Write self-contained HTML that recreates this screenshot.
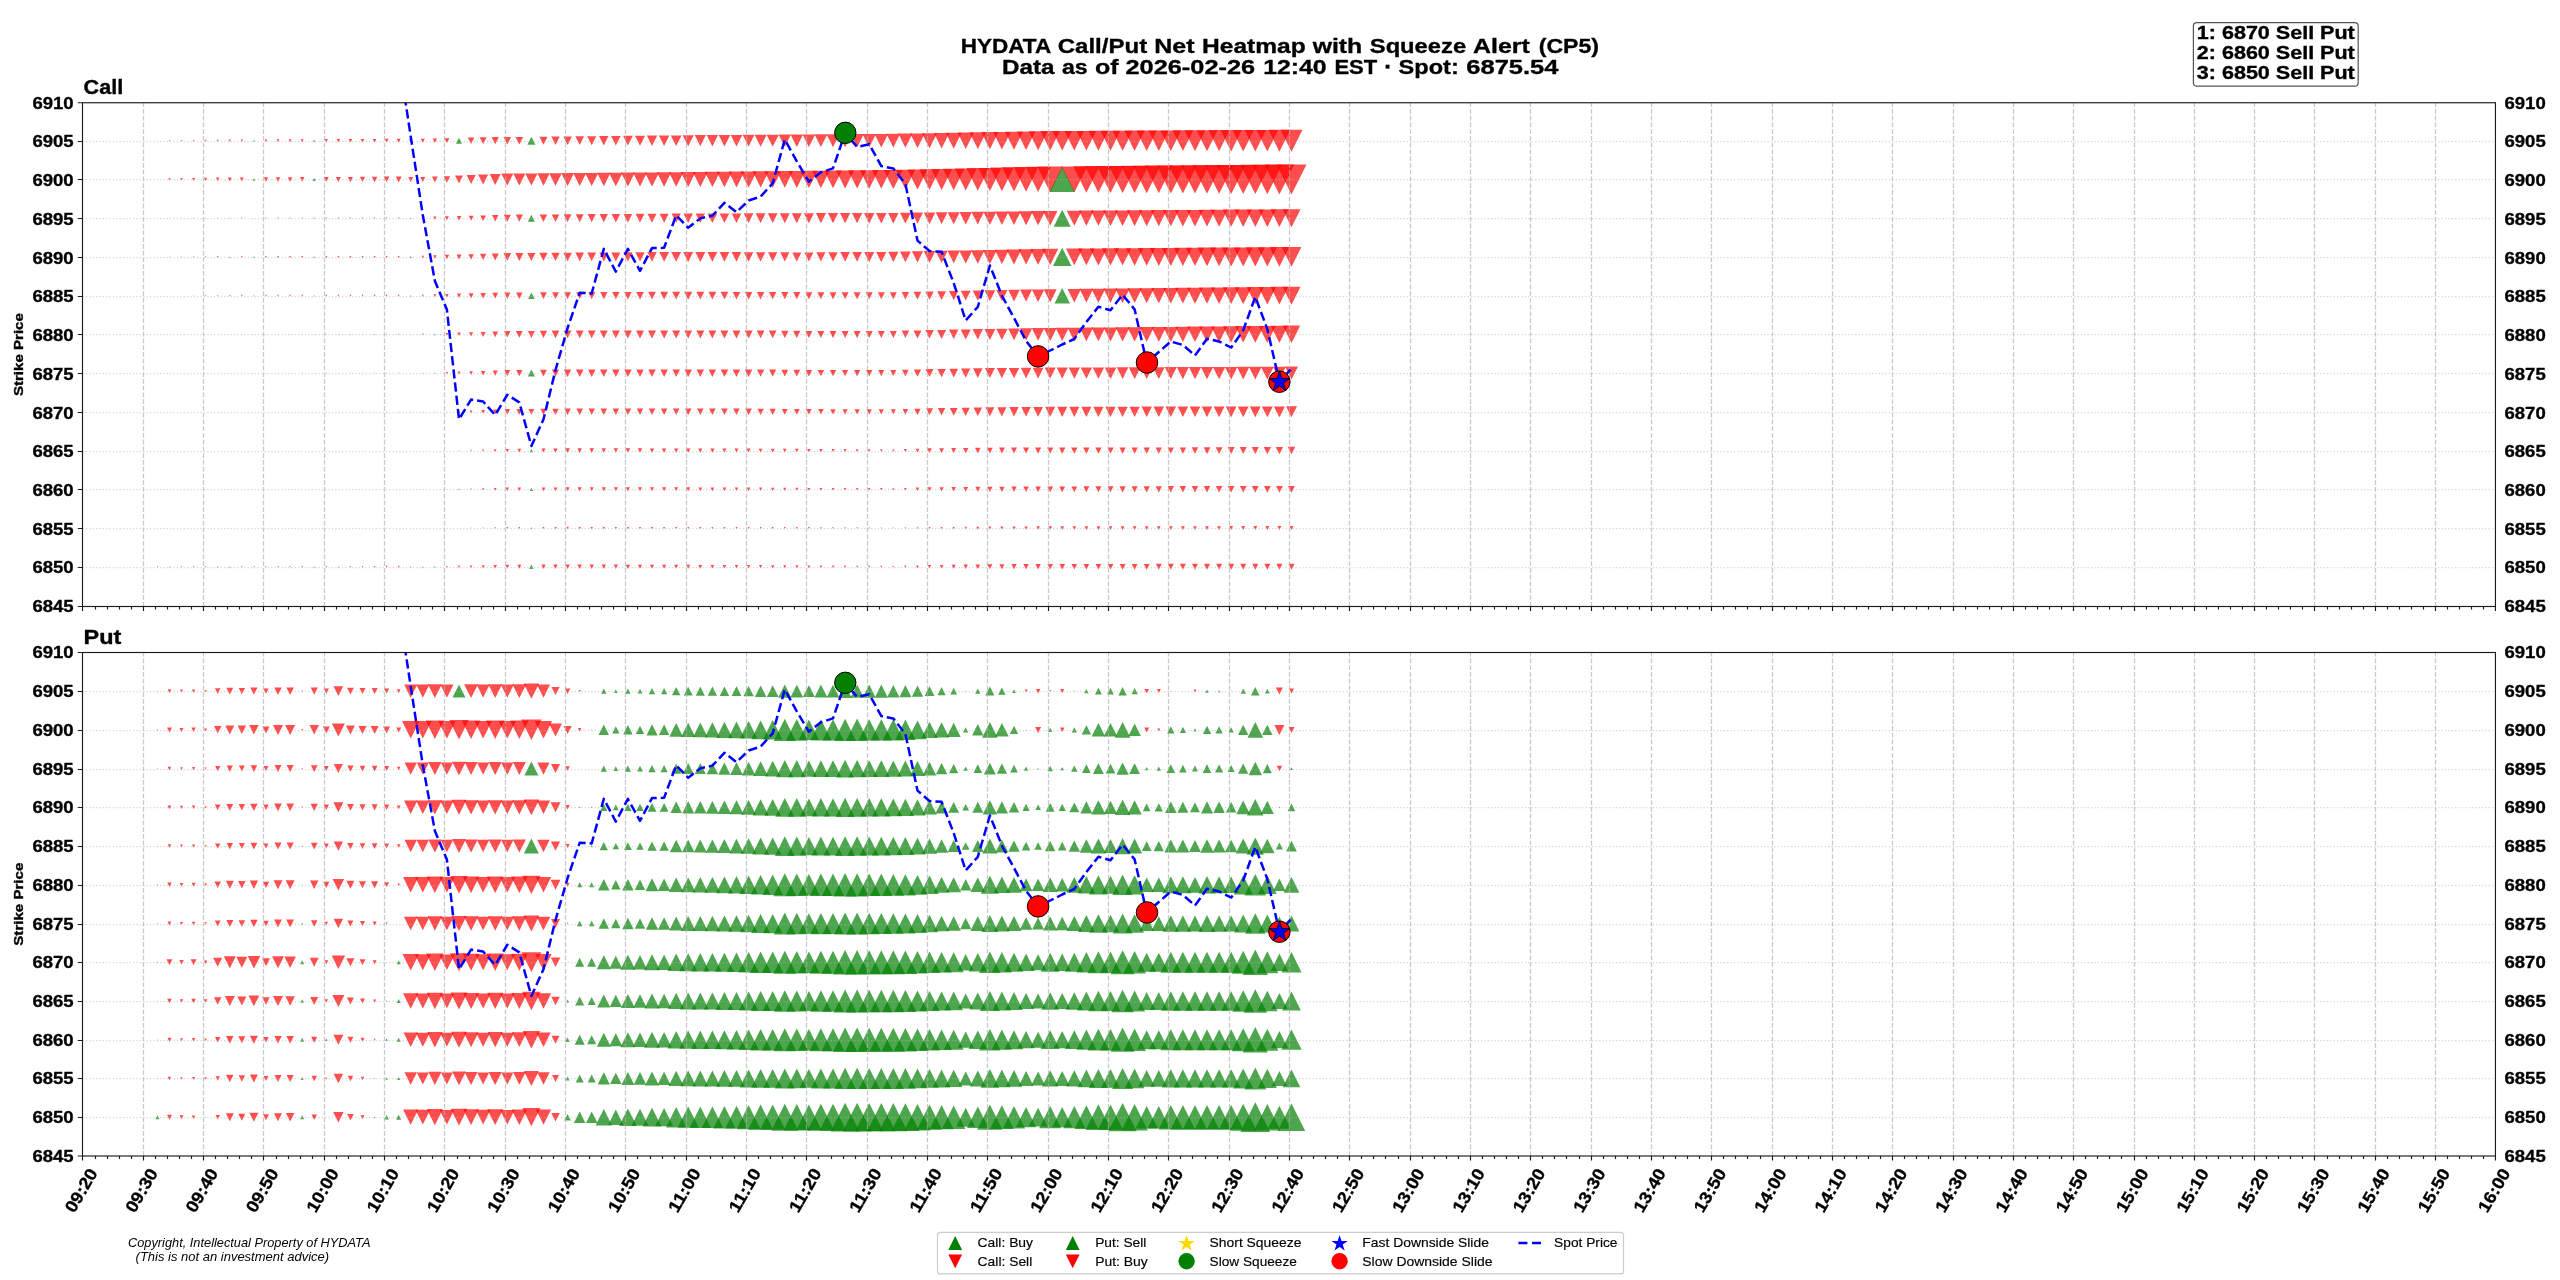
<!DOCTYPE html>
<html><head><meta charset="utf-8"><title>HYDATA Call/Put Net Heatmap</title>
<style>html,body{margin:0;padding:0;background:#fff}svg{display:block}</style></head>
<body>
<svg width="2560" height="1280" viewBox="0 0 2560 1280" font-family="Liberation Sans, sans-serif" fill="#000">
<rect width="2560" height="1280" fill="#fff"/>
<g opacity=".999">
<style>text[font-weight=bold]{stroke:#000;stroke-width:.35px;stroke-linejoin:round}</style>
<defs>
<clipPath id="c1"><rect x="82.5" y="102.75" width="2412.95" height="503.75"/></clipPath>
<clipPath id="c2"><rect x="82.5" y="652.5" width="2412.95" height="503.5"/></clipPath>
</defs>
<g clip-path="url(#c1)">
<g fill="#f00" fill-opacity=".7">
<path d="M169.5 141.4L168.8 140.0H170.1Z"/>
<path d="M181.5 141.5L180.7 139.9H182.3Z"/>
<path d="M193.6 141.6L192.7 139.9H194.5Z"/>
<path d="M205.6 141.7L204.7 139.8H206.6Z"/>
<path d="M217.7 141.8L216.6 139.7H218.8Z"/>
<path d="M229.8 141.9L228.6 139.6H230.9Z"/>
<path d="M241.8 142.0L240.6 139.5H243.1Z"/>
<path d="M266.0 142.1L264.6 139.4H267.3Z"/>
<path d="M278.0 142.1L276.6 139.3H279.4Z"/>
<path d="M290.1 142.2L288.6 139.3H291.6Z"/>
<path d="M302.2 142.2L300.6 139.2H303.7Z"/>
<path d="M326.3 142.4L324.7 139.1H327.9Z"/>
<path d="M338.4 142.4L336.7 139.0H340.0Z"/>
<path d="M350.4 142.5L348.7 139.0H352.2Z"/>
<path d="M362.5 142.5L360.7 138.9H364.3Z"/>
<path d="M374.6 142.6L372.7 138.9H376.4Z"/>
<path d="M386.6 142.7L384.7 138.8H388.6Z"/>
<path d="M398.7 142.8L396.6 138.7H400.7Z"/>
<path d="M410.7 142.4L409.0 139.0H412.4Z"/>
<path d="M422.8 142.7L420.8 138.7H424.8Z"/>
<path d="M434.9 143.0L432.6 138.5H437.1Z"/>
<path d="M446.9 143.2L444.4 138.2H449.4Z"/>
<path d="M471.1 144.0L467.8 137.5H474.3Z"/>
<path d="M483.1 144.1L479.7 137.3H486.6Z"/>
<path d="M495.2 144.3L491.6 137.1H498.8Z"/>
<path d="M507.3 144.5L503.5 137.0H511.0Z"/>
<path d="M519.3 144.6L515.5 136.9H523.2Z"/>
<path d="M543.5 144.8L539.4 136.7H547.5Z"/>
<path d="M555.5 144.9L551.4 136.6H559.7Z"/>
<path d="M567.6 145.0L563.3 136.5H571.9Z"/>
<path d="M579.7 145.1L575.3 136.3H584.0Z"/>
<path d="M591.7 145.2L587.2 136.2H596.2Z"/>
<path d="M603.8 145.4L599.1 136.1H608.4Z"/>
<path d="M615.8 145.5L611.1 136.0H620.6Z"/>
<path d="M627.9 145.6L623.0 135.8H632.8Z"/>
<path d="M640.0 145.7L635.0 135.7H645.0Z"/>
<path d="M652.0 145.9L646.9 135.6H657.2Z"/>
<path d="M664.1 146.0L658.9 135.5H669.4Z"/>
<path d="M676.2 146.1L670.8 135.4H681.5Z"/>
<path d="M688.2 146.2L682.7 135.2H693.7Z"/>
<path d="M700.3 146.3L694.7 135.1H705.9Z"/>
<path d="M712.4 146.4L706.7 135.1H718.0Z"/>
<path d="M724.4 146.5L718.7 135.0H730.2Z"/>
<path d="M736.5 146.6L730.7 134.9H742.3Z"/>
<path d="M748.6 146.6L742.6 134.8H754.5Z"/>
<path d="M760.6 146.7L754.6 134.7H766.6Z"/>
<path d="M772.7 146.8L766.6 134.7H778.8Z"/>
<path d="M784.8 146.9L778.6 134.6H790.9Z"/>
<path d="M796.8 147.0L790.6 134.5H803.1Z"/>
<path d="M808.9 147.1L802.6 134.4H815.2Z"/>
<path d="M820.9 147.1L814.5 134.3H827.4Z"/>
<path d="M833.0 147.2L826.5 134.2H839.5Z"/>
<path d="M845.1 147.3L838.5 134.2H851.6Z"/>
<path d="M857.1 147.4L850.5 134.1H863.8Z"/>
<path d="M869.2 147.5L862.5 134.0H875.9Z"/>
<path d="M881.3 147.5L874.5 133.9H888.1Z"/>
<path d="M893.3 147.6L886.4 133.8H900.2Z"/>
<path d="M905.4 147.8L898.3 133.6H912.5Z"/>
<path d="M917.5 148.1L910.1 133.4H924.8Z"/>
<path d="M929.5 148.3L922.0 133.2H937.1Z"/>
<path d="M941.6 148.5L933.9 133.0H949.3Z"/>
<path d="M953.7 148.7L945.7 132.8H961.6Z"/>
<path d="M965.7 148.9L957.6 132.6H973.9Z"/>
<path d="M977.8 149.1L969.4 132.3H986.2Z"/>
<path d="M989.9 149.3L981.3 132.1H998.4Z"/>
<path d="M1001.9 149.5L993.1 131.9H1010.7Z"/>
<path d="M1014.0 149.7L1005.0 131.7H1023.0Z"/>
<path d="M1026.1 150.0L1016.8 131.5H1035.3Z"/>
<path d="M1038.1 150.2L1028.7 131.3H1047.6Z"/>
<path d="M1050.2 150.4L1040.5 131.1H1059.8Z"/>
<path d="M1062.2 150.4L1052.5 131.0H1072.0Z"/>
<path d="M1074.3 150.5L1064.5 130.9H1084.1Z"/>
<path d="M1086.4 150.6L1076.5 130.9H1096.2Z"/>
<path d="M1098.4 150.7L1088.5 130.8H1108.4Z"/>
<path d="M1110.5 150.7L1100.5 130.7H1120.5Z"/>
<path d="M1122.6 150.8L1112.5 130.7H1132.6Z"/>
<path d="M1134.6 150.9L1124.5 130.6H1144.8Z"/>
<path d="M1146.7 150.9L1136.5 130.5H1156.9Z"/>
<path d="M1158.8 151.0L1148.5 130.5H1169.0Z"/>
<path d="M1170.8 151.1L1160.5 130.4H1181.2Z"/>
<path d="M1182.9 151.1L1172.5 130.3H1193.3Z"/>
<path d="M1195.0 151.2L1184.5 130.3H1205.4Z"/>
<path d="M1207.0 151.3L1196.5 130.2H1217.5Z"/>
<path d="M1219.1 151.3L1208.5 130.1H1229.7Z"/>
<path d="M1231.2 151.4L1220.5 130.1H1241.8Z"/>
<path d="M1243.2 151.5L1232.5 130.0H1253.9Z"/>
<path d="M1255.3 151.5L1244.5 129.9H1266.1Z"/>
<path d="M1267.3 151.6L1256.5 129.9H1278.2Z"/>
<path d="M1279.4 151.7L1268.5 129.8H1290.3Z"/>
<path d="M1291.5 151.7L1280.5 129.7H1302.5Z"/>
<path d="M169.5 180.6L168.3 178.3H170.6Z"/>
<path d="M181.5 180.8L180.2 178.1H182.9Z"/>
<path d="M193.6 181.0L192.1 178.0H195.1Z"/>
<path d="M205.6 181.1L204.0 177.8H207.3Z"/>
<path d="M217.7 181.3L215.9 177.6H219.5Z"/>
<path d="M229.8 181.4L227.8 177.5H231.7Z"/>
<path d="M241.8 181.5L239.8 177.4H243.9Z"/>
<path d="M266.0 181.7L263.8 177.2H268.2Z"/>
<path d="M278.0 181.7L275.8 177.2H280.3Z"/>
<path d="M290.1 181.7L287.8 177.2H292.4Z"/>
<path d="M302.2 181.8L299.9 177.1H304.5Z"/>
<path d="M326.3 181.8L323.9 177.1H328.7Z"/>
<path d="M338.4 181.9L335.9 177.0H340.8Z"/>
<path d="M350.4 182.0L347.9 176.9H353.0Z"/>
<path d="M362.5 182.1L359.9 176.8H365.1Z"/>
<path d="M374.6 182.2L371.8 176.7H377.3Z"/>
<path d="M386.6 182.3L383.8 176.6H389.4Z"/>
<path d="M398.7 182.4L395.8 176.5H401.6Z"/>
<path d="M410.7 181.9L408.3 177.0H413.2Z"/>
<path d="M422.8 182.0L420.3 177.0H425.3Z"/>
<path d="M434.9 182.3L432.0 176.6H437.8Z"/>
<path d="M446.9 182.7L443.7 176.2H450.2Z"/>
<path d="M459.0 183.5L455.0 175.5H463.0Z"/>
<path d="M471.1 184.0L466.6 175.0H475.6Z"/>
<path d="M483.1 184.5L478.1 174.5H488.1Z"/>
<path d="M495.2 185.0L489.7 174.0H500.7Z"/>
<path d="M507.3 185.5L501.3 173.5H513.3Z"/>
<path d="M519.3 185.5L513.3 173.4H525.4Z"/>
<path d="M531.4 185.6L525.3 173.4H537.5Z"/>
<path d="M543.5 185.7L537.3 173.3H549.7Z"/>
<path d="M555.5 185.8L549.2 173.2H561.8Z"/>
<path d="M567.6 185.9L561.2 173.1H574.0Z"/>
<path d="M579.7 186.0L573.2 173.0H586.2Z"/>
<path d="M591.7 186.1L585.1 172.9H598.3Z"/>
<path d="M603.8 186.2L597.1 172.8H610.5Z"/>
<path d="M615.8 186.3L609.0 172.7H622.6Z"/>
<path d="M627.9 186.4L621.0 172.6H634.8Z"/>
<path d="M640.0 186.5L633.0 172.5H647.0Z"/>
<path d="M652.0 186.6L644.9 172.4H659.1Z"/>
<path d="M664.1 186.7L656.9 172.3H671.3Z"/>
<path d="M676.2 186.8L668.9 172.2H683.5Z"/>
<path d="M688.2 186.9L680.8 172.1H695.6Z"/>
<path d="M700.3 187.0L692.8 171.9H707.8Z"/>
<path d="M712.4 187.1L704.7 171.8H720.0Z"/>
<path d="M724.4 187.2L716.7 171.7H732.2Z"/>
<path d="M736.5 187.4L728.6 171.6H744.4Z"/>
<path d="M748.6 187.5L740.5 171.4H756.6Z"/>
<path d="M760.6 187.6L752.5 171.3H768.8Z"/>
<path d="M772.7 187.7L764.4 171.2H781.0Z"/>
<path d="M784.8 187.8L776.4 171.1H793.1Z"/>
<path d="M796.8 188.0L788.3 170.9H805.3Z"/>
<path d="M808.9 188.1L800.2 170.8H817.5Z"/>
<path d="M820.9 188.2L812.2 170.7H829.7Z"/>
<path d="M833.0 188.3L824.1 170.6H841.9Z"/>
<path d="M845.1 188.5L836.1 170.5H854.1Z"/>
<path d="M857.1 188.6L848.0 170.3H866.3Z"/>
<path d="M869.2 188.7L860.0 170.2H878.5Z"/>
<path d="M881.3 188.8L871.9 170.1H890.6Z"/>
<path d="M893.3 189.0L883.8 170.0H902.8Z"/>
<path d="M905.4 189.2L895.6 169.7H915.2Z"/>
<path d="M917.5 189.5L907.4 169.4H927.5Z"/>
<path d="M929.5 189.7L919.2 169.2H939.8Z"/>
<path d="M941.6 190.0L931.1 168.9H952.1Z"/>
<path d="M953.7 190.3L942.9 168.7H964.5Z"/>
<path d="M965.7 190.5L954.7 168.4H976.8Z"/>
<path d="M977.8 190.8L966.5 168.1H989.1Z"/>
<path d="M989.9 191.1L978.3 167.9H1001.4Z"/>
<path d="M1001.9 191.3L990.1 167.6H1013.8Z"/>
<path d="M1014.0 191.6L1001.9 167.3H1026.1Z"/>
<path d="M1026.1 191.8L1013.7 167.1H1038.4Z"/>
<path d="M1038.1 192.1L1025.5 166.8H1050.8Z"/>
<path d="M1050.2 192.4L1037.3 166.6H1063.1Z"/>
<path d="M1074.3 192.6L1061.2 166.4H1087.4Z"/>
<path d="M1086.4 192.7L1073.2 166.2H1099.6Z"/>
<path d="M1098.4 192.8L1085.1 166.1H1111.8Z"/>
<path d="M1110.5 192.9L1097.1 166.0H1123.9Z"/>
<path d="M1122.6 193.0L1109.0 165.9H1136.1Z"/>
<path d="M1134.6 193.1L1121.0 165.8H1148.3Z"/>
<path d="M1146.7 193.2L1133.0 165.7H1160.4Z"/>
<path d="M1158.8 193.3L1144.9 165.6H1172.6Z"/>
<path d="M1170.8 193.4L1156.9 165.5H1184.8Z"/>
<path d="M1182.9 193.5L1168.8 165.4H1196.9Z"/>
<path d="M1195.0 193.6L1180.8 165.3H1209.1Z"/>
<path d="M1207.0 193.7L1192.8 165.2H1221.3Z"/>
<path d="M1219.1 193.8L1204.7 165.1H1233.5Z"/>
<path d="M1231.2 193.9L1216.7 165.0H1245.6Z"/>
<path d="M1243.2 194.0L1228.6 164.9H1257.8Z"/>
<path d="M1255.3 194.1L1240.6 164.8H1270.0Z"/>
<path d="M1267.3 194.3L1252.6 164.7H1282.1Z"/>
<path d="M1279.4 194.4L1264.5 164.6H1294.3Z"/>
<path d="M1291.5 194.5L1276.5 164.5H1306.5Z"/>
<path d="M169.5 218.6L169.0 217.8H169.9Z"/>
<path d="M181.5 218.6L181.1 217.7H182.0Z"/>
<path d="M193.6 218.7L193.1 217.7H194.1Z"/>
<path d="M205.6 218.7L205.2 217.7H206.1Z"/>
<path d="M217.7 218.7L217.2 217.7H218.2Z"/>
<path d="M229.8 218.7L229.2 217.7H230.3Z"/>
<path d="M241.8 218.7L241.3 217.6H242.4Z"/>
<path d="M266.0 218.8L265.4 217.6H266.6Z"/>
<path d="M278.0 218.8L277.4 217.6H278.6Z"/>
<path d="M290.1 218.8L289.5 217.6H290.7Z"/>
<path d="M302.2 218.8L301.5 217.5H302.8Z"/>
<path d="M314.2 218.9L313.6 217.5H314.9Z"/>
<path d="M326.3 218.9L325.6 217.5H327.0Z"/>
<path d="M338.4 218.9L337.7 217.5H339.1Z"/>
<path d="M350.4 218.9L349.7 217.5H351.2Z"/>
<path d="M362.5 218.9L361.7 217.4H363.2Z"/>
<path d="M374.6 219.0L373.8 217.4H375.3Z"/>
<path d="M386.6 219.0L385.8 217.4H387.4Z"/>
<path d="M398.7 219.0L397.9 217.4H399.5Z"/>
<path d="M422.8 219.4L421.6 216.9H424.1Z"/>
<path d="M434.9 219.8L433.3 216.6H436.5Z"/>
<path d="M446.9 220.2L444.9 216.2H448.9Z"/>
<path d="M459.0 220.4L456.8 215.9H461.3Z"/>
<path d="M471.1 220.7L468.6 215.7H473.6Z"/>
<path d="M483.1 221.0L480.3 215.4H486.0Z"/>
<path d="M495.2 221.4L492.0 215.0H498.4Z"/>
<path d="M507.3 221.7L503.8 214.7H510.8Z"/>
<path d="M519.3 221.8L515.8 214.6H522.9Z"/>
<path d="M543.5 221.9L539.7 214.5H547.2Z"/>
<path d="M555.5 222.0L551.7 214.4H559.3Z"/>
<path d="M567.6 222.1L563.7 214.3H571.5Z"/>
<path d="M579.7 222.2L575.7 214.2H583.6Z"/>
<path d="M591.7 222.3L587.7 214.1H595.8Z"/>
<path d="M603.8 222.3L599.6 214.1H607.9Z"/>
<path d="M615.8 222.4L611.6 214.0H620.1Z"/>
<path d="M627.9 222.5L623.6 213.9H632.2Z"/>
<path d="M640.0 222.6L635.6 213.8H644.4Z"/>
<path d="M652.0 222.7L647.6 213.7H656.5Z"/>
<path d="M664.1 222.7L659.6 213.7H668.6Z"/>
<path d="M676.2 222.8L671.6 213.6H680.8Z"/>
<path d="M688.2 222.9L683.5 213.5H692.9Z"/>
<path d="M700.3 222.9L695.6 213.5H705.0Z"/>
<path d="M712.4 223.0L707.6 213.4H717.1Z"/>
<path d="M724.4 223.0L719.6 213.4H729.2Z"/>
<path d="M736.5 223.0L731.7 213.4H741.3Z"/>
<path d="M748.6 223.1L743.7 213.3H753.4Z"/>
<path d="M760.6 223.1L755.7 213.3H765.5Z"/>
<path d="M772.7 223.1L767.8 213.3H777.6Z"/>
<path d="M784.8 223.2L779.8 213.2H789.7Z"/>
<path d="M796.8 223.2L791.8 213.2H801.8Z"/>
<path d="M808.9 223.2L803.9 213.2H813.9Z"/>
<path d="M820.9 223.2L815.9 213.1H826.0Z"/>
<path d="M833.0 223.3L827.9 213.1H838.1Z"/>
<path d="M845.1 223.3L840.0 213.1H850.2Z"/>
<path d="M857.1 223.3L852.0 213.0H862.3Z"/>
<path d="M869.2 223.4L864.0 213.0H874.4Z"/>
<path d="M881.3 223.4L876.1 213.0H886.5Z"/>
<path d="M893.3 223.4L888.1 212.9H898.6Z"/>
<path d="M905.4 223.6L900.0 212.8H910.8Z"/>
<path d="M917.5 223.8L911.9 212.6H923.0Z"/>
<path d="M929.5 223.9L923.8 212.5H935.3Z"/>
<path d="M941.6 224.1L935.7 212.3H947.5Z"/>
<path d="M953.7 224.2L947.6 212.2H959.7Z"/>
<path d="M965.7 224.4L959.5 212.0H971.9Z"/>
<path d="M977.8 224.5L971.4 211.8H984.1Z"/>
<path d="M989.9 224.7L983.3 211.7H996.4Z"/>
<path d="M1001.9 224.9L995.3 211.5H1008.6Z"/>
<path d="M1014.0 225.0L1007.2 211.4H1020.8Z"/>
<path d="M1026.1 225.2L1019.1 211.2H1033.0Z"/>
<path d="M1038.1 225.3L1031.0 211.0H1045.3Z"/>
<path d="M1050.2 225.5L1042.9 210.9H1057.5Z"/>
<path d="M1074.3 225.7L1066.8 210.7H1081.8Z"/>
<path d="M1086.4 225.7L1078.8 210.6H1093.9Z"/>
<path d="M1098.4 225.8L1090.8 210.6H1106.1Z"/>
<path d="M1110.5 225.9L1102.8 210.5H1118.2Z"/>
<path d="M1122.6 226.0L1114.8 210.4H1130.4Z"/>
<path d="M1134.6 226.1L1126.7 210.3H1142.5Z"/>
<path d="M1146.7 226.2L1138.7 210.2H1154.7Z"/>
<path d="M1158.8 226.3L1150.7 210.1H1166.8Z"/>
<path d="M1170.8 226.3L1162.7 210.0H1179.0Z"/>
<path d="M1182.9 226.4L1174.7 210.0H1191.1Z"/>
<path d="M1195.0 226.5L1186.6 209.9H1203.3Z"/>
<path d="M1207.0 226.6L1198.6 209.8H1215.4Z"/>
<path d="M1219.1 226.7L1210.6 209.7H1227.6Z"/>
<path d="M1231.2 226.8L1222.6 209.6H1239.7Z"/>
<path d="M1243.2 226.9L1234.6 209.5H1251.9Z"/>
<path d="M1255.3 226.9L1246.5 209.4H1264.0Z"/>
<path d="M1267.3 227.0L1258.5 209.4H1276.2Z"/>
<path d="M1279.4 227.1L1270.5 209.3H1288.3Z"/>
<path d="M1291.5 227.2L1282.5 209.2H1300.5Z"/>
<path d="M169.5 257.4L169.0 256.5H169.9Z"/>
<path d="M181.5 257.4L181.0 256.4H182.0Z"/>
<path d="M193.6 257.5L193.0 256.3H194.2Z"/>
<path d="M205.6 257.6L204.9 256.2H206.3Z"/>
<path d="M217.7 257.7L216.9 256.1H218.5Z"/>
<path d="M241.8 257.8L241.0 256.0H242.7Z"/>
<path d="M266.0 257.8L265.0 256.0H266.9Z"/>
<path d="M278.0 257.9L277.1 256.0H279.0Z"/>
<path d="M290.1 257.9L289.1 256.0H291.1Z"/>
<path d="M302.2 257.9L301.2 256.0H303.1Z"/>
<path d="M326.3 257.9L325.3 255.9H327.3Z"/>
<path d="M338.4 257.9L337.4 255.9H339.4Z"/>
<path d="M350.4 257.9L349.4 255.9H351.4Z"/>
<path d="M362.5 257.9L361.5 255.9H363.5Z"/>
<path d="M374.6 257.9L373.6 255.9H375.6Z"/>
<path d="M386.6 257.9L385.6 255.9H387.6Z"/>
<path d="M398.7 257.9L397.7 255.9H399.7Z"/>
<path d="M422.8 258.2L421.6 255.7H424.1Z"/>
<path d="M434.9 258.7L433.1 255.2H436.6Z"/>
<path d="M446.9 259.2L444.7 254.7H449.2Z"/>
<path d="M459.0 259.4L456.5 254.4H461.5Z"/>
<path d="M471.1 259.7L468.3 254.2H473.8Z"/>
<path d="M483.1 260.1L480.0 253.8H486.3Z"/>
<path d="M495.2 260.4L491.7 253.4H498.7Z"/>
<path d="M507.3 260.8L503.4 253.0H511.2Z"/>
<path d="M519.3 260.9L515.4 252.9H523.3Z"/>
<path d="M531.4 261.0L527.3 252.9H535.4Z"/>
<path d="M543.5 261.0L539.3 252.8H547.6Z"/>
<path d="M555.5 261.1L551.3 252.7H559.7Z"/>
<path d="M567.6 261.2L563.3 252.7H571.9Z"/>
<path d="M579.7 261.3L575.3 252.6H584.0Z"/>
<path d="M591.7 261.3L587.3 252.5H596.1Z"/>
<path d="M603.8 261.4L599.3 252.4H608.3Z"/>
<path d="M615.8 261.5L611.3 252.4H620.4Z"/>
<path d="M627.9 261.6L623.3 252.3H632.5Z"/>
<path d="M640.0 261.6L635.3 252.2H644.7Z"/>
<path d="M652.0 261.7L647.3 252.1H656.8Z"/>
<path d="M664.1 261.8L659.3 252.1H669.0Z"/>
<path d="M676.2 261.8L671.2 252.0H681.1Z"/>
<path d="M688.2 261.9L683.2 251.9H693.2Z"/>
<path d="M700.3 261.9L695.4 252.0H705.3Z"/>
<path d="M712.4 261.8L707.5 252.0H717.3Z"/>
<path d="M724.4 261.8L719.6 252.1H729.3Z"/>
<path d="M736.5 261.7L731.7 252.1H741.3Z"/>
<path d="M748.6 261.7L743.8 252.2H753.3Z"/>
<path d="M760.6 261.6L755.9 252.2H765.3Z"/>
<path d="M772.7 261.6L768.0 252.3H777.3Z"/>
<path d="M784.8 261.5L780.2 252.3H789.4Z"/>
<path d="M796.8 261.5L792.3 252.4H801.4Z"/>
<path d="M808.9 261.4L804.4 252.4H813.4Z"/>
<path d="M820.9 261.5L816.4 252.3H825.5Z"/>
<path d="M833.0 261.6L828.3 252.2H837.7Z"/>
<path d="M845.1 261.7L840.3 252.1H849.9Z"/>
<path d="M857.1 261.8L852.3 252.1H862.0Z"/>
<path d="M869.2 261.9L864.2 252.0H874.2Z"/>
<path d="M881.3 262.0L876.2 251.9H886.3Z"/>
<path d="M893.3 262.1L888.2 251.8H898.5Z"/>
<path d="M905.4 262.3L900.0 251.5H910.8Z"/>
<path d="M917.5 262.5L911.9 251.3H923.1Z"/>
<path d="M929.5 262.8L923.7 251.1H935.4Z"/>
<path d="M941.6 263.0L935.5 250.8H947.7Z"/>
<path d="M953.7 263.2L947.4 250.6H960.0Z"/>
<path d="M965.7 263.5L959.2 250.4H972.3Z"/>
<path d="M977.8 263.7L971.0 250.2H984.6Z"/>
<path d="M989.9 263.9L982.9 249.9H996.9Z"/>
<path d="M1001.9 264.1L994.7 249.7H1009.1Z"/>
<path d="M1014.0 264.4L1006.5 249.5H1021.4Z"/>
<path d="M1026.1 264.6L1018.4 249.2H1033.7Z"/>
<path d="M1038.1 264.8L1030.2 249.0H1046.0Z"/>
<path d="M1050.2 265.1L1042.0 248.8H1058.3Z"/>
<path d="M1074.3 265.2L1066.0 248.6H1082.6Z"/>
<path d="M1086.4 265.3L1078.0 248.5H1094.8Z"/>
<path d="M1098.4 265.4L1089.9 248.4H1106.9Z"/>
<path d="M1110.5 265.5L1101.9 248.3H1119.1Z"/>
<path d="M1122.6 265.6L1113.9 248.2H1131.2Z"/>
<path d="M1134.6 265.7L1125.9 248.2H1143.4Z"/>
<path d="M1146.7 265.8L1137.8 248.1H1155.5Z"/>
<path d="M1158.8 265.9L1149.8 248.0H1167.7Z"/>
<path d="M1170.8 265.9L1161.8 247.9H1179.9Z"/>
<path d="M1182.9 266.0L1173.8 247.8H1192.0Z"/>
<path d="M1195.0 266.1L1185.8 247.7H1204.2Z"/>
<path d="M1207.0 266.2L1197.7 247.6H1216.3Z"/>
<path d="M1219.1 266.3L1209.7 247.5H1228.5Z"/>
<path d="M1231.2 266.4L1221.7 247.5H1240.6Z"/>
<path d="M1243.2 266.5L1233.7 247.4H1252.8Z"/>
<path d="M1255.3 266.6L1245.6 247.3H1264.9Z"/>
<path d="M1267.3 266.6L1257.6 247.2H1277.1Z"/>
<path d="M1279.4 266.7L1269.6 247.1H1289.2Z"/>
<path d="M1291.5 266.8L1281.6 247.0H1301.4Z"/>
<path d="M193.6 296.1L193.1 295.2H194.0Z"/>
<path d="M205.6 296.2L205.1 295.1H206.2Z"/>
<path d="M217.7 296.3L217.1 295.0H218.3Z"/>
<path d="M229.8 296.4L229.1 294.9H230.5Z"/>
<path d="M241.8 296.5L241.0 294.8H242.7Z"/>
<path d="M266.0 296.5L265.1 294.8H266.8Z"/>
<path d="M278.0 296.5L277.2 294.8H278.9Z"/>
<path d="M290.1 296.5L289.2 294.8H291.0Z"/>
<path d="M302.2 296.6L301.3 294.8H303.1Z"/>
<path d="M326.3 296.6L325.4 294.7H327.2Z"/>
<path d="M338.4 296.6L337.4 294.7H339.3Z"/>
<path d="M350.4 296.6L349.5 294.7H351.4Z"/>
<path d="M362.5 296.6L361.6 294.7H363.4Z"/>
<path d="M374.6 296.6L373.6 294.7H375.5Z"/>
<path d="M386.6 296.6L385.7 294.7H387.6Z"/>
<path d="M398.7 296.6L397.7 294.7H399.6Z"/>
<path d="M422.8 296.7L421.8 294.7H423.8Z"/>
<path d="M434.9 297.0L433.5 294.3H436.3Z"/>
<path d="M446.9 297.4L445.2 293.9H448.7Z"/>
<path d="M459.0 297.8L456.9 293.5H461.1Z"/>
<path d="M471.1 298.2L468.6 293.2H473.6Z"/>
<path d="M483.1 298.4L480.4 292.9H485.9Z"/>
<path d="M495.2 298.6L492.3 292.7H498.1Z"/>
<path d="M507.3 298.8L504.1 292.5H510.4Z"/>
<path d="M519.3 298.9L516.1 292.4H522.5Z"/>
<path d="M543.5 299.0L540.1 292.3H546.8Z"/>
<path d="M555.5 299.0L552.1 292.3H558.9Z"/>
<path d="M567.6 299.1L564.2 292.2H571.0Z"/>
<path d="M579.7 299.1L576.2 292.2H583.1Z"/>
<path d="M591.7 299.2L588.2 292.1H595.3Z"/>
<path d="M603.8 299.3L600.2 292.1H607.4Z"/>
<path d="M615.8 299.3L612.2 292.0H619.5Z"/>
<path d="M627.9 299.4L624.2 291.9H631.6Z"/>
<path d="M640.0 299.4L636.2 291.9H643.8Z"/>
<path d="M652.0 299.5L648.2 291.8H655.9Z"/>
<path d="M664.1 299.5L660.2 291.8H668.0Z"/>
<path d="M676.2 299.6L672.2 291.7H680.1Z"/>
<path d="M688.2 299.7L684.2 291.7H692.2Z"/>
<path d="M700.3 299.6L696.4 291.7H704.3Z"/>
<path d="M712.4 299.6L708.5 291.8H716.3Z"/>
<path d="M724.4 299.5L720.6 291.8H728.3Z"/>
<path d="M736.5 299.5L732.7 291.9H740.3Z"/>
<path d="M748.6 299.4L744.8 291.9H752.3Z"/>
<path d="M760.6 299.4L756.9 292.0H764.3Z"/>
<path d="M772.7 299.3L769.0 292.0H776.3Z"/>
<path d="M784.8 299.3L781.2 292.1H788.4Z"/>
<path d="M796.8 299.2L793.3 292.1H800.4Z"/>
<path d="M808.9 299.2L805.4 292.2H812.4Z"/>
<path d="M820.9 299.2L817.4 292.2H824.4Z"/>
<path d="M833.0 299.2L829.5 292.2H836.5Z"/>
<path d="M845.1 299.2L841.6 292.2H848.6Z"/>
<path d="M857.1 299.2L853.6 292.2H860.6Z"/>
<path d="M869.2 299.2L865.7 292.2H872.7Z"/>
<path d="M881.3 299.2L877.8 292.2H884.8Z"/>
<path d="M893.3 299.2L889.8 292.2H896.8Z"/>
<path d="M905.4 299.4L901.7 291.9H909.1Z"/>
<path d="M917.5 299.6L913.5 291.7H921.4Z"/>
<path d="M929.5 299.8L925.3 291.5H933.7Z"/>
<path d="M941.6 300.1L937.2 291.2H946.0Z"/>
<path d="M953.7 300.3L949.0 291.0H958.3Z"/>
<path d="M965.7 300.5L960.8 290.8H970.6Z"/>
<path d="M977.8 300.8L972.7 290.5H982.9Z"/>
<path d="M989.9 301.0L984.5 290.3H995.2Z"/>
<path d="M1001.9 301.2L996.3 290.1H1007.5Z"/>
<path d="M1014.0 301.5L1008.2 289.8H1019.8Z"/>
<path d="M1026.1 301.7L1020.0 289.6H1032.1Z"/>
<path d="M1038.1 301.9L1031.8 289.4H1044.4Z"/>
<path d="M1050.2 302.2L1043.7 289.2H1056.7Z"/>
<path d="M1074.3 302.4L1067.6 288.9H1081.1Z"/>
<path d="M1086.4 302.5L1079.5 288.8H1093.2Z"/>
<path d="M1098.4 302.7L1091.4 288.7H1105.4Z"/>
<path d="M1110.5 302.8L1103.4 288.5H1117.6Z"/>
<path d="M1122.6 302.9L1115.3 288.4H1129.8Z"/>
<path d="M1134.6 303.0L1127.3 288.3H1142.0Z"/>
<path d="M1146.7 303.2L1139.2 288.2H1154.2Z"/>
<path d="M1158.8 303.3L1151.1 288.0H1166.4Z"/>
<path d="M1170.8 303.4L1163.1 287.9H1178.6Z"/>
<path d="M1182.9 303.5L1175.0 287.8H1190.8Z"/>
<path d="M1195.0 303.7L1187.0 287.7H1203.0Z"/>
<path d="M1207.0 303.8L1198.9 287.5H1215.1Z"/>
<path d="M1219.1 303.9L1210.8 287.4H1227.3Z"/>
<path d="M1231.2 304.0L1222.8 287.3H1239.5Z"/>
<path d="M1243.2 304.2L1234.7 287.2H1251.7Z"/>
<path d="M1255.3 304.3L1246.7 287.0H1263.9Z"/>
<path d="M1267.3 304.4L1258.6 286.9H1276.1Z"/>
<path d="M1279.4 304.5L1270.5 286.8H1288.3Z"/>
<path d="M1291.5 304.7L1282.5 286.7H1300.5Z"/>
<path d="M229.8 334.7L229.5 334.1H230.1Z"/>
<path d="M241.8 334.7L241.5 334.1H242.2Z"/>
<path d="M253.9 334.7L253.6 334.0H254.3Z"/>
<path d="M266.0 334.8L265.6 334.0H266.3Z"/>
<path d="M278.0 334.8L277.7 334.0H278.4Z"/>
<path d="M290.1 334.8L289.7 334.0H290.5Z"/>
<path d="M302.2 334.8L301.7 334.0H302.6Z"/>
<path d="M314.2 334.8L313.8 333.9H314.7Z"/>
<path d="M326.3 334.8L325.8 333.9H326.8Z"/>
<path d="M338.4 334.9L337.9 333.9H338.8Z"/>
<path d="M350.4 334.9L349.9 333.9H350.9Z"/>
<path d="M362.5 334.9L362.0 333.9H363.0Z"/>
<path d="M374.6 334.9L374.0 333.9H375.1Z"/>
<path d="M386.6 334.9L386.1 333.8H387.2Z"/>
<path d="M398.7 334.9L398.1 333.8H399.2Z"/>
<path d="M422.8 335.2L422.0 333.6H423.6Z"/>
<path d="M446.9 335.8L445.6 333.0H448.3Z"/>
<path d="M459.0 336.1L457.3 332.6H460.8Z"/>
<path d="M471.1 336.5L468.9 332.3H473.2Z"/>
<path d="M483.1 336.9L480.6 331.9H485.6Z"/>
<path d="M495.2 337.3L492.3 331.5H498.1Z"/>
<path d="M507.3 337.6L504.0 331.1H510.5Z"/>
<path d="M519.3 337.8L515.9 331.0H522.7Z"/>
<path d="M531.4 337.9L527.9 330.9H534.9Z"/>
<path d="M543.5 338.1L539.8 330.7H547.1Z"/>
<path d="M555.5 338.2L551.7 330.6H559.3Z"/>
<path d="M567.6 338.3L563.6 330.4H571.5Z"/>
<path d="M579.7 338.3L575.7 330.4H583.6Z"/>
<path d="M591.7 338.3L587.8 330.4H595.7Z"/>
<path d="M603.8 338.3L599.8 330.4H607.7Z"/>
<path d="M615.8 338.3L611.9 330.4H619.8Z"/>
<path d="M627.9 338.4L623.9 330.4H631.9Z"/>
<path d="M640.0 338.4L636.0 330.4H643.9Z"/>
<path d="M652.0 338.4L648.1 330.4H656.0Z"/>
<path d="M664.1 338.4L660.1 330.4H668.1Z"/>
<path d="M676.2 338.4L672.2 330.4H680.2Z"/>
<path d="M688.2 338.4L684.3 330.4H692.2Z"/>
<path d="M700.3 338.4L696.3 330.4H704.3Z"/>
<path d="M712.4 338.4L708.4 330.4H716.4Z"/>
<path d="M724.4 338.4L720.4 330.4H728.4Z"/>
<path d="M736.5 338.4L732.5 330.4H740.5Z"/>
<path d="M748.6 338.4L744.6 330.4H752.6Z"/>
<path d="M760.6 338.3L756.7 330.5H764.5Z"/>
<path d="M772.7 338.2L768.9 330.6H776.5Z"/>
<path d="M784.8 338.1L781.1 330.7H788.5Z"/>
<path d="M796.8 338.0L793.2 330.8H800.4Z"/>
<path d="M808.9 337.9L805.4 330.9H812.4Z"/>
<path d="M820.9 337.9L817.4 330.9H824.4Z"/>
<path d="M833.0 337.9L829.5 330.9H836.5Z"/>
<path d="M845.1 337.9L841.6 330.9H848.6Z"/>
<path d="M857.1 337.9L853.6 330.9H860.6Z"/>
<path d="M869.2 337.9L865.7 330.9H872.7Z"/>
<path d="M881.3 337.9L877.8 330.9H884.8Z"/>
<path d="M893.3 337.9L889.8 330.9H896.8Z"/>
<path d="M905.4 338.1L901.7 330.6H909.2Z"/>
<path d="M917.5 338.4L913.5 330.4H921.5Z"/>
<path d="M929.5 338.6L925.3 330.1H933.8Z"/>
<path d="M941.6 338.9L937.1 329.9H946.1Z"/>
<path d="M953.7 339.1L948.9 329.6H958.4Z"/>
<path d="M965.7 339.4L960.7 329.4H970.7Z"/>
<path d="M977.8 339.6L972.5 329.1H983.0Z"/>
<path d="M989.9 339.9L984.4 328.9H995.4Z"/>
<path d="M1001.9 340.1L996.2 328.7H1007.6Z"/>
<path d="M1014.0 340.3L1008.1 328.5H1019.9Z"/>
<path d="M1026.1 340.5L1020.0 328.3H1032.2Z"/>
<path d="M1038.1 340.7L1031.8 328.1H1044.4Z"/>
<path d="M1050.2 340.9L1043.7 327.9H1056.7Z"/>
<path d="M1062.2 341.0L1055.6 327.8H1068.8Z"/>
<path d="M1074.3 341.1L1067.6 327.7H1081.0Z"/>
<path d="M1086.4 341.2L1079.6 327.6H1093.2Z"/>
<path d="M1098.4 341.3L1091.5 327.5H1105.3Z"/>
<path d="M1110.5 341.4L1103.5 327.4H1117.5Z"/>
<path d="M1122.6 341.5L1115.5 327.3H1129.7Z"/>
<path d="M1134.6 341.6L1127.4 327.2H1141.8Z"/>
<path d="M1146.7 341.7L1139.4 327.1H1154.0Z"/>
<path d="M1158.8 341.8L1151.4 327.0H1166.2Z"/>
<path d="M1170.8 341.9L1163.3 326.9H1178.3Z"/>
<path d="M1182.9 342.0L1175.3 326.8H1190.5Z"/>
<path d="M1195.0 342.1L1187.2 326.6H1202.7Z"/>
<path d="M1207.0 342.3L1199.1 326.5H1214.9Z"/>
<path d="M1219.1 342.4L1211.1 326.4H1227.1Z"/>
<path d="M1231.2 342.5L1223.0 326.3H1239.3Z"/>
<path d="M1243.2 342.6L1235.0 326.1H1251.5Z"/>
<path d="M1255.3 342.8L1246.9 326.0H1263.7Z"/>
<path d="M1267.3 342.9L1258.8 325.9H1275.8Z"/>
<path d="M1279.4 343.0L1270.8 325.8H1288.0Z"/>
<path d="M1291.5 343.1L1282.7 325.6H1300.2Z"/>
<path d="M229.8 373.4L229.5 372.9H230.0Z"/>
<path d="M241.8 373.4L241.6 372.8H242.1Z"/>
<path d="M253.9 373.4L253.6 372.8H254.2Z"/>
<path d="M266.0 373.4L265.7 372.8H266.3Z"/>
<path d="M278.0 373.4L277.7 372.8H278.3Z"/>
<path d="M290.1 373.4L289.8 372.8H290.4Z"/>
<path d="M302.2 373.5L301.8 372.8H302.5Z"/>
<path d="M314.2 373.5L313.9 372.8H314.6Z"/>
<path d="M326.3 373.5L325.9 372.7H326.7Z"/>
<path d="M338.4 373.5L338.0 372.7H338.8Z"/>
<path d="M350.4 373.5L350.0 372.7H350.8Z"/>
<path d="M362.5 373.5L362.1 372.7H362.9Z"/>
<path d="M374.6 373.6L374.1 372.7H375.0Z"/>
<path d="M386.6 373.6L386.2 372.7H387.1Z"/>
<path d="M398.7 373.6L398.2 372.6H399.2Z"/>
<path d="M446.9 374.2L445.8 372.0H448.1Z"/>
<path d="M459.0 374.6L457.5 371.6H460.5Z"/>
<path d="M471.1 375.0L469.2 371.2H472.9Z"/>
<path d="M483.1 375.4L480.9 370.9H485.4Z"/>
<path d="M495.2 375.7L492.6 370.5H497.8Z"/>
<path d="M507.3 376.1L504.3 370.1H510.3Z"/>
<path d="M519.3 376.3L516.2 370.0H522.5Z"/>
<path d="M543.5 376.6L540.0 369.7H546.9Z"/>
<path d="M555.5 376.7L551.9 369.5H559.1Z"/>
<path d="M567.6 376.9L563.8 369.4H571.3Z"/>
<path d="M579.7 376.9L575.9 369.4H583.4Z"/>
<path d="M591.7 376.9L588.0 369.4H595.5Z"/>
<path d="M603.8 376.9L600.0 369.4H607.5Z"/>
<path d="M615.8 376.9L612.1 369.4H619.6Z"/>
<path d="M627.9 376.9L624.2 369.4H631.7Z"/>
<path d="M640.0 376.9L636.2 369.4H643.7Z"/>
<path d="M652.0 376.9L648.3 369.4H655.8Z"/>
<path d="M664.1 376.9L660.4 369.4H667.9Z"/>
<path d="M676.2 376.9L672.4 369.4H679.9Z"/>
<path d="M688.2 376.9L684.5 369.4H692.0Z"/>
<path d="M700.3 376.9L696.6 369.4H704.1Z"/>
<path d="M712.4 376.9L708.6 369.4H716.1Z"/>
<path d="M724.4 376.9L720.7 369.4H728.2Z"/>
<path d="M736.5 376.9L732.7 369.4H740.2Z"/>
<path d="M748.6 376.9L744.8 369.4H752.3Z"/>
<path d="M760.6 376.8L757.0 369.5H764.3Z"/>
<path d="M772.7 376.7L769.1 369.6H776.2Z"/>
<path d="M784.8 376.6L781.3 369.7H788.2Z"/>
<path d="M796.8 376.5L793.5 369.8H800.2Z"/>
<path d="M808.9 376.4L805.6 369.9H812.1Z"/>
<path d="M820.9 376.3L817.7 369.9H824.2Z"/>
<path d="M833.0 376.3L829.8 369.9H836.2Z"/>
<path d="M845.1 376.3L841.9 370.0H848.2Z"/>
<path d="M857.1 376.2L854.0 370.0H860.3Z"/>
<path d="M869.2 376.2L866.1 370.0H872.3Z"/>
<path d="M881.3 376.2L878.2 370.1H884.3Z"/>
<path d="M893.3 376.1L890.3 370.1H896.3Z"/>
<path d="M905.4 376.4L902.1 369.8H908.7Z"/>
<path d="M917.5 376.8L913.8 369.4H921.1Z"/>
<path d="M929.5 377.1L925.5 369.1H933.5Z"/>
<path d="M941.6 377.3L937.4 368.9H945.8Z"/>
<path d="M953.7 377.5L949.3 368.7H958.1Z"/>
<path d="M965.7 377.7L961.1 368.5H970.3Z"/>
<path d="M977.8 377.9L973.0 368.3H982.6Z"/>
<path d="M989.9 378.1L984.9 368.1H994.9Z"/>
<path d="M1001.9 378.2L996.8 368.0H1007.0Z"/>
<path d="M1014.0 378.3L1008.8 367.9H1019.2Z"/>
<path d="M1026.1 378.4L1020.8 367.8H1031.4Z"/>
<path d="M1038.1 378.5L1032.7 367.7H1043.5Z"/>
<path d="M1050.2 378.6L1044.7 367.6H1055.7Z"/>
<path d="M1062.2 378.7L1056.7 367.6H1067.8Z"/>
<path d="M1074.3 378.7L1068.7 367.5H1079.9Z"/>
<path d="M1086.4 378.8L1080.7 367.5H1092.0Z"/>
<path d="M1098.4 378.8L1092.7 367.4H1104.1Z"/>
<path d="M1110.5 378.9L1104.8 367.4H1116.3Z"/>
<path d="M1122.6 378.9L1116.8 367.3H1128.4Z"/>
<path d="M1134.6 379.0L1128.8 367.3H1140.5Z"/>
<path d="M1146.7 379.0L1140.8 367.2H1152.6Z"/>
<path d="M1158.8 379.1L1152.8 367.2H1164.7Z"/>
<path d="M1170.8 379.1L1164.8 367.1H1176.8Z"/>
<path d="M1182.9 379.2L1176.8 367.1H1188.9Z"/>
<path d="M1195.0 379.2L1188.9 367.0H1201.1Z"/>
<path d="M1207.0 379.3L1200.9 367.0H1213.2Z"/>
<path d="M1219.1 379.3L1212.9 366.9H1225.3Z"/>
<path d="M1231.2 379.4L1224.9 366.9H1237.4Z"/>
<path d="M1243.2 379.4L1236.9 366.8H1249.5Z"/>
<path d="M1255.3 379.5L1248.9 366.8H1261.6Z"/>
<path d="M1267.3 379.5L1260.9 366.7H1273.7Z"/>
<path d="M1279.4 379.6L1273.0 366.7H1285.9Z"/>
<path d="M1291.5 379.6L1285.0 366.6H1298.0Z"/>
<path d="M326.3 412.1L326.0 411.6H326.5Z"/>
<path d="M338.4 412.1L338.1 411.6H338.6Z"/>
<path d="M350.4 412.2L350.1 411.5H350.7Z"/>
<path d="M362.5 412.2L362.1 411.5H362.8Z"/>
<path d="M374.6 412.2L374.2 411.5H374.9Z"/>
<path d="M386.6 412.3L386.2 411.4H387.0Z"/>
<path d="M398.7 412.3L398.2 411.4H399.1Z"/>
<path d="M410.7 412.2L410.4 411.5H411.1Z"/>
<path d="M422.8 412.2L422.4 411.4H423.2Z"/>
<path d="M434.9 412.3L434.5 411.4H435.3Z"/>
<path d="M446.9 412.3L446.5 411.4H447.4Z"/>
<path d="M459.0 412.8L458.0 410.8H460.0Z"/>
<path d="M471.1 413.3L469.6 410.4H472.5Z"/>
<path d="M483.1 413.7L481.3 410.0H485.0Z"/>
<path d="M495.2 414.2L492.9 409.5H497.5Z"/>
<path d="M507.3 414.6L504.5 409.1H510.0Z"/>
<path d="M519.3 414.7L516.5 409.0H522.2Z"/>
<path d="M531.4 414.8L528.4 408.9H534.3Z"/>
<path d="M543.5 414.9L540.4 408.8H546.5Z"/>
<path d="M555.5 415.0L552.4 408.7H558.7Z"/>
<path d="M567.6 415.1L564.3 408.6H570.8Z"/>
<path d="M579.7 415.1L576.4 408.6H582.9Z"/>
<path d="M591.7 415.1L588.5 408.6H595.0Z"/>
<path d="M603.8 415.1L600.5 408.6H607.0Z"/>
<path d="M615.8 415.1L612.6 408.6H619.1Z"/>
<path d="M627.9 415.1L624.7 408.6H631.2Z"/>
<path d="M640.0 415.1L636.7 408.6H643.2Z"/>
<path d="M652.0 415.1L648.8 408.6H655.3Z"/>
<path d="M664.1 415.1L660.9 408.6H667.4Z"/>
<path d="M676.2 415.1L672.9 408.6H679.4Z"/>
<path d="M688.2 415.1L685.0 408.6H691.5Z"/>
<path d="M700.3 415.1L697.1 408.6H703.6Z"/>
<path d="M712.4 415.1L709.1 408.6H715.6Z"/>
<path d="M724.4 415.1L721.2 408.6H727.7Z"/>
<path d="M736.5 415.1L733.2 408.6H739.7Z"/>
<path d="M748.6 415.1L745.3 408.6H751.8Z"/>
<path d="M760.6 415.0L757.5 408.7H763.8Z"/>
<path d="M772.7 414.9L769.6 408.8H775.7Z"/>
<path d="M784.8 414.8L781.8 408.9H787.7Z"/>
<path d="M796.8 414.7L794.0 409.0H799.7Z"/>
<path d="M808.9 414.6L806.1 409.1H811.6Z"/>
<path d="M820.9 414.6L818.2 409.1H823.7Z"/>
<path d="M833.0 414.5L830.3 409.2H835.7Z"/>
<path d="M845.1 414.5L842.4 409.2H847.7Z"/>
<path d="M857.1 414.5L854.5 409.2H859.8Z"/>
<path d="M869.2 414.4L866.6 409.3H871.8Z"/>
<path d="M881.3 414.4L878.7 409.3H883.8Z"/>
<path d="M893.3 414.3L890.8 409.3H895.8Z"/>
<path d="M905.4 414.7L902.6 409.0H908.2Z"/>
<path d="M917.5 415.0L914.3 408.7H920.6Z"/>
<path d="M929.5 415.3L926.0 408.3H933.0Z"/>
<path d="M941.6 415.5L937.9 408.1H945.3Z"/>
<path d="M953.7 415.7L949.8 407.9H957.6Z"/>
<path d="M965.7 415.9L961.6 407.7H969.8Z"/>
<path d="M977.8 416.1L973.5 407.5H982.1Z"/>
<path d="M989.9 416.3L985.4 407.3H994.4Z"/>
<path d="M1001.9 416.4L997.3 407.2H1006.5Z"/>
<path d="M1014.0 416.5L1009.3 407.1H1018.7Z"/>
<path d="M1026.1 416.6L1021.3 407.0H1030.9Z"/>
<path d="M1038.1 416.7L1033.2 406.9H1043.0Z"/>
<path d="M1050.2 416.8L1045.2 406.8H1055.2Z"/>
<path d="M1062.2 416.9L1057.2 406.8H1067.3Z"/>
<path d="M1074.3 416.9L1069.3 406.8H1079.4Z"/>
<path d="M1086.4 416.9L1081.3 406.8H1091.4Z"/>
<path d="M1098.4 416.9L1093.3 406.7H1103.5Z"/>
<path d="M1110.5 417.0L1105.4 406.7H1115.6Z"/>
<path d="M1122.6 417.0L1117.4 406.7H1127.7Z"/>
<path d="M1134.6 417.0L1129.5 406.7H1139.8Z"/>
<path d="M1146.7 417.0L1141.5 406.6H1151.9Z"/>
<path d="M1158.8 417.1L1153.5 406.6H1164.0Z"/>
<path d="M1170.8 417.1L1165.6 406.6H1176.1Z"/>
<path d="M1182.9 417.1L1177.6 406.6H1188.2Z"/>
<path d="M1195.0 417.1L1189.7 406.5H1200.3Z"/>
<path d="M1207.0 417.2L1201.7 406.5H1212.3Z"/>
<path d="M1219.1 417.2L1213.7 406.5H1224.4Z"/>
<path d="M1231.2 417.2L1225.8 406.5H1236.5Z"/>
<path d="M1243.2 417.2L1237.8 406.4H1248.6Z"/>
<path d="M1255.3 417.3L1249.9 406.4H1260.7Z"/>
<path d="M1267.3 417.3L1261.9 406.4H1272.8Z"/>
<path d="M1279.4 417.3L1273.9 406.4H1284.9Z"/>
<path d="M1291.5 417.3L1286.0 406.3H1297.0Z"/>
<path d="M459.0 451.0L458.5 450.1H459.5Z"/>
<path d="M471.1 451.4L470.3 449.8H471.8Z"/>
<path d="M483.1 451.7L482.0 449.5H484.2Z"/>
<path d="M495.2 452.0L493.8 449.2H496.6Z"/>
<path d="M507.3 452.3L505.5 448.9H509.0Z"/>
<path d="M519.3 452.4L517.5 448.7H521.2Z"/>
<path d="M543.5 452.6L541.4 448.5H545.5Z"/>
<path d="M555.5 452.8L553.3 448.4H557.7Z"/>
<path d="M567.6 452.9L565.3 448.3H569.9Z"/>
<path d="M579.7 452.9L577.4 448.3H581.9Z"/>
<path d="M591.7 452.9L589.4 448.3H594.0Z"/>
<path d="M603.8 452.8L601.5 448.3H606.0Z"/>
<path d="M615.8 452.8L613.6 448.3H618.1Z"/>
<path d="M627.9 452.8L625.7 448.3H630.2Z"/>
<path d="M640.0 452.8L637.7 448.3H642.2Z"/>
<path d="M652.0 452.8L649.8 448.4H654.3Z"/>
<path d="M664.1 452.8L661.9 448.4H666.3Z"/>
<path d="M676.2 452.8L674.0 448.4H678.4Z"/>
<path d="M688.2 452.8L686.1 448.4H690.4Z"/>
<path d="M700.3 452.7L698.2 448.4H702.4Z"/>
<path d="M712.4 452.7L710.3 448.5H714.5Z"/>
<path d="M724.4 452.6L722.4 448.5H726.5Z"/>
<path d="M736.5 452.6L734.5 448.6H738.5Z"/>
<path d="M748.6 452.5L746.6 448.6H750.5Z"/>
<path d="M760.6 452.5L758.7 448.7H762.5Z"/>
<path d="M772.7 452.4L770.8 448.7H774.6Z"/>
<path d="M784.8 452.4L782.9 448.8H786.6Z"/>
<path d="M796.8 452.3L795.0 448.8H798.6Z"/>
<path d="M808.9 452.3L807.2 448.9H810.6Z"/>
<path d="M820.9 452.2L819.3 448.9H822.6Z"/>
<path d="M833.0 452.1L831.5 449.0H834.6Z"/>
<path d="M845.1 452.1L843.6 449.1H846.6Z"/>
<path d="M857.1 452.0L855.7 449.2H858.5Z"/>
<path d="M869.2 451.9L867.9 449.3H870.5Z"/>
<path d="M881.3 451.8L880.0 449.3H882.5Z"/>
<path d="M893.3 451.7L892.2 449.4H894.5Z"/>
<path d="M905.4 452.1L903.9 449.0H906.9Z"/>
<path d="M917.5 452.5L915.6 448.7H919.4Z"/>
<path d="M929.5 452.9L927.2 448.3H931.8Z"/>
<path d="M941.6 453.0L939.2 448.2H944.0Z"/>
<path d="M953.7 453.1L951.1 448.0H956.2Z"/>
<path d="M965.7 453.2L963.1 447.9H968.4Z"/>
<path d="M977.8 453.3L975.0 447.8H980.6Z"/>
<path d="M989.9 453.5L987.0 447.7H992.7Z"/>
<path d="M1001.9 453.5L999.0 447.6H1004.9Z"/>
<path d="M1014.0 453.6L1011.0 447.6H1017.0Z"/>
<path d="M1026.1 453.6L1023.0 447.5H1029.1Z"/>
<path d="M1038.1 453.7L1035.0 447.5H1041.2Z"/>
<path d="M1050.2 453.7L1047.0 447.4H1053.3Z"/>
<path d="M1062.2 453.7L1059.1 447.4H1065.4Z"/>
<path d="M1074.3 453.7L1071.1 447.4H1077.5Z"/>
<path d="M1086.4 453.7L1083.2 447.4H1089.5Z"/>
<path d="M1098.4 453.7L1095.3 447.4H1101.6Z"/>
<path d="M1110.5 453.7L1107.3 447.4H1113.7Z"/>
<path d="M1122.6 453.7L1119.4 447.4H1125.7Z"/>
<path d="M1134.6 453.7L1131.5 447.4H1137.8Z"/>
<path d="M1146.7 453.7L1143.5 447.4H1149.9Z"/>
<path d="M1158.8 453.7L1155.6 447.4H1161.9Z"/>
<path d="M1170.8 453.7L1167.7 447.4H1174.0Z"/>
<path d="M1182.9 453.8L1179.7 447.4H1186.1Z"/>
<path d="M1195.0 453.9L1191.7 447.3H1198.2Z"/>
<path d="M1207.0 453.9L1203.7 447.2H1210.4Z"/>
<path d="M1219.1 454.0L1215.7 447.2H1222.5Z"/>
<path d="M1231.2 454.0L1227.7 447.1H1234.6Z"/>
<path d="M1243.2 454.1L1239.7 447.1H1246.7Z"/>
<path d="M1255.3 454.1L1251.7 447.0H1258.8Z"/>
<path d="M1267.3 454.2L1263.7 447.0H1271.0Z"/>
<path d="M1279.4 454.3L1275.7 446.9H1283.1Z"/>
<path d="M1291.5 454.3L1287.7 446.8H1295.2Z"/>
<path d="M471.1 490.1L470.3 488.5H471.8Z"/>
<path d="M483.1 490.4L482.0 488.2H484.2Z"/>
<path d="M495.2 490.7L493.8 487.9H496.6Z"/>
<path d="M507.3 491.0L505.5 487.6H509.0Z"/>
<path d="M519.3 491.1L517.5 487.5H521.1Z"/>
<path d="M543.5 491.2L541.6 487.4H545.4Z"/>
<path d="M555.5 491.3L553.6 487.4H557.5Z"/>
<path d="M567.6 491.3L565.6 487.3H569.6Z"/>
<path d="M579.7 491.3L577.6 487.3H581.7Z"/>
<path d="M591.7 491.3L589.7 487.3H593.7Z"/>
<path d="M603.8 491.3L601.8 487.3H605.8Z"/>
<path d="M615.8 491.3L613.8 487.3H617.9Z"/>
<path d="M627.9 491.3L625.9 487.3H629.9Z"/>
<path d="M640.0 491.3L638.0 487.3H642.0Z"/>
<path d="M652.0 491.3L650.0 487.3H654.1Z"/>
<path d="M664.1 491.3L662.1 487.3H666.1Z"/>
<path d="M676.2 491.3L674.2 487.3H678.2Z"/>
<path d="M688.2 491.3L686.2 487.3H690.2Z"/>
<path d="M700.3 491.3L698.3 487.4H702.3Z"/>
<path d="M712.4 491.2L710.5 487.4H714.3Z"/>
<path d="M724.4 491.1L722.6 487.5H726.3Z"/>
<path d="M736.5 491.1L734.7 487.5H738.3Z"/>
<path d="M748.6 491.0L746.8 487.6H750.3Z"/>
<path d="M760.6 491.0L759.0 487.6H762.3Z"/>
<path d="M772.7 490.9L771.1 487.7H774.3Z"/>
<path d="M784.8 490.9L783.2 487.8H786.3Z"/>
<path d="M796.8 490.8L795.3 487.8H798.3Z"/>
<path d="M808.9 490.7L807.4 487.9H810.3Z"/>
<path d="M820.9 490.7L819.6 487.9H822.3Z"/>
<path d="M833.0 490.7L831.7 488.0H834.4Z"/>
<path d="M845.1 490.6L843.8 488.0H846.4Z"/>
<path d="M857.1 490.6L855.9 488.0H858.4Z"/>
<path d="M869.2 490.5L868.0 488.1H870.4Z"/>
<path d="M881.3 490.5L880.1 488.1H882.5Z"/>
<path d="M893.3 490.5L892.2 488.2H894.5Z"/>
<path d="M905.4 490.7L904.0 487.9H906.8Z"/>
<path d="M917.5 491.0L915.7 487.6H919.2Z"/>
<path d="M929.5 491.3L927.5 487.3H931.5Z"/>
<path d="M941.6 491.4L939.5 487.2H943.7Z"/>
<path d="M953.7 491.6L951.4 487.1H955.9Z"/>
<path d="M965.7 491.7L963.4 487.0H968.1Z"/>
<path d="M977.8 491.8L975.3 486.8H980.3Z"/>
<path d="M989.9 491.9L987.3 486.7H992.4Z"/>
<path d="M1001.9 492.0L999.3 486.7H1004.6Z"/>
<path d="M1014.0 492.0L1011.3 486.6H1016.7Z"/>
<path d="M1026.1 492.1L1023.3 486.5H1028.8Z"/>
<path d="M1038.1 492.1L1035.3 486.5H1040.9Z"/>
<path d="M1050.2 492.2L1047.3 486.4H1053.1Z"/>
<path d="M1062.2 492.2L1059.3 486.4H1065.1Z"/>
<path d="M1074.3 492.2L1071.4 486.4H1077.2Z"/>
<path d="M1086.4 492.3L1083.4 486.3H1089.3Z"/>
<path d="M1098.4 492.3L1095.4 486.3H1101.4Z"/>
<path d="M1110.5 492.3L1107.5 486.3H1113.5Z"/>
<path d="M1122.6 492.4L1119.5 486.3H1125.6Z"/>
<path d="M1134.6 492.4L1131.6 486.2H1137.7Z"/>
<path d="M1146.7 492.4L1143.6 486.2H1149.8Z"/>
<path d="M1158.8 492.4L1155.6 486.2H1161.9Z"/>
<path d="M1170.8 492.5L1167.7 486.1H1174.0Z"/>
<path d="M1182.9 492.5L1179.7 486.1H1186.1Z"/>
<path d="M1195.0 492.5L1191.7 486.1H1198.2Z"/>
<path d="M1207.0 492.6L1203.8 486.1H1210.3Z"/>
<path d="M1219.1 492.6L1215.8 486.0H1222.4Z"/>
<path d="M1231.2 492.6L1227.8 486.0H1234.5Z"/>
<path d="M1243.2 492.6L1239.9 486.0H1246.6Z"/>
<path d="M1255.3 492.7L1251.9 485.9H1258.6Z"/>
<path d="M1267.3 492.7L1264.0 485.9H1270.7Z"/>
<path d="M1279.4 492.7L1276.0 485.9H1282.8Z"/>
<path d="M1291.5 492.8L1288.0 485.9H1294.9Z"/>
<path d="M459.0 528.3L458.7 527.7H459.3Z"/>
<path d="M471.1 528.5L470.6 527.6H471.5Z"/>
<path d="M483.1 528.6L482.5 527.4H483.7Z"/>
<path d="M495.2 528.8L494.5 527.3H496.0Z"/>
<path d="M507.3 528.9L506.4 527.1H508.2Z"/>
<path d="M519.3 529.0L518.4 527.1H520.3Z"/>
<path d="M543.5 529.1L542.4 527.0H544.5Z"/>
<path d="M555.5 529.2L554.4 526.9H556.7Z"/>
<path d="M567.6 529.2L566.4 526.8H568.8Z"/>
<path d="M579.7 529.2L578.5 526.9H580.8Z"/>
<path d="M591.7 529.2L590.5 526.9H592.9Z"/>
<path d="M603.8 529.2L602.6 526.9H604.9Z"/>
<path d="M615.8 529.2L614.7 526.9H617.0Z"/>
<path d="M627.9 529.2L626.8 526.9H629.1Z"/>
<path d="M640.0 529.2L638.9 526.9H641.1Z"/>
<path d="M652.0 529.2L650.9 526.9H653.2Z"/>
<path d="M664.1 529.1L663.0 526.9H665.2Z"/>
<path d="M676.2 529.1L675.1 526.9H677.3Z"/>
<path d="M688.2 529.1L687.2 527.0H689.3Z"/>
<path d="M700.3 529.1L699.2 527.0H701.4Z"/>
<path d="M712.4 529.1L711.3 527.0H713.4Z"/>
<path d="M724.4 529.1L723.4 527.0H725.5Z"/>
<path d="M736.5 529.0L735.5 527.0H737.5Z"/>
<path d="M748.6 529.0L747.6 527.0H749.6Z"/>
<path d="M760.6 529.0L759.7 527.1H761.6Z"/>
<path d="M772.7 529.0L771.7 527.1H773.6Z"/>
<path d="M784.8 529.0L783.8 527.1H785.7Z"/>
<path d="M796.8 529.0L795.9 527.1H797.7Z"/>
<path d="M808.9 528.9L808.0 527.1H809.8Z"/>
<path d="M820.9 528.9L820.1 527.2H821.8Z"/>
<path d="M833.0 528.9L832.2 527.2H833.8Z"/>
<path d="M845.1 528.8L844.3 527.3H845.9Z"/>
<path d="M857.1 528.8L856.4 527.3H857.9Z"/>
<path d="M869.2 528.7L868.5 527.4H869.9Z"/>
<path d="M881.3 528.7L880.6 527.4H881.9Z"/>
<path d="M893.3 528.6L892.7 527.4H893.9Z"/>
<path d="M905.4 528.8L904.7 527.3H906.1Z"/>
<path d="M917.5 528.9L916.6 527.2H918.3Z"/>
<path d="M929.5 529.0L928.6 527.1H930.5Z"/>
<path d="M941.6 529.1L940.5 527.0H942.6Z"/>
<path d="M953.7 529.2L952.5 526.9H954.8Z"/>
<path d="M965.7 529.3L964.5 526.8H967.0Z"/>
<path d="M977.8 529.4L976.4 526.7H979.2Z"/>
<path d="M989.9 529.5L988.4 526.5H991.4Z"/>
<path d="M1001.9 529.6L1000.4 526.5H1003.5Z"/>
<path d="M1014.0 529.7L1012.4 526.4H1015.6Z"/>
<path d="M1026.1 529.7L1024.4 526.4H1027.7Z"/>
<path d="M1038.1 529.8L1036.4 526.3H1039.9Z"/>
<path d="M1050.2 529.8L1048.4 526.2H1052.0Z"/>
<path d="M1062.2 529.8L1060.4 526.2H1064.1Z"/>
<path d="M1074.3 529.9L1072.5 526.2H1076.1Z"/>
<path d="M1086.4 529.9L1084.6 526.2H1088.2Z"/>
<path d="M1098.4 529.9L1096.6 526.2H1100.3Z"/>
<path d="M1110.5 529.9L1108.7 526.2H1112.3Z"/>
<path d="M1122.6 529.9L1120.7 526.2H1124.4Z"/>
<path d="M1134.6 529.9L1132.8 526.2H1136.5Z"/>
<path d="M1146.7 529.9L1144.8 526.2H1148.5Z"/>
<path d="M1158.8 529.9L1156.9 526.2H1160.6Z"/>
<path d="M1170.8 529.9L1169.0 526.2H1172.7Z"/>
<path d="M1182.9 529.9L1181.0 526.2H1184.8Z"/>
<path d="M1195.0 529.9L1193.1 526.2H1196.8Z"/>
<path d="M1207.0 529.9L1205.1 526.2H1208.9Z"/>
<path d="M1219.1 529.9L1217.2 526.2H1221.0Z"/>
<path d="M1231.2 529.9L1229.3 526.1H1233.0Z"/>
<path d="M1243.2 529.9L1241.3 526.1H1245.1Z"/>
<path d="M1255.3 529.9L1253.4 526.1H1257.2Z"/>
<path d="M1267.3 529.9L1265.4 526.1H1269.3Z"/>
<path d="M1279.4 530.0L1277.5 526.1H1281.3Z"/>
<path d="M1291.5 530.0L1289.6 526.1H1293.4Z"/>
<path d="M157.4 567.4L156.8 566.1H158.0Z"/>
<path d="M181.5 567.4L180.9 566.1H182.2Z"/>
<path d="M193.6 567.4L192.9 566.1H194.2Z"/>
<path d="M205.6 567.4L205.0 566.1H206.3Z"/>
<path d="M241.8 567.5L241.1 566.1H242.5Z"/>
<path d="M253.9 567.5L253.2 566.1H254.6Z"/>
<path d="M266.0 567.5L265.3 566.0H266.7Z"/>
<path d="M278.0 567.5L277.3 566.0H278.8Z"/>
<path d="M290.1 567.5L289.4 566.0H290.8Z"/>
<path d="M302.2 567.5L301.4 566.0H302.9Z"/>
<path d="M326.3 567.5L325.5 566.0H327.1Z"/>
<path d="M350.4 567.6L349.6 565.9H351.3Z"/>
<path d="M362.5 567.6L361.6 565.9H363.4Z"/>
<path d="M374.6 567.7L373.6 565.9H375.5Z"/>
<path d="M386.6 567.7L385.7 565.8H387.6Z"/>
<path d="M398.7 567.7L397.7 565.8H399.7Z"/>
<path d="M446.9 567.7L446.0 565.9H447.8Z"/>
<path d="M459.0 567.9L457.9 565.6H460.1Z"/>
<path d="M471.1 568.1L469.7 565.4H472.4Z"/>
<path d="M483.1 568.3L481.6 565.2H484.7Z"/>
<path d="M495.2 568.5L493.5 565.0H497.0Z"/>
<path d="M507.3 568.7L505.3 564.8H509.2Z"/>
<path d="M519.3 568.8L517.3 564.8H521.3Z"/>
<path d="M543.5 568.9L541.3 564.6H545.6Z"/>
<path d="M555.5 569.0L553.3 564.6H557.7Z"/>
<path d="M567.6 569.0L565.3 564.5H569.8Z"/>
<path d="M579.7 569.0L577.4 564.6H581.9Z"/>
<path d="M591.7 569.0L589.5 564.6H593.9Z"/>
<path d="M603.8 568.9L601.6 564.6H605.9Z"/>
<path d="M615.8 568.9L613.7 564.6H618.0Z"/>
<path d="M627.9 568.9L625.8 564.7H630.0Z"/>
<path d="M640.0 568.8L637.9 564.7H642.1Z"/>
<path d="M652.0 568.8L650.0 564.7H654.1Z"/>
<path d="M664.1 568.8L662.1 564.8H666.1Z"/>
<path d="M676.2 568.8L674.2 564.8H678.2Z"/>
<path d="M688.2 568.7L686.3 564.8H690.2Z"/>
<path d="M700.3 568.7L698.4 564.9H702.2Z"/>
<path d="M712.4 568.6L710.5 564.9H714.2Z"/>
<path d="M724.4 568.6L722.6 565.0H726.2Z"/>
<path d="M736.5 568.5L734.8 565.0H738.2Z"/>
<path d="M748.6 568.4L746.9 565.1H750.2Z"/>
<path d="M760.6 568.4L759.0 565.1H762.2Z"/>
<path d="M772.7 568.3L771.1 565.2H774.3Z"/>
<path d="M784.8 568.3L783.2 565.3H786.3Z"/>
<path d="M796.8 568.2L795.4 565.3H798.3Z"/>
<path d="M808.9 568.2L807.5 565.4H810.3Z"/>
<path d="M820.9 568.1L819.6 565.4H822.3Z"/>
<path d="M833.0 568.0L831.8 565.5H834.3Z"/>
<path d="M845.1 567.9L843.9 565.6H846.2Z"/>
<path d="M857.1 567.8L856.1 565.7H858.2Z"/>
<path d="M869.2 567.8L868.2 565.8H870.2Z"/>
<path d="M881.3 567.7L880.4 565.8H882.2Z"/>
<path d="M893.3 567.6L892.5 565.9H894.2Z"/>
<path d="M905.4 567.9L904.3 565.6H906.5Z"/>
<path d="M917.5 568.2L916.1 565.4H918.9Z"/>
<path d="M929.5 568.4L927.9 565.1H931.2Z"/>
<path d="M941.6 568.6L939.7 564.9H943.4Z"/>
<path d="M953.7 568.8L951.6 564.8H955.7Z"/>
<path d="M965.7 569.0L963.5 564.6H967.9Z"/>
<path d="M977.8 569.1L975.4 564.4H980.1Z"/>
<path d="M989.9 569.3L987.3 564.2H992.4Z"/>
<path d="M1001.9 569.3L999.3 564.2H1004.5Z"/>
<path d="M1014.0 569.4L1011.4 564.1H1016.6Z"/>
<path d="M1026.1 569.5L1023.4 564.1H1028.7Z"/>
<path d="M1038.1 569.5L1035.4 564.0H1040.9Z"/>
<path d="M1050.2 569.6L1047.4 564.0H1053.0Z"/>
<path d="M1062.2 569.6L1059.4 564.0H1065.1Z"/>
<path d="M1074.3 569.6L1071.5 563.9H1077.1Z"/>
<path d="M1086.4 569.6L1083.5 563.9H1089.2Z"/>
<path d="M1098.4 569.6L1095.6 563.9H1101.3Z"/>
<path d="M1110.5 569.6L1107.6 563.9H1113.4Z"/>
<path d="M1122.6 569.7L1119.7 563.9H1125.5Z"/>
<path d="M1134.6 569.7L1131.7 563.9H1137.5Z"/>
<path d="M1146.7 569.7L1143.8 563.9H1149.6Z"/>
<path d="M1158.8 569.7L1155.8 563.8H1161.7Z"/>
<path d="M1170.8 569.7L1167.9 563.8H1173.8Z"/>
<path d="M1182.9 569.7L1179.9 563.8H1185.8Z"/>
<path d="M1195.0 569.7L1192.0 563.8H1197.9Z"/>
<path d="M1207.0 569.8L1204.0 563.8H1210.0Z"/>
<path d="M1219.1 569.8L1216.1 563.8H1222.1Z"/>
<path d="M1231.2 569.8L1228.1 563.8H1234.2Z"/>
<path d="M1243.2 569.8L1240.2 563.7H1246.2Z"/>
<path d="M1255.3 569.8L1252.2 563.7H1258.3Z"/>
<path d="M1267.3 569.8L1264.3 563.7H1270.4Z"/>
<path d="M1279.4 569.8L1276.3 563.7H1282.5Z"/>
<path d="M1291.5 569.8L1288.4 563.7H1294.6Z"/>
</g><g fill="#008000" fill-opacity=".7">
<path d="M253.9 139.8L253.0 141.6H254.8Z"/>
<path d="M314.2 139.6L313.1 141.8H315.3Z"/>
<path d="M459.0 137.7L456.0 143.7H462.0Z"/>
<path d="M531.4 136.7L527.4 144.7H535.4Z"/>
<path d="M253.9 178.2L252.6 180.8H255.2Z"/>
<path d="M314.2 177.9L312.6 181.1H315.8Z"/>
<path d="M1062.2 167.0L1049.7 192.0H1074.7Z"/>
<path d="M253.9 217.8L253.5 218.6H254.3Z"/>
<path d="M410.7 217.4L409.9 219.0H411.5Z"/>
<path d="M531.4 214.7L527.9 221.7H534.9Z"/>
<path d="M1062.2 209.7L1053.7 226.7H1070.7Z"/>
<path d="M229.8 256.2L229.0 257.7H230.5Z"/>
<path d="M253.9 256.1L253.1 257.7H254.7Z"/>
<path d="M314.2 256.1L313.4 257.7H315.0Z"/>
<path d="M410.7 255.9L409.7 257.9H411.7Z"/>
<path d="M1062.2 247.7L1053.0 266.1H1071.4Z"/>
<path d="M253.9 295.0L253.3 296.3H254.6Z"/>
<path d="M314.2 295.0L313.6 296.3H314.9Z"/>
<path d="M410.7 294.9L409.9 296.5H411.5Z"/>
<path d="M531.4 292.4L528.1 298.9H534.6Z"/>
<path d="M1062.2 287.9L1054.5 303.4H1070.0Z"/>
<path d="M410.7 333.9L410.2 334.9H411.2Z"/>
<path d="M434.9 333.6L434.1 335.2H435.7Z"/>
<path d="M410.7 372.7L410.3 373.5H411.1Z"/>
<path d="M422.8 372.6L422.3 373.6H423.3Z"/>
<path d="M434.9 372.5L434.3 373.7H435.5Z"/>
<path d="M531.4 369.6L527.9 376.6H534.9Z"/>
<path d="M531.4 448.9L529.7 452.3H533.1Z"/>
<path d="M459.0 488.6L458.3 490.1H459.8Z"/>
<path d="M531.4 487.7L529.7 491.0H533.0Z"/>
<path d="M531.4 527.1L530.5 528.9H532.3Z"/>
<path d="M169.5 566.1L168.8 567.4H170.1Z"/>
<path d="M217.7 566.1L217.1 567.4H218.4Z"/>
<path d="M229.8 566.1L229.1 567.4H230.4Z"/>
<path d="M314.2 566.1L313.5 567.5H314.9Z"/>
<path d="M338.4 566.1L337.7 567.4H339.0Z"/>
<path d="M410.7 566.1L410.0 567.5H411.4Z"/>
<path d="M422.8 566.1L422.1 567.5H423.5Z"/>
<path d="M434.9 566.0L434.1 567.5H435.6Z"/>
<path d="M531.4 564.6L529.2 568.9H533.5Z"/>
</g>
<path d="M143.50 606.5V102.75M203.50 606.5V102.75M263.50 606.5V102.75M324.50 606.5V102.75M384.50 606.5V102.75M444.50 606.5V102.75M505.50 606.5V102.75M565.50 606.5V102.75M625.50 606.5V102.75M686.50 606.5V102.75M746.50 606.5V102.75M806.50 606.5V102.75M867.50 606.5V102.75M927.50 606.5V102.75M987.50 606.5V102.75M1048.50 606.5V102.75M1108.50 606.5V102.75M1168.50 606.5V102.75M1229.50 606.5V102.75M1289.50 606.5V102.75M1349.50 606.5V102.75M1410.50 606.5V102.75M1470.50 606.5V102.75M1530.50 606.5V102.75M1591.50 606.5V102.75M1651.50 606.5V102.75M1711.50 606.5V102.75M1772.50 606.5V102.75M1832.50 606.5V102.75M1892.50 606.5V102.75M1953.50 606.5V102.75M2013.50 606.5V102.75M2073.50 606.5V102.75M2134.50 606.5V102.75M2194.50 606.5V102.75M2254.50 606.5V102.75M2314.50 606.5V102.75M2375.50 606.5V102.75M2435.50 606.5V102.75" stroke="#b0b0b0" stroke-opacity=".68" stroke-width="1.25" stroke-dasharray="4.7 2.05" fill="none"/>
<path d="M82.5 567.50H2495.45M82.5 528.50H2495.45M82.5 489.50H2495.45M82.5 451.50H2495.45M82.5 412.50H2495.45M82.5 373.50H2495.45M82.5 334.50H2495.45M82.5 296.50H2495.45M82.5 257.50H2495.45M82.5 218.50H2495.45M82.5 179.50H2495.45M82.5 141.50H2495.45" stroke="#b0b0b0" stroke-opacity=".5" stroke-width="1.25" stroke-dasharray="1.27 2.1" fill="none"/>
<polyline points="398.7,57.0 410.7,136.3 422.8,215.0 434.9,281.0 446.9,309.6 459.0,419.3 471.1,399.6 483.1,401.5 495.2,415.0 507.3,394.8 519.3,402.4 531.4,446.0 543.5,419.3 555.5,370.0 567.6,328.0 579.7,292.7 591.7,293.4 603.8,248.9 615.8,271.6 627.9,248.9 640.0,270.8 652.0,248.1 664.1,247.8 676.2,215.3 688.2,227.8 700.3,218.4 712.4,215.6 724.4,202.8 736.5,212.2 748.6,200.5 760.6,196.6 772.7,183.3 784.8,139.5 796.8,161.4 808.9,181.7 820.9,172.3 833.0,168.4 845.1,133.0 857.1,146.9 869.2,144.2 881.3,166.1 893.3,168.4 905.4,183.9 917.5,240.6 929.5,251.0 941.6,251.8 953.7,283.0 965.7,320.5 977.8,306.8 989.9,265.5 1001.9,295.6 1014.0,318.0 1026.1,341.0 1038.1,356.4 1050.2,350.5 1062.2,344.5 1074.3,339.0 1086.4,322.0 1098.4,306.8 1110.5,310.2 1122.6,294.8 1134.6,309.4 1146.7,362.5 1158.8,352.0 1170.8,341.5 1182.9,345.0 1195.0,355.5 1207.0,338.8 1219.1,341.5 1231.2,347.5 1243.2,330.5 1255.3,296.8 1267.3,329.0 1279.4,381.7 1291.5,368.6" fill="none" stroke="#00f" stroke-width="2.5" stroke-dasharray="9.25 4" stroke-linejoin="round"/>
<circle cx="845.3" cy="132.8" r="10.7" fill="#008000" stroke="#000" stroke-width="1.0"/>
<circle cx="1038.1" cy="356.4" r="10.75" fill="#f00" stroke="#000" stroke-width="1.0"/>
<circle cx="1147.0" cy="362.5" r="10.75" fill="#f00" stroke="#000" stroke-width="1.0"/>
<circle cx="1279.4" cy="381.7" r="10.75" fill="#f00" stroke="#000" stroke-width="1.0"/>
<path d="M1279.50 371.00L1281.95 378.53L1289.87 378.53L1283.46 383.19L1285.91 390.72L1279.50 386.06L1273.09 390.72L1275.54 383.19L1269.13 378.53L1277.05 378.53Z" fill="#00f" stroke="#000" stroke-width=".8" stroke-linejoin="miter"/>
</g>
<rect x="82.5" y="102.75" width="2412.95" height="503.75" fill="none" stroke="#1c1c1c" stroke-width="1.15"/>
<path d="M82.50 606.5v4.6M143.50 606.5v4.6M203.50 606.5v4.6M263.50 606.5v4.6M324.50 606.5v4.6M384.50 606.5v4.6M444.50 606.5v4.6M505.50 606.5v4.6M565.50 606.5v4.6M625.50 606.5v4.6M686.50 606.5v4.6M746.50 606.5v4.6M806.50 606.5v4.6M867.50 606.5v4.6M927.50 606.5v4.6M987.50 606.5v4.6M1048.50 606.5v4.6M1108.50 606.5v4.6M1168.50 606.5v4.6M1229.50 606.5v4.6M1289.50 606.5v4.6M1349.50 606.5v4.6M1410.50 606.5v4.6M1470.50 606.5v4.6M1530.50 606.5v4.6M1591.50 606.5v4.6M1651.50 606.5v4.6M1711.50 606.5v4.6M1772.50 606.5v4.6M1832.50 606.5v4.6M1892.50 606.5v4.6M1953.50 606.5v4.6M2013.50 606.5v4.6M2073.50 606.5v4.6M2134.50 606.5v4.6M2194.50 606.5v4.6M2254.50 606.5v4.6M2314.50 606.5v4.6M2375.50 606.5v4.6M2435.50 606.5v4.6M2495.45 606.5v4.6M95.50 606.5v2.9M107.50 606.5v2.9M119.50 606.5v2.9M131.50 606.5v2.9M155.50 606.5v2.9M167.50 606.5v2.9M179.50 606.5v2.9M191.50 606.5v2.9M215.50 606.5v2.9M227.50 606.5v2.9M239.50 606.5v2.9M251.50 606.5v2.9M276.50 606.5v2.9M288.50 606.5v2.9M300.50 606.5v2.9M312.50 606.5v2.9M336.50 606.5v2.9M348.50 606.5v2.9M360.50 606.5v2.9M372.50 606.5v2.9M396.50 606.5v2.9M408.50 606.5v2.9M420.50 606.5v2.9M432.50 606.5v2.9M457.50 606.5v2.9M469.50 606.5v2.9M481.50 606.5v2.9M493.50 606.5v2.9M517.50 606.5v2.9M529.50 606.5v2.9M541.50 606.5v2.9M553.50 606.5v2.9M577.50 606.5v2.9M589.50 606.5v2.9M601.50 606.5v2.9M613.50 606.5v2.9M637.50 606.5v2.9M650.50 606.5v2.9M662.50 606.5v2.9M674.50 606.5v2.9M698.50 606.5v2.9M710.50 606.5v2.9M722.50 606.5v2.9M734.50 606.5v2.9M758.50 606.5v2.9M770.50 606.5v2.9M782.50 606.5v2.9M794.50 606.5v2.9M818.50 606.5v2.9M831.50 606.5v2.9M843.50 606.5v2.9M855.50 606.5v2.9M879.50 606.5v2.9M891.50 606.5v2.9M903.50 606.5v2.9M915.50 606.5v2.9M939.50 606.5v2.9M951.50 606.5v2.9M963.50 606.5v2.9M975.50 606.5v2.9M999.50 606.5v2.9M1011.50 606.5v2.9M1024.50 606.5v2.9M1036.50 606.5v2.9M1060.50 606.5v2.9M1072.50 606.5v2.9M1084.50 606.5v2.9M1096.50 606.5v2.9M1120.50 606.5v2.9M1132.50 606.5v2.9M1144.50 606.5v2.9M1156.50 606.5v2.9M1180.50 606.5v2.9M1192.50 606.5v2.9M1205.50 606.5v2.9M1217.50 606.5v2.9M1241.50 606.5v2.9M1253.50 606.5v2.9M1265.50 606.5v2.9M1277.50 606.5v2.9M1301.50 606.5v2.9M1313.50 606.5v2.9M1325.50 606.5v2.9M1337.50 606.5v2.9M1361.50 606.5v2.9M1373.50 606.5v2.9M1385.50 606.5v2.9M1398.50 606.5v2.9M1422.50 606.5v2.9M1434.50 606.5v2.9M1446.50 606.5v2.9M1458.50 606.5v2.9M1482.50 606.5v2.9M1494.50 606.5v2.9M1506.50 606.5v2.9M1518.50 606.5v2.9M1542.50 606.5v2.9M1554.50 606.5v2.9M1566.50 606.5v2.9M1579.50 606.5v2.9M1603.50 606.5v2.9M1615.50 606.5v2.9M1627.50 606.5v2.9M1639.50 606.5v2.9M1663.50 606.5v2.9M1675.50 606.5v2.9M1687.50 606.5v2.9M1699.50 606.5v2.9M1723.50 606.5v2.9M1735.50 606.5v2.9M1747.50 606.5v2.9M1760.50 606.5v2.9M1784.50 606.5v2.9M1796.50 606.5v2.9M1808.50 606.5v2.9M1820.50 606.5v2.9M1844.50 606.5v2.9M1856.50 606.5v2.9M1868.50 606.5v2.9M1880.50 606.5v2.9M1904.50 606.5v2.9M1916.50 606.5v2.9M1928.50 606.5v2.9M1940.50 606.5v2.9M1965.50 606.5v2.9M1977.50 606.5v2.9M1989.50 606.5v2.9M2001.50 606.5v2.9M2025.50 606.5v2.9M2037.50 606.5v2.9M2049.50 606.5v2.9M2061.50 606.5v2.9M2085.50 606.5v2.9M2097.50 606.5v2.9M2109.50 606.5v2.9M2121.50 606.5v2.9M2146.50 606.5v2.9M2158.50 606.5v2.9M2170.50 606.5v2.9M2182.50 606.5v2.9M2206.50 606.5v2.9M2218.50 606.5v2.9M2230.50 606.5v2.9M2242.50 606.5v2.9M2266.50 606.5v2.9M2278.50 606.5v2.9M2290.50 606.5v2.9M2302.50 606.5v2.9M2327.50 606.5v2.9M2339.50 606.5v2.9M2351.50 606.5v2.9M2363.50 606.5v2.9M2387.50 606.5v2.9M2399.50 606.5v2.9M2411.50 606.5v2.9M2423.50 606.5v2.9M2447.50 606.5v2.9M2459.50 606.5v2.9M2471.50 606.5v2.9M2483.50 606.5v2.9M82.5 606.50h-4.7M82.5 567.50h-4.7M82.5 528.50h-4.7M82.5 489.50h-4.7M82.5 451.50h-4.7M82.5 412.50h-4.7M82.5 373.50h-4.7M82.5 334.50h-4.7M82.5 296.50h-4.7M82.5 257.50h-4.7M82.5 218.50h-4.7M82.5 179.50h-4.7M82.5 141.50h-4.7M82.5 102.75h-4.7" stroke="#1c1c1c" stroke-width="1.15" fill="none"/>
<text x="73.60" y="612.20" font-size="16.6" font-weight="bold" text-anchor="end" textLength="41.2" lengthAdjust="spacingAndGlyphs" >6845</text>
<text x="2504.50" y="612.20" font-size="16.6" font-weight="bold" text-anchor="start" textLength="41.2" lengthAdjust="spacingAndGlyphs" >6845</text>
<text x="73.60" y="573.47" font-size="16.6" font-weight="bold" text-anchor="end" textLength="41.2" lengthAdjust="spacingAndGlyphs" >6850</text>
<text x="2504.50" y="573.47" font-size="16.6" font-weight="bold" text-anchor="start" textLength="41.2" lengthAdjust="spacingAndGlyphs" >6850</text>
<text x="73.60" y="534.74" font-size="16.6" font-weight="bold" text-anchor="end" textLength="41.2" lengthAdjust="spacingAndGlyphs" >6855</text>
<text x="2504.50" y="534.74" font-size="16.6" font-weight="bold" text-anchor="start" textLength="41.2" lengthAdjust="spacingAndGlyphs" >6855</text>
<text x="73.60" y="496.01" font-size="16.6" font-weight="bold" text-anchor="end" textLength="41.2" lengthAdjust="spacingAndGlyphs" >6860</text>
<text x="2504.50" y="496.01" font-size="16.6" font-weight="bold" text-anchor="start" textLength="41.2" lengthAdjust="spacingAndGlyphs" >6860</text>
<text x="73.60" y="457.28" font-size="16.6" font-weight="bold" text-anchor="end" textLength="41.2" lengthAdjust="spacingAndGlyphs" >6865</text>
<text x="2504.50" y="457.28" font-size="16.6" font-weight="bold" text-anchor="start" textLength="41.2" lengthAdjust="spacingAndGlyphs" >6865</text>
<text x="73.60" y="418.55" font-size="16.6" font-weight="bold" text-anchor="end" textLength="41.2" lengthAdjust="spacingAndGlyphs" >6870</text>
<text x="2504.50" y="418.55" font-size="16.6" font-weight="bold" text-anchor="start" textLength="41.2" lengthAdjust="spacingAndGlyphs" >6870</text>
<text x="73.60" y="379.82" font-size="16.6" font-weight="bold" text-anchor="end" textLength="41.2" lengthAdjust="spacingAndGlyphs" >6875</text>
<text x="2504.50" y="379.82" font-size="16.6" font-weight="bold" text-anchor="start" textLength="41.2" lengthAdjust="spacingAndGlyphs" >6875</text>
<text x="73.60" y="341.08" font-size="16.6" font-weight="bold" text-anchor="end" textLength="41.2" lengthAdjust="spacingAndGlyphs" >6880</text>
<text x="2504.50" y="341.08" font-size="16.6" font-weight="bold" text-anchor="start" textLength="41.2" lengthAdjust="spacingAndGlyphs" >6880</text>
<text x="73.60" y="302.35" font-size="16.6" font-weight="bold" text-anchor="end" textLength="41.2" lengthAdjust="spacingAndGlyphs" >6885</text>
<text x="2504.50" y="302.35" font-size="16.6" font-weight="bold" text-anchor="start" textLength="41.2" lengthAdjust="spacingAndGlyphs" >6885</text>
<text x="73.60" y="263.62" font-size="16.6" font-weight="bold" text-anchor="end" textLength="41.2" lengthAdjust="spacingAndGlyphs" >6890</text>
<text x="2504.50" y="263.62" font-size="16.6" font-weight="bold" text-anchor="start" textLength="41.2" lengthAdjust="spacingAndGlyphs" >6890</text>
<text x="73.60" y="224.89" font-size="16.6" font-weight="bold" text-anchor="end" textLength="41.2" lengthAdjust="spacingAndGlyphs" >6895</text>
<text x="2504.50" y="224.89" font-size="16.6" font-weight="bold" text-anchor="start" textLength="41.2" lengthAdjust="spacingAndGlyphs" >6895</text>
<text x="73.60" y="186.16" font-size="16.6" font-weight="bold" text-anchor="end" textLength="41.2" lengthAdjust="spacingAndGlyphs" >6900</text>
<text x="2504.50" y="186.16" font-size="16.6" font-weight="bold" text-anchor="start" textLength="41.2" lengthAdjust="spacingAndGlyphs" >6900</text>
<text x="73.60" y="147.43" font-size="16.6" font-weight="bold" text-anchor="end" textLength="41.2" lengthAdjust="spacingAndGlyphs" >6905</text>
<text x="2504.50" y="147.43" font-size="16.6" font-weight="bold" text-anchor="start" textLength="41.2" lengthAdjust="spacingAndGlyphs" >6905</text>
<text x="73.60" y="108.70" font-size="16.6" font-weight="bold" text-anchor="end" textLength="41.2" lengthAdjust="spacingAndGlyphs" >6910</text>
<text x="2504.50" y="108.70" font-size="16.6" font-weight="bold" text-anchor="start" textLength="41.2" lengthAdjust="spacingAndGlyphs" >6910</text>
<text x="83.60" y="93.85" font-size="20.3" font-weight="bold" text-anchor="start" textLength="39.6" lengthAdjust="spacingAndGlyphs" >Call</text>
<text transform="translate(22.5 354.6) rotate(-90)" font-size="12.5" font-weight="bold" text-anchor="middle" textLength="83" lengthAdjust="spacingAndGlyphs">Strike Price</text>
<g clip-path="url(#c2)">
<g fill="#f00" fill-opacity=".7">
<path d="M169.5 693.0L167.6 689.3H171.3Z"/>
<path d="M181.5 692.6L180.0 689.6H183.0Z"/>
<path d="M193.6 692.8L191.9 689.4H195.3Z"/>
<path d="M205.6 692.3L204.5 690.0H206.8Z"/>
<path d="M217.7 693.9L214.9 688.3H220.5Z"/>
<path d="M229.8 694.5L226.4 687.8H233.2Z"/>
<path d="M241.8 694.3L238.7 687.9H245.0Z"/>
<path d="M253.9 694.7L250.3 687.6H257.5Z"/>
<path d="M266.0 693.8L263.3 688.5H268.6Z"/>
<path d="M278.0 694.9L274.3 687.4H281.8Z"/>
<path d="M290.1 694.9L286.4 687.4H293.9Z"/>
<path d="M302.2 691.9L301.4 690.4H302.9Z"/>
<path d="M314.2 694.7L310.7 687.6H317.8Z"/>
<path d="M326.3 693.8L323.7 688.5H328.9Z"/>
<path d="M338.4 696.0L333.5 686.3H343.2Z"/>
<path d="M350.4 694.5L347.0 687.8H353.8Z"/>
<path d="M362.5 694.1L359.5 688.1H365.5Z"/>
<path d="M374.6 694.1L371.6 688.1H377.6Z"/>
<path d="M386.6 693.8L384.0 688.5H389.2Z"/>
<path d="M398.7 693.0L396.8 689.3H400.6Z"/>
<path d="M410.7 697.7L404.2 684.6H417.3Z"/>
<path d="M422.8 697.7L416.3 684.6H429.4Z"/>
<path d="M434.9 698.1L427.9 684.2H441.8Z"/>
<path d="M446.9 697.7L440.4 684.6H453.5Z"/>
<path d="M471.1 698.1L464.1 684.2H478.0Z"/>
<path d="M483.1 697.7L476.6 684.6H489.7Z"/>
<path d="M495.2 698.1L488.3 684.2H502.1Z"/>
<path d="M507.3 697.7L500.7 684.6H513.8Z"/>
<path d="M519.3 698.1L512.4 684.2H526.3Z"/>
<path d="M531.4 698.8L523.7 683.4H539.1Z"/>
<path d="M543.5 697.7L536.9 684.6H550.0Z"/>
<path d="M555.5 695.1L551.5 687.1H559.5Z"/>
<path d="M567.6 693.9L564.8 688.4H570.3Z"/>
<path d="M579.7 692.1L578.7 690.1H580.7Z"/>
<path d="M591.7 691.4L591.4 690.8H592.0Z"/>
<path d="M1026.1 692.6L1024.6 689.6H1027.6Z"/>
<path d="M1038.1 693.4L1035.9 688.9H1040.4Z"/>
<path d="M1050.2 692.1L1049.2 690.1H1051.2Z"/>
<path d="M1062.2 693.1L1060.2 689.1H1064.2Z"/>
<path d="M1074.3 691.6L1073.8 690.6H1074.8Z"/>
<path d="M1146.7 693.4L1144.4 688.9H1148.9Z"/>
<path d="M1158.8 693.1L1156.8 689.1H1160.8Z"/>
<path d="M1195.0 692.6L1193.5 689.6H1196.5Z"/>
<path d="M1231.2 691.6L1230.7 690.6H1231.7Z"/>
<path d="M1279.4 694.6L1275.9 687.6H1282.9Z"/>
<path d="M1291.5 693.6L1289.0 688.6H1294.0Z"/>
<path d="M169.5 732.4L167.0 727.4H172.0Z"/>
<path d="M181.5 731.9L179.5 727.9H183.5Z"/>
<path d="M193.6 732.1L191.3 727.6H195.8Z"/>
<path d="M205.6 731.4L204.1 728.4H207.1Z"/>
<path d="M217.7 733.6L214.0 726.1H221.5Z"/>
<path d="M229.8 734.4L225.3 725.4H234.3Z"/>
<path d="M241.8 734.1L237.6 725.6H246.1Z"/>
<path d="M253.9 734.6L249.2 725.1H258.7Z"/>
<path d="M266.0 733.4L262.5 726.4H269.5Z"/>
<path d="M278.0 734.9L273.0 724.9H283.0Z"/>
<path d="M290.1 734.9L285.1 724.9H295.1Z"/>
<path d="M302.2 730.9L301.2 728.9H303.2Z"/>
<path d="M314.2 734.6L309.5 725.1H319.0Z"/>
<path d="M326.3 733.4L322.8 726.4H329.8Z"/>
<path d="M338.4 736.4L331.9 723.4H344.9Z"/>
<path d="M350.4 734.4L345.9 725.4H354.9Z"/>
<path d="M362.5 733.9L358.5 725.9H366.5Z"/>
<path d="M374.6 733.9L370.6 725.9H378.6Z"/>
<path d="M386.6 733.4L383.1 726.4H390.1Z"/>
<path d="M398.7 732.4L396.2 727.4H401.2Z"/>
<path d="M410.7 738.6L402.0 721.1H419.5Z"/>
<path d="M422.8 738.6L414.1 721.1H431.6Z"/>
<path d="M434.9 739.1L425.6 720.6H444.1Z"/>
<path d="M446.9 738.6L438.2 721.1H455.7Z"/>
<path d="M459.0 739.6L449.3 720.1H468.8Z"/>
<path d="M471.1 739.1L461.8 720.6H480.3Z"/>
<path d="M483.1 738.6L474.4 721.1H491.9Z"/>
<path d="M495.2 739.1L486.0 720.6H504.5Z"/>
<path d="M507.3 738.6L498.5 721.1H516.0Z"/>
<path d="M519.3 739.1L510.1 720.6H528.6Z"/>
<path d="M531.4 740.1L521.1 719.6H541.6Z"/>
<path d="M543.5 738.6L534.7 721.1H552.2Z"/>
<path d="M555.5 736.4L549.0 723.4H562.0Z"/>
<path d="M567.6 733.9L563.6 725.9H571.6Z"/>
<path d="M579.7 731.6L577.9 728.1H581.4Z"/>
<path d="M591.7 730.4L591.2 729.4H592.2Z"/>
<path d="M1038.1 732.9L1035.1 726.9H1041.1Z"/>
<path d="M1062.2 732.1L1060.0 727.6H1064.5Z"/>
<path d="M1146.7 732.4L1144.2 727.4H1149.2Z"/>
<path d="M1158.8 731.4L1157.3 728.4H1160.3Z"/>
<path d="M1279.4 734.9L1274.4 724.9H1284.4Z"/>
<path d="M1291.5 732.9L1288.5 726.9H1294.5Z"/>
<path d="M169.5 770.3L167.7 766.8H171.2Z"/>
<path d="M181.5 770.0L180.1 767.2H182.9Z"/>
<path d="M193.6 770.2L192.0 767.0H195.2Z"/>
<path d="M205.6 769.6L204.6 767.5H206.7Z"/>
<path d="M217.7 771.2L215.1 766.0H220.3Z"/>
<path d="M229.8 771.7L226.6 765.4H232.9Z"/>
<path d="M241.8 771.6L238.9 765.6H244.8Z"/>
<path d="M253.9 771.9L250.6 765.3H257.2Z"/>
<path d="M266.0 771.0L263.5 766.1H268.4Z"/>
<path d="M278.0 772.1L274.5 765.1H281.5Z"/>
<path d="M290.1 772.1L286.6 765.1H293.6Z"/>
<path d="M302.2 769.3L301.5 767.9H302.9Z"/>
<path d="M314.2 771.9L310.9 765.3H317.6Z"/>
<path d="M326.3 771.0L323.8 766.1H328.7Z"/>
<path d="M338.4 773.1L333.8 764.0H342.9Z"/>
<path d="M350.4 771.7L347.3 765.4H353.6Z"/>
<path d="M362.5 771.4L359.7 765.8H365.3Z"/>
<path d="M374.6 771.4L371.8 765.8H377.4Z"/>
<path d="M386.6 771.0L384.2 766.1H389.1Z"/>
<path d="M398.7 770.3L396.9 766.8H400.4Z"/>
<path d="M410.7 774.7L404.6 762.5H416.9Z"/>
<path d="M422.8 774.7L416.7 762.5H428.9Z"/>
<path d="M434.9 775.1L428.4 762.1H441.4Z"/>
<path d="M446.9 774.7L440.8 762.5H453.1Z"/>
<path d="M459.0 775.4L452.2 761.8H465.8Z"/>
<path d="M471.1 775.1L464.6 762.1H477.5Z"/>
<path d="M483.1 774.7L477.0 762.5H489.3Z"/>
<path d="M495.2 775.1L488.7 762.1H501.7Z"/>
<path d="M507.3 774.7L501.1 762.5H513.4Z"/>
<path d="M519.3 775.1L512.9 762.1H525.8Z"/>
<path d="M543.5 774.7L537.3 762.5H549.6Z"/>
<path d="M555.5 773.1L551.0 764.0H560.1Z"/>
<path d="M567.6 770.8L565.3 766.3H569.8Z"/>
<path d="M579.7 768.8L579.5 768.4H579.9Z"/>
<path d="M1279.4 771.3L1276.7 765.8H1282.2Z"/>
<path d="M169.5 809.2L167.5 805.4H171.4Z"/>
<path d="M181.5 808.9L180.0 805.8H183.1Z"/>
<path d="M193.6 809.1L191.9 805.6H195.3Z"/>
<path d="M205.6 808.5L204.5 806.2H206.8Z"/>
<path d="M217.7 810.2L214.8 804.4H220.6Z"/>
<path d="M229.8 810.8L226.3 803.9H233.2Z"/>
<path d="M241.8 810.6L238.6 804.1H245.1Z"/>
<path d="M253.9 811.0L250.2 803.7H257.6Z"/>
<path d="M266.0 810.0L263.3 804.6H268.7Z"/>
<path d="M278.0 811.2L274.2 803.5H281.9Z"/>
<path d="M290.1 811.2L286.3 803.5H294.0Z"/>
<path d="M302.2 808.1L301.4 806.6H302.9Z"/>
<path d="M314.2 811.0L310.6 803.7H317.9Z"/>
<path d="M326.3 810.0L323.6 804.6H329.0Z"/>
<path d="M338.4 812.3L333.4 802.3H343.4Z"/>
<path d="M350.4 810.8L347.0 803.9H353.9Z"/>
<path d="M362.5 810.4L359.4 804.2H365.6Z"/>
<path d="M374.6 810.4L371.5 804.2H377.6Z"/>
<path d="M386.6 810.0L383.9 804.6H389.3Z"/>
<path d="M398.7 809.2L396.8 805.4H400.6Z"/>
<path d="M410.7 814.1L404.0 800.6H417.5Z"/>
<path d="M422.8 814.1L416.1 800.6H429.6Z"/>
<path d="M434.9 814.4L427.8 800.2H442.0Z"/>
<path d="M446.9 814.1L440.2 800.6H453.7Z"/>
<path d="M459.0 814.8L451.5 799.8H466.5Z"/>
<path d="M471.1 814.4L463.9 800.2H478.2Z"/>
<path d="M483.1 814.1L476.4 800.6H489.9Z"/>
<path d="M495.2 814.4L488.1 800.2H502.3Z"/>
<path d="M507.3 814.1L500.5 800.6H514.0Z"/>
<path d="M519.3 814.4L512.2 800.2H526.5Z"/>
<path d="M531.4 815.2L523.5 799.4H539.3Z"/>
<path d="M543.5 814.1L536.7 800.6H550.2Z"/>
<path d="M555.5 812.3L550.5 802.3H560.5Z"/>
<path d="M567.6 809.6L565.3 805.1H569.8Z"/>
<path d="M169.5 847.8L167.7 844.3H171.2Z"/>
<path d="M181.5 847.5L180.1 844.6H182.9Z"/>
<path d="M193.6 847.7L192.0 844.5H195.2Z"/>
<path d="M205.6 847.1L204.6 845.0H206.7Z"/>
<path d="M217.7 848.7L215.0 843.4H220.4Z"/>
<path d="M229.8 849.2L226.6 842.9H233.0Z"/>
<path d="M241.8 849.1L238.8 843.0H244.9Z"/>
<path d="M253.9 849.4L250.5 842.7H257.3Z"/>
<path d="M266.0 848.5L263.5 843.6H268.5Z"/>
<path d="M278.0 849.6L274.5 842.5H281.6Z"/>
<path d="M290.1 849.6L286.6 842.5H293.7Z"/>
<path d="M314.2 849.4L310.9 842.7H317.6Z"/>
<path d="M326.3 848.5L323.8 843.6H328.8Z"/>
<path d="M338.4 850.7L333.7 841.4H343.0Z"/>
<path d="M350.4 849.2L347.2 842.9H353.6Z"/>
<path d="M362.5 848.9L359.6 843.2H365.3Z"/>
<path d="M374.6 848.9L371.7 843.2H377.4Z"/>
<path d="M386.6 848.5L384.1 843.6H389.1Z"/>
<path d="M398.7 847.8L396.9 844.3H400.5Z"/>
<path d="M410.7 852.3L404.5 839.8H417.0Z"/>
<path d="M422.8 852.3L416.6 839.8H429.0Z"/>
<path d="M434.9 852.6L428.3 839.5H441.4Z"/>
<path d="M446.9 852.3L440.7 839.8H453.2Z"/>
<path d="M459.0 853.0L452.1 839.1H465.9Z"/>
<path d="M471.1 852.6L464.5 839.5H477.6Z"/>
<path d="M483.1 852.3L476.9 839.8H489.3Z"/>
<path d="M495.2 852.6L488.6 839.5H501.8Z"/>
<path d="M507.3 852.3L501.1 839.8H513.5Z"/>
<path d="M519.3 852.6L512.8 839.5H525.9Z"/>
<path d="M543.5 852.3L537.2 839.8H549.7Z"/>
<path d="M555.5 850.7L550.9 841.4H560.1Z"/>
<path d="M567.6 848.1L565.6 844.1H569.6Z"/>
<path d="M169.5 887.0L167.2 882.6H171.7Z"/>
<path d="M181.5 886.6L179.7 883.0H183.3Z"/>
<path d="M193.6 886.8L191.6 882.8H195.6Z"/>
<path d="M205.6 886.1L204.3 883.4H207.0Z"/>
<path d="M217.7 888.1L214.4 881.4H221.0Z"/>
<path d="M229.8 888.8L225.8 880.8H233.8Z"/>
<path d="M241.8 888.6L238.1 881.0H245.6Z"/>
<path d="M253.9 889.0L249.7 880.6H258.1Z"/>
<path d="M266.0 887.9L262.9 881.7H269.1Z"/>
<path d="M278.0 889.2L273.6 880.3H282.5Z"/>
<path d="M290.1 889.2L285.7 880.3H294.6Z"/>
<path d="M314.2 889.0L310.0 880.6H318.5Z"/>
<path d="M326.3 887.9L323.2 881.7H329.4Z"/>
<path d="M338.4 890.6L332.6 879.0H344.1Z"/>
<path d="M350.4 888.8L346.4 880.8H354.4Z"/>
<path d="M362.5 888.3L358.9 881.2H366.0Z"/>
<path d="M374.6 888.3L371.0 881.2H378.1Z"/>
<path d="M386.6 887.3L384.1 882.3H389.1Z"/>
<path d="M398.7 886.0L397.4 883.5H399.9Z"/>
<path d="M410.7 892.6L403.0 877.0H418.5Z"/>
<path d="M422.8 892.6L415.0 877.0H430.6Z"/>
<path d="M434.9 893.0L426.6 876.6H443.1Z"/>
<path d="M446.9 892.6L439.2 877.0H454.7Z"/>
<path d="M459.0 893.5L450.3 876.1H467.7Z"/>
<path d="M471.1 893.0L462.8 876.6H479.3Z"/>
<path d="M483.1 892.6L475.3 877.0H490.9Z"/>
<path d="M495.2 893.0L487.0 876.6H503.4Z"/>
<path d="M507.3 892.6L499.5 877.0H515.1Z"/>
<path d="M519.3 893.0L511.1 876.6H527.6Z"/>
<path d="M531.4 893.9L522.3 875.7H540.5Z"/>
<path d="M543.5 892.6L535.7 877.0H551.2Z"/>
<path d="M555.5 889.8L550.5 879.8H560.5Z"/>
<path d="M567.6 886.8L565.6 882.8H569.6Z"/>
<path d="M169.5 925.5L167.5 921.6H171.4Z"/>
<path d="M181.5 925.1L180.0 922.0H183.1Z"/>
<path d="M193.6 925.3L191.8 921.8H195.3Z"/>
<path d="M205.6 924.7L204.5 922.3H206.8Z"/>
<path d="M217.7 926.4L214.8 920.6H220.6Z"/>
<path d="M229.8 927.0L226.3 920.0H233.3Z"/>
<path d="M241.8 926.8L238.5 920.2H245.2Z"/>
<path d="M253.9 927.2L250.2 919.8H257.6Z"/>
<path d="M266.0 926.2L263.2 920.8H268.7Z"/>
<path d="M278.0 927.4L274.1 919.6H281.9Z"/>
<path d="M290.1 927.4L286.2 919.6H294.0Z"/>
<path d="M314.2 926.8L311.0 920.3H317.5Z"/>
<path d="M326.3 925.3L324.5 921.8H328.0Z"/>
<path d="M338.4 928.3L333.6 918.8H343.1Z"/>
<path d="M350.4 926.5L347.4 920.5H353.4Z"/>
<path d="M362.5 926.0L360.0 921.0H365.0Z"/>
<path d="M374.6 925.5L372.6 921.5H376.6Z"/>
<path d="M386.6 924.5L385.6 922.5H387.6Z"/>
<path d="M410.7 930.3L403.9 916.7H417.6Z"/>
<path d="M422.8 930.3L416.0 916.7H429.6Z"/>
<path d="M434.9 930.7L427.7 916.3H442.1Z"/>
<path d="M446.9 930.3L440.1 916.7H453.8Z"/>
<path d="M459.0 931.1L451.4 915.9H466.6Z"/>
<path d="M471.1 930.7L463.9 916.3H478.3Z"/>
<path d="M483.1 930.3L476.3 916.7H490.0Z"/>
<path d="M495.2 930.7L488.0 916.3H502.4Z"/>
<path d="M507.3 930.3L500.4 916.7H514.1Z"/>
<path d="M519.3 930.7L512.1 916.3H526.5Z"/>
<path d="M531.4 931.5L523.4 915.5H539.4Z"/>
<path d="M543.5 930.3L536.6 916.7H550.3Z"/>
<path d="M555.5 928.0L551.0 919.0H560.0Z"/>
<path d="M567.6 924.3L566.8 922.8H568.3Z"/>
<path d="M169.5 965.2L166.5 959.2H172.5Z"/>
<path d="M181.5 964.5L179.3 960.0H183.8Z"/>
<path d="M193.6 965.2L190.6 959.2H196.6Z"/>
<path d="M205.6 964.0L203.9 960.5H207.4Z"/>
<path d="M217.7 966.7L213.2 957.7H222.2Z"/>
<path d="M229.8 968.2L223.8 956.2H235.8Z"/>
<path d="M241.8 967.7L236.3 956.7H247.3Z"/>
<path d="M253.9 968.6L247.6 955.9H260.3Z"/>
<path d="M266.0 966.2L262.0 958.2H270.0Z"/>
<path d="M278.0 968.2L272.0 956.2H284.0Z"/>
<path d="M290.1 968.0L284.4 956.5H295.9Z"/>
<path d="M314.2 966.7L309.7 957.7H318.7Z"/>
<path d="M326.3 964.2L324.3 960.2H328.3Z"/>
<path d="M338.4 969.0L331.6 955.5H345.1Z"/>
<path d="M350.4 966.2L346.4 958.2H354.4Z"/>
<path d="M362.5 965.2L359.5 959.2H365.5Z"/>
<path d="M374.6 964.2L372.6 960.2H376.6Z"/>
<path d="M386.6 962.5L386.4 962.0H386.9Z"/>
<path d="M410.7 970.5L402.5 954.0H419.0Z"/>
<path d="M422.8 970.2L414.8 954.2H430.8Z"/>
<path d="M434.9 971.0L426.1 953.5H443.6Z"/>
<path d="M446.9 970.1L439.1 954.4H454.8Z"/>
<path d="M459.0 971.3L449.9 953.2H468.1Z"/>
<path d="M471.1 970.7L462.6 953.7H479.6Z"/>
<path d="M483.1 970.2L475.1 954.2H491.1Z"/>
<path d="M495.2 970.9L486.5 953.6H503.9Z"/>
<path d="M507.3 970.2L499.3 954.3H515.2Z"/>
<path d="M519.3 970.7L510.9 953.8H527.7Z"/>
<path d="M531.4 972.1L521.5 952.3H541.3Z"/>
<path d="M543.5 970.5L535.2 954.0H551.7Z"/>
<path d="M555.5 967.0L550.8 957.5H560.3Z"/>
<path d="M567.6 962.5L567.3 962.0H567.8Z"/>
<path d="M169.5 1003.2L167.2 998.7H171.7Z"/>
<path d="M181.5 1002.7L179.8 999.2H183.3Z"/>
<path d="M193.6 1003.2L191.3 998.7H195.8Z"/>
<path d="M205.6 1002.7L203.9 999.2H207.4Z"/>
<path d="M217.7 1004.7L214.0 997.2H221.5Z"/>
<path d="M229.8 1006.0L224.8 996.0H234.8Z"/>
<path d="M241.8 1005.5L237.3 996.5H246.3Z"/>
<path d="M253.9 1006.3L248.6 995.6H259.3Z"/>
<path d="M266.0 1004.7L262.2 997.2H269.7Z"/>
<path d="M278.0 1006.0L273.0 996.0H283.0Z"/>
<path d="M290.1 1005.7L285.4 996.2H294.9Z"/>
<path d="M314.2 1005.0L310.2 997.0H318.2Z"/>
<path d="M326.3 1002.7L324.5 999.2H328.0Z"/>
<path d="M338.4 1007.0L332.4 995.0H344.4Z"/>
<path d="M350.4 1004.5L346.9 997.5H353.9Z"/>
<path d="M362.5 1003.5L360.0 998.5H365.0Z"/>
<path d="M374.6 1002.5L373.1 999.5H376.1Z"/>
<path d="M410.7 1008.7L403.0 993.2H418.5Z"/>
<path d="M422.8 1008.5L415.3 993.5H430.3Z"/>
<path d="M434.9 1009.2L426.7 992.8H443.1Z"/>
<path d="M446.9 1008.3L439.6 993.6H454.3Z"/>
<path d="M459.0 1009.5L450.5 992.5H467.5Z"/>
<path d="M471.1 1009.0L463.1 993.0H479.1Z"/>
<path d="M483.1 1008.5L475.6 993.5H490.7Z"/>
<path d="M495.2 1009.1L487.1 992.8H503.3Z"/>
<path d="M507.3 1008.4L499.8 993.5H514.7Z"/>
<path d="M519.3 1008.9L511.4 993.1H527.2Z"/>
<path d="M531.4 1010.3L522.1 991.7H540.7Z"/>
<path d="M543.5 1008.7L535.7 993.2H551.2Z"/>
<path d="M555.5 1005.2L551.3 996.7H559.8Z"/>
<path d="M169.5 1041.7L167.5 1037.7H171.5Z"/>
<path d="M181.5 1041.2L180.0 1038.2H183.0Z"/>
<path d="M193.6 1041.5L191.8 1038.0H195.3Z"/>
<path d="M205.6 1041.0L204.4 1038.5H206.9Z"/>
<path d="M217.7 1042.5L215.0 1037.0H220.5Z"/>
<path d="M229.8 1043.5L226.0 1036.0H233.5Z"/>
<path d="M241.8 1043.2L238.3 1036.2H245.3Z"/>
<path d="M253.9 1043.7L249.9 1035.7H257.9Z"/>
<path d="M266.0 1042.5L263.2 1037.0H268.7Z"/>
<path d="M278.0 1043.5L274.3 1036.0H281.8Z"/>
<path d="M290.1 1043.5L286.4 1036.0H293.9Z"/>
<path d="M314.2 1042.7L311.2 1036.7H317.2Z"/>
<path d="M338.4 1044.7L333.4 1034.7H343.4Z"/>
<path d="M350.4 1042.7L347.4 1036.7H353.4Z"/>
<path d="M362.5 1041.7L360.5 1037.7H364.5Z"/>
<path d="M374.6 1040.7L373.6 1038.7H375.6Z"/>
<path d="M410.7 1047.0L403.5 1032.5H418.0Z"/>
<path d="M422.8 1046.7L415.8 1032.7H429.8Z"/>
<path d="M434.9 1047.4L427.2 1032.0H442.6Z"/>
<path d="M446.9 1046.6L440.1 1032.8H453.8Z"/>
<path d="M459.0 1047.7L451.0 1031.7H467.0Z"/>
<path d="M471.1 1047.2L463.6 1032.2H478.5Z"/>
<path d="M483.1 1046.7L476.1 1032.7H490.2Z"/>
<path d="M495.2 1047.3L487.6 1032.1H502.8Z"/>
<path d="M507.3 1046.7L500.3 1032.7H514.2Z"/>
<path d="M519.3 1047.1L511.9 1032.3H526.7Z"/>
<path d="M531.4 1048.4L522.7 1031.0H540.1Z"/>
<path d="M543.5 1047.0L536.2 1032.5H550.7Z"/>
<path d="M555.5 1043.7L551.5 1035.7H559.5Z"/>
<path d="M169.5 1080.2L167.7 1076.7H171.2Z"/>
<path d="M181.5 1079.7L180.3 1077.2H182.8Z"/>
<path d="M193.6 1079.9L192.1 1076.9H195.1Z"/>
<path d="M205.6 1079.7L204.4 1077.2H206.9Z"/>
<path d="M217.7 1080.7L215.5 1076.2H220.0Z"/>
<path d="M229.8 1082.2L226.0 1074.7H233.5Z"/>
<path d="M241.8 1081.7L238.6 1075.2H245.1Z"/>
<path d="M253.9 1082.4L249.9 1074.4H257.9Z"/>
<path d="M266.0 1080.9L263.5 1075.9H268.5Z"/>
<path d="M278.0 1081.9L274.5 1074.9H281.5Z"/>
<path d="M290.1 1081.9L286.6 1074.9H293.6Z"/>
<path d="M314.2 1081.2L311.5 1075.7H317.0Z"/>
<path d="M326.3 1079.4L325.3 1077.4H327.3Z"/>
<path d="M338.4 1083.2L333.6 1073.7H343.1Z"/>
<path d="M350.4 1081.2L347.7 1075.7H353.2Z"/>
<path d="M362.5 1080.2L360.7 1076.7H364.2Z"/>
<path d="M374.6 1078.9L374.1 1077.9H375.1Z"/>
<path d="M410.7 1084.7L404.5 1072.2H417.0Z"/>
<path d="M422.8 1084.5L416.8 1072.4H428.9Z"/>
<path d="M434.9 1085.1L428.3 1071.8H441.5Z"/>
<path d="M446.9 1084.4L441.0 1072.5H452.9Z"/>
<path d="M459.0 1085.3L452.1 1071.6H465.9Z"/>
<path d="M471.1 1084.9L464.6 1072.0H477.5Z"/>
<path d="M483.1 1084.5L477.1 1072.4H489.2Z"/>
<path d="M495.2 1085.0L488.6 1071.9H501.8Z"/>
<path d="M507.3 1084.4L501.3 1072.4H513.3Z"/>
<path d="M519.3 1084.8L513.0 1072.1H525.7Z"/>
<path d="M531.4 1085.9L523.9 1070.9H538.9Z"/>
<path d="M543.5 1084.7L537.2 1072.2H549.7Z"/>
<path d="M555.5 1081.9L552.0 1074.9H559.0Z"/>
<path d="M169.5 1119.7L167.0 1114.7H172.0Z"/>
<path d="M181.5 1119.2L179.5 1115.2H183.5Z"/>
<path d="M193.6 1118.9L191.8 1115.4H195.3Z"/>
<path d="M205.6 1117.7L205.1 1116.7H206.1Z"/>
<path d="M217.7 1119.4L215.5 1114.9H220.0Z"/>
<path d="M229.8 1121.2L225.8 1113.2H233.8Z"/>
<path d="M241.8 1120.7L238.3 1113.7H245.3Z"/>
<path d="M253.9 1121.7L249.4 1112.7H258.4Z"/>
<path d="M266.0 1120.2L263.0 1114.2H269.0Z"/>
<path d="M278.0 1121.2L274.0 1113.2H282.0Z"/>
<path d="M290.1 1121.4L285.9 1112.9H294.4Z"/>
<path d="M314.2 1119.9L311.5 1114.4H317.0Z"/>
<path d="M326.3 1117.4L326.0 1116.9H326.5Z"/>
<path d="M338.4 1122.4L333.1 1111.9H343.6Z"/>
<path d="M350.4 1120.4L347.2 1113.9H353.7Z"/>
<path d="M362.5 1119.2L360.5 1115.2H364.5Z"/>
<path d="M410.7 1124.8L403.1 1109.6H418.3Z"/>
<path d="M422.8 1124.5L415.4 1109.8H430.2Z"/>
<path d="M434.9 1125.2L426.8 1109.1H442.9Z"/>
<path d="M446.9 1124.4L439.7 1109.9H454.2Z"/>
<path d="M459.0 1125.5L450.6 1108.8H467.4Z"/>
<path d="M471.1 1125.0L463.2 1109.3H478.9Z"/>
<path d="M483.1 1124.5L475.8 1109.8H490.5Z"/>
<path d="M495.2 1125.1L487.2 1109.2H503.2Z"/>
<path d="M507.3 1124.5L500.0 1109.9H514.6Z"/>
<path d="M519.3 1124.9L511.6 1109.4H527.1Z"/>
<path d="M531.4 1126.3L522.3 1108.0H540.5Z"/>
<path d="M543.5 1124.8L535.9 1109.6H551.1Z"/>
<path d="M555.5 1121.4L551.3 1112.9H559.8Z"/>
</g><g fill="#008000" fill-opacity=".7">
<path d="M157.4 690.6L156.9 691.6H157.9Z"/>
<path d="M459.0 684.6L452.5 697.6H465.5Z"/>
<path d="M603.8 688.5L601.2 693.7H606.4Z"/>
<path d="M615.8 689.3L614.0 693.0H617.7Z"/>
<path d="M627.9 688.5L625.3 693.7H630.5Z"/>
<path d="M640.0 688.8L637.6 693.5H642.3Z"/>
<path d="M652.0 688.0L648.9 694.3H655.2Z"/>
<path d="M664.1 688.0L661.0 694.3H667.2Z"/>
<path d="M676.2 687.0L672.0 695.3H680.3Z"/>
<path d="M688.2 686.7L683.8 695.6H692.7Z"/>
<path d="M700.3 686.6L695.8 695.7H704.8Z"/>
<path d="M712.4 686.5L707.7 695.8H717.0Z"/>
<path d="M724.4 686.4L719.7 695.9H729.2Z"/>
<path d="M736.5 686.2L731.6 696.1H741.4Z"/>
<path d="M748.6 685.9L743.4 696.3H753.8Z"/>
<path d="M760.6 685.4L754.9 696.9H766.4Z"/>
<path d="M772.7 685.2L766.8 697.0H778.6Z"/>
<path d="M784.8 684.5L778.1 697.8H791.4Z"/>
<path d="M796.8 684.7L790.4 697.5H803.2Z"/>
<path d="M808.9 685.2L802.9 697.1H814.9Z"/>
<path d="M820.9 684.6L814.5 697.6H827.4Z"/>
<path d="M833.0 684.7L826.6 697.6H839.4Z"/>
<path d="M845.1 684.4L838.3 697.9H851.8Z"/>
<path d="M857.1 684.5L850.5 697.8H863.8Z"/>
<path d="M869.2 684.6L862.7 697.7H875.7Z"/>
<path d="M881.3 684.6L874.8 697.7H887.8Z"/>
<path d="M893.3 684.9L887.1 697.4H899.6Z"/>
<path d="M905.4 685.1L899.4 697.2H911.4Z"/>
<path d="M917.5 685.5L911.8 696.8H923.1Z"/>
<path d="M929.5 686.2L924.6 696.1H934.5Z"/>
<path d="M941.6 687.0L937.5 695.3H945.7Z"/>
<path d="M953.7 687.8L950.3 694.5H957.0Z"/>
<path d="M965.7 690.6L965.2 691.7H966.3Z"/>
<path d="M977.8 688.5L975.1 693.8H980.4Z"/>
<path d="M989.9 686.6L985.4 695.6H994.4Z"/>
<path d="M1001.9 687.4L998.2 694.8H1005.6Z"/>
<path d="M1014.0 689.3L1012.1 693.0H1015.8Z"/>
<path d="M1086.4 689.0L1084.3 693.3H1088.5Z"/>
<path d="M1098.4 687.7L1095.0 694.6H1101.9Z"/>
<path d="M1110.5 687.7L1107.1 694.6H1113.9Z"/>
<path d="M1122.6 686.9L1118.3 695.4H1126.8Z"/>
<path d="M1134.6 688.0L1131.5 694.3H1137.8Z"/>
<path d="M1170.8 690.6L1170.3 691.7H1171.4Z"/>
<path d="M1182.9 690.8L1182.6 691.4H1183.2Z"/>
<path d="M1207.0 689.5L1205.4 692.7H1208.6Z"/>
<path d="M1219.1 690.1L1218.0 692.2H1220.1Z"/>
<path d="M1243.2 688.5L1240.6 693.8H1245.9Z"/>
<path d="M1255.3 686.9L1251.0 695.4H1259.5Z"/>
<path d="M1267.3 688.7L1265.0 693.5H1269.7Z"/>
<path d="M157.4 729.1L156.6 730.6H158.1Z"/>
<path d="M603.8 724.6L598.5 735.1H609.0Z"/>
<path d="M615.8 726.2L612.2 733.5H619.5Z"/>
<path d="M627.9 725.1L623.2 734.6H632.6Z"/>
<path d="M640.0 725.7L635.8 734.1H644.2Z"/>
<path d="M652.0 724.3L646.5 735.4H657.6Z"/>
<path d="M664.1 724.6L658.9 735.1H669.4Z"/>
<path d="M676.2 723.0L669.3 736.7H683.0Z"/>
<path d="M688.2 722.8L681.1 736.9H695.3Z"/>
<path d="M700.3 722.5L693.0 737.2H707.7Z"/>
<path d="M712.4 722.2L704.8 737.5H720.0Z"/>
<path d="M724.4 721.8L716.4 737.9H732.5Z"/>
<path d="M736.5 721.6L728.2 738.2H744.8Z"/>
<path d="M748.6 721.1L739.8 738.6H757.3Z"/>
<path d="M760.6 720.5L751.3 739.2H770.0Z"/>
<path d="M772.7 720.1L763.0 739.6H782.4Z"/>
<path d="M784.8 718.8L773.7 740.9H795.8Z"/>
<path d="M796.8 718.9L785.9 740.8H807.8Z"/>
<path d="M808.9 719.6L798.6 740.1H819.1Z"/>
<path d="M820.9 719.2L810.3 740.5H831.6Z"/>
<path d="M833.0 719.3L822.5 740.4H843.6Z"/>
<path d="M845.1 718.8L834.0 741.0H856.2Z"/>
<path d="M857.1 718.6L845.9 741.1H868.4Z"/>
<path d="M869.2 719.2L858.5 740.6H879.9Z"/>
<path d="M881.3 719.2L870.6 740.6H892.0Z"/>
<path d="M893.3 719.2L882.6 740.6H904.0Z"/>
<path d="M905.4 719.6L895.2 740.1H915.6Z"/>
<path d="M917.5 720.4L908.0 739.3H926.9Z"/>
<path d="M929.5 721.7L921.4 738.0H937.7Z"/>
<path d="M941.6 722.3L934.0 737.4H949.2Z"/>
<path d="M953.7 722.8L946.6 736.9H960.7Z"/>
<path d="M965.7 727.3L963.1 732.5H968.3Z"/>
<path d="M977.8 724.1L972.1 735.6H983.5Z"/>
<path d="M989.9 722.1L982.1 737.7H997.7Z"/>
<path d="M1001.9 723.1L995.2 736.6H1008.7Z"/>
<path d="M1014.0 725.7L1009.8 734.0H1018.1Z"/>
<path d="M1026.1 729.3L1025.5 730.4H1026.6Z"/>
<path d="M1050.2 727.8L1048.1 731.9H1052.3Z"/>
<path d="M1074.3 727.3L1071.7 732.5H1076.9Z"/>
<path d="M1086.4 725.2L1081.7 734.5H1091.1Z"/>
<path d="M1098.4 723.1L1091.7 736.6H1105.2Z"/>
<path d="M1110.5 723.1L1103.7 736.6H1117.3Z"/>
<path d="M1122.6 722.1L1114.8 737.7H1130.4Z"/>
<path d="M1134.6 723.6L1128.4 736.1H1140.9Z"/>
<path d="M1170.8 726.2L1167.2 733.5H1174.5Z"/>
<path d="M1182.9 726.7L1179.8 733.0H1186.0Z"/>
<path d="M1195.0 728.3L1193.4 731.4H1196.5Z"/>
<path d="M1207.0 725.7L1202.9 734.0H1211.2Z"/>
<path d="M1219.1 726.2L1215.4 733.5H1222.7Z"/>
<path d="M1231.2 727.3L1228.6 732.5H1233.8Z"/>
<path d="M1243.2 724.7L1238.0 735.1H1248.4Z"/>
<path d="M1255.3 722.1L1247.5 737.7H1263.1Z"/>
<path d="M1267.3 724.7L1262.1 735.1H1272.5Z"/>
<path d="M157.4 768.1L156.9 769.1H157.9Z"/>
<path d="M531.4 761.6L524.4 775.6H538.4Z"/>
<path d="M603.8 765.5L600.7 771.7H606.9Z"/>
<path d="M615.8 766.3L613.5 770.9H618.2Z"/>
<path d="M627.9 765.5L624.8 771.7H631.0Z"/>
<path d="M640.0 765.7L637.1 771.5H642.8Z"/>
<path d="M652.0 765.0L648.4 772.2H655.7Z"/>
<path d="M664.1 765.0L660.5 772.2H667.7Z"/>
<path d="M676.2 763.4L671.0 773.8H681.4Z"/>
<path d="M688.2 763.1L682.8 774.1H693.7Z"/>
<path d="M700.3 763.1L694.8 774.1H705.8Z"/>
<path d="M712.4 762.9L706.6 774.3H718.1Z"/>
<path d="M724.4 762.5L718.3 774.7H730.5Z"/>
<path d="M736.5 762.2L730.1 775.0H742.9Z"/>
<path d="M748.6 761.8L741.8 775.4H755.3Z"/>
<path d="M760.6 761.2L753.3 776.0H768.0Z"/>
<path d="M772.7 760.8L764.9 776.4H780.5Z"/>
<path d="M784.8 759.9L776.1 777.3H793.4Z"/>
<path d="M796.8 760.0L788.2 777.2H805.4Z"/>
<path d="M808.9 760.5L800.8 776.7H816.9Z"/>
<path d="M820.9 760.2L812.6 777.0H829.3Z"/>
<path d="M833.0 760.2L824.6 777.0H841.4Z"/>
<path d="M845.1 759.7L836.2 777.5H853.9Z"/>
<path d="M857.1 759.9L848.4 777.3H865.9Z"/>
<path d="M869.2 760.2L860.8 777.0H877.6Z"/>
<path d="M881.3 760.2L872.9 777.0H889.7Z"/>
<path d="M893.3 760.4L885.2 776.7H901.5Z"/>
<path d="M905.4 760.6L897.4 776.5H913.4Z"/>
<path d="M917.5 761.1L910.0 776.1H925.0Z"/>
<path d="M929.5 761.8L922.7 775.4H936.3Z"/>
<path d="M941.6 762.9L935.9 774.3H947.3Z"/>
<path d="M953.7 763.9L949.0 773.3H958.3Z"/>
<path d="M965.7 766.4L963.6 770.8H967.9Z"/>
<path d="M977.8 764.3L973.5 772.9H982.1Z"/>
<path d="M989.9 762.7L983.9 774.5H995.8Z"/>
<path d="M1001.9 763.5L996.8 773.7H1007.1Z"/>
<path d="M1014.0 764.8L1010.2 772.4H1017.8Z"/>
<path d="M1026.1 766.4L1023.9 770.8H1028.2Z"/>
<path d="M1038.1 767.8L1037.3 769.4H1038.9Z"/>
<path d="M1050.2 765.9L1047.5 771.3H1052.9Z"/>
<path d="M1062.2 767.0L1060.6 770.2H1063.9Z"/>
<path d="M1074.3 765.4L1071.1 771.8H1077.5Z"/>
<path d="M1086.4 764.3L1082.1 772.9H1090.7Z"/>
<path d="M1098.4 763.2L1093.0 774.0H1103.8Z"/>
<path d="M1110.5 763.7L1105.6 773.5H1115.4Z"/>
<path d="M1122.6 762.4L1116.4 774.8H1128.8Z"/>
<path d="M1134.6 763.2L1129.2 774.0H1140.0Z"/>
<path d="M1146.7 767.0L1145.1 770.2H1148.3Z"/>
<path d="M1158.8 766.4L1156.6 770.8H1160.9Z"/>
<path d="M1170.8 764.3L1166.5 772.9H1175.1Z"/>
<path d="M1182.9 764.8L1179.1 772.4H1186.7Z"/>
<path d="M1195.0 765.6L1192.0 771.6H1197.9Z"/>
<path d="M1207.0 764.3L1202.7 772.9H1211.3Z"/>
<path d="M1219.1 764.5L1215.0 772.6H1223.1Z"/>
<path d="M1231.2 765.1L1227.6 772.1H1234.7Z"/>
<path d="M1243.2 763.5L1238.1 773.7H1248.3Z"/>
<path d="M1255.3 761.8L1248.5 775.3H1262.0Z"/>
<path d="M1267.3 764.0L1262.8 773.2H1271.9Z"/>
<path d="M1291.5 767.2L1290.1 769.9H1292.8Z"/>
<path d="M579.7 806.5L578.9 808.1H580.5Z"/>
<path d="M591.7 806.5L590.9 808.1H592.5Z"/>
<path d="M603.8 803.7L600.1 811.0H607.4Z"/>
<path d="M615.8 804.5L613.0 810.2H618.7Z"/>
<path d="M627.9 803.7L624.3 811.0H631.6Z"/>
<path d="M640.0 803.7L636.3 811.0H643.6Z"/>
<path d="M652.0 802.9L647.6 811.7H656.5Z"/>
<path d="M664.1 802.9L659.7 811.7H668.5Z"/>
<path d="M676.2 801.6L670.5 813.0H681.9Z"/>
<path d="M688.2 801.3L682.2 813.4H694.3Z"/>
<path d="M700.3 801.1L694.1 813.6H706.5Z"/>
<path d="M712.4 800.9L706.0 813.7H718.8Z"/>
<path d="M724.4 800.5L717.6 814.1H731.2Z"/>
<path d="M736.5 800.3L729.5 814.3H743.5Z"/>
<path d="M748.6 799.9L741.1 814.8H756.0Z"/>
<path d="M760.6 799.2L752.5 815.4H768.7Z"/>
<path d="M772.7 799.0L764.3 815.7H781.0Z"/>
<path d="M784.8 797.9L775.3 816.8H794.2Z"/>
<path d="M796.8 798.0L787.5 816.7H806.2Z"/>
<path d="M808.9 798.5L800.0 816.2H817.7Z"/>
<path d="M820.9 798.1L811.8 816.5H830.1Z"/>
<path d="M833.0 798.2L823.9 816.4H842.1Z"/>
<path d="M845.1 797.7L835.5 816.9H854.7Z"/>
<path d="M857.1 797.9L847.7 816.8H866.6Z"/>
<path d="M869.2 798.1L860.0 816.6H878.4Z"/>
<path d="M881.3 798.2L872.1 816.5H890.4Z"/>
<path d="M893.3 798.4L884.4 816.2H902.3Z"/>
<path d="M905.4 798.7L896.7 816.0H914.1Z"/>
<path d="M917.5 799.3L909.4 815.4H925.5Z"/>
<path d="M929.5 800.0L922.2 814.6H936.8Z"/>
<path d="M941.6 801.1L935.4 813.5H947.8Z"/>
<path d="M953.7 801.9L948.2 812.8H959.1Z"/>
<path d="M965.7 804.0L962.4 810.6H969.0Z"/>
<path d="M977.8 801.8L972.3 812.8H983.3Z"/>
<path d="M989.9 800.2L982.7 814.5H997.0Z"/>
<path d="M1001.9 801.3L995.9 813.4H1008.0Z"/>
<path d="M1014.0 802.1L1008.8 812.5H1019.2Z"/>
<path d="M1026.1 803.7L1022.5 810.9H1029.6Z"/>
<path d="M1038.1 804.6L1035.4 810.1H1040.9Z"/>
<path d="M1050.2 802.9L1045.8 811.7H1054.6Z"/>
<path d="M1062.2 803.7L1058.7 810.9H1065.8Z"/>
<path d="M1074.3 802.4L1069.4 812.3H1079.3Z"/>
<path d="M1086.4 801.3L1080.3 813.4H1092.4Z"/>
<path d="M1098.4 800.2L1091.3 814.5H1105.6Z"/>
<path d="M1110.5 800.7L1103.9 813.9H1117.1Z"/>
<path d="M1122.6 799.6L1114.9 815.0H1130.3Z"/>
<path d="M1134.6 800.2L1127.5 814.5H1141.8Z"/>
<path d="M1146.7 803.5L1142.8 811.2H1150.5Z"/>
<path d="M1158.8 803.2L1154.6 811.4H1162.9Z"/>
<path d="M1170.8 801.5L1165.1 813.1H1176.6Z"/>
<path d="M1182.9 801.8L1177.4 812.8H1188.4Z"/>
<path d="M1195.0 802.4L1190.0 812.3H1199.9Z"/>
<path d="M1207.0 801.3L1201.0 813.4H1213.1Z"/>
<path d="M1219.1 801.5L1213.3 813.1H1224.9Z"/>
<path d="M1231.2 802.1L1225.9 812.5H1236.4Z"/>
<path d="M1243.2 800.4L1236.3 814.2H1250.1Z"/>
<path d="M1255.3 799.1L1247.0 815.6H1263.5Z"/>
<path d="M1267.3 800.7L1260.7 813.9H1273.9Z"/>
<path d="M1279.4 806.5L1278.6 808.1H1280.2Z"/>
<path d="M1291.5 803.5L1287.6 811.2H1295.3Z"/>
<path d="M157.4 845.5L156.9 846.6H157.9Z"/>
<path d="M302.2 845.3L301.4 846.8H302.9Z"/>
<path d="M531.4 838.6L523.9 853.6H538.9Z"/>
<path d="M579.7 845.6L579.2 846.6H580.2Z"/>
<path d="M591.7 845.1L590.7 847.1H592.7Z"/>
<path d="M603.8 841.9L599.6 850.2H607.9Z"/>
<path d="M615.8 842.9L612.7 849.2H619.0Z"/>
<path d="M627.9 842.2L624.0 850.0H631.8Z"/>
<path d="M640.0 842.4L636.3 849.7H643.6Z"/>
<path d="M652.0 841.4L647.4 850.7H656.7Z"/>
<path d="M664.1 841.4L659.4 850.7H668.8Z"/>
<path d="M676.2 839.8L669.9 852.3H682.4Z"/>
<path d="M688.2 839.8L682.0 852.3H694.5Z"/>
<path d="M700.3 839.6L693.9 852.5H706.8Z"/>
<path d="M712.4 839.4L705.7 852.7H719.0Z"/>
<path d="M724.4 839.1L717.4 853.1H731.4Z"/>
<path d="M736.5 838.7L729.2 853.4H743.8Z"/>
<path d="M748.6 838.3L740.8 853.8H756.3Z"/>
<path d="M760.6 837.6L752.2 854.5H769.0Z"/>
<path d="M772.7 837.4L764.0 854.7H781.4Z"/>
<path d="M784.8 836.2L774.9 855.9H794.6Z"/>
<path d="M796.8 836.4L787.2 855.7H806.4Z"/>
<path d="M808.9 837.0L799.8 855.2H818.0Z"/>
<path d="M820.9 836.6L811.5 855.5H830.4Z"/>
<path d="M833.0 836.7L823.6 855.4H842.4Z"/>
<path d="M845.1 836.2L835.2 855.9H855.0Z"/>
<path d="M857.1 836.3L847.4 855.8H866.9Z"/>
<path d="M869.2 836.5L859.7 855.6H878.7Z"/>
<path d="M881.3 836.7L871.9 855.5H890.7Z"/>
<path d="M893.3 836.8L884.1 855.3H902.6Z"/>
<path d="M905.4 837.1L896.4 855.1H914.4Z"/>
<path d="M917.5 837.7L909.1 854.4H925.8Z"/>
<path d="M929.5 838.4L921.9 853.7H937.2Z"/>
<path d="M941.6 839.3L934.9 852.8H948.3Z"/>
<path d="M953.7 840.1L947.7 852.0H959.6Z"/>
<path d="M965.7 842.3L961.9 849.8H969.5Z"/>
<path d="M977.8 840.1L971.9 852.0H983.7Z"/>
<path d="M989.9 838.5L982.3 853.6H997.4Z"/>
<path d="M1001.9 839.6L995.4 852.5H1008.4Z"/>
<path d="M1014.0 840.4L1008.3 851.7H1019.7Z"/>
<path d="M1026.1 841.7L1021.7 850.4H1030.4Z"/>
<path d="M1038.1 842.3L1034.3 849.8H1041.9Z"/>
<path d="M1050.2 840.9L1045.0 851.2H1055.3Z"/>
<path d="M1062.2 841.7L1057.9 850.4H1066.6Z"/>
<path d="M1074.3 840.4L1068.6 851.7H1080.0Z"/>
<path d="M1086.4 839.3L1079.6 852.8H1093.1Z"/>
<path d="M1098.4 838.5L1090.9 853.6H1106.0Z"/>
<path d="M1110.5 839.0L1103.5 853.1H1117.5Z"/>
<path d="M1122.6 838.0L1114.5 854.2H1130.7Z"/>
<path d="M1134.6 838.5L1127.1 853.6H1142.2Z"/>
<path d="M1146.7 841.2L1141.8 850.9H1151.6Z"/>
<path d="M1158.8 840.9L1153.6 851.2H1163.9Z"/>
<path d="M1170.8 839.6L1164.3 852.5H1177.3Z"/>
<path d="M1182.9 839.6L1176.4 852.5H1189.4Z"/>
<path d="M1195.0 840.1L1189.0 852.0H1200.9Z"/>
<path d="M1207.0 839.3L1200.3 852.8H1213.8Z"/>
<path d="M1219.1 839.6L1212.6 852.5H1225.6Z"/>
<path d="M1231.2 839.8L1224.9 852.3H1237.4Z"/>
<path d="M1243.2 838.5L1235.7 853.6H1250.8Z"/>
<path d="M1255.3 837.4L1246.6 854.7H1263.9Z"/>
<path d="M1267.3 838.8L1260.1 853.3H1274.6Z"/>
<path d="M1279.4 842.5L1275.9 849.6H1282.9Z"/>
<path d="M1291.5 840.7L1286.1 851.5H1296.9Z"/>
<path d="M157.4 884.1L156.7 885.5H158.1Z"/>
<path d="M302.2 884.4L301.8 885.2H302.6Z"/>
<path d="M579.7 882.3L577.2 887.3H582.2Z"/>
<path d="M591.7 882.3L589.2 887.3H594.2Z"/>
<path d="M603.8 879.1L598.1 890.5H609.5Z"/>
<path d="M615.8 880.1L611.2 889.5H620.5Z"/>
<path d="M627.9 879.1L622.2 890.5H633.6Z"/>
<path d="M640.0 879.6L634.8 890.0H645.2Z"/>
<path d="M652.0 878.3L645.5 891.3H658.5Z"/>
<path d="M664.1 878.5L657.9 891.0H670.3Z"/>
<path d="M676.2 877.5L668.9 892.1H683.5Z"/>
<path d="M688.2 877.4L680.9 892.2H695.6Z"/>
<path d="M700.3 877.1L692.6 892.5H708.0Z"/>
<path d="M712.4 876.9L704.5 892.7H720.3Z"/>
<path d="M724.4 876.4L716.1 893.2H732.8Z"/>
<path d="M736.5 876.1L727.9 893.4H745.1Z"/>
<path d="M748.6 875.6L739.4 894.0H757.8Z"/>
<path d="M760.6 875.0L750.8 894.6H770.5Z"/>
<path d="M772.7 874.6L762.5 895.0H782.9Z"/>
<path d="M784.8 873.2L773.2 896.3H796.3Z"/>
<path d="M796.8 873.4L785.5 896.1H808.2Z"/>
<path d="M808.9 874.0L798.1 895.6H819.7Z"/>
<path d="M820.9 873.5L809.7 896.0H832.2Z"/>
<path d="M833.0 873.6L821.9 895.9H844.2Z"/>
<path d="M845.1 873.0L833.3 896.5H856.8Z"/>
<path d="M857.1 873.2L845.6 896.4H868.7Z"/>
<path d="M869.2 873.5L857.9 896.1H880.5Z"/>
<path d="M881.3 873.6L870.1 895.9H892.4Z"/>
<path d="M893.3 873.9L882.5 895.7H904.2Z"/>
<path d="M905.4 874.2L894.8 895.4H916.0Z"/>
<path d="M917.5 874.9L907.6 894.7H927.4Z"/>
<path d="M929.5 875.6L920.4 893.9H938.7Z"/>
<path d="M941.6 876.8L933.6 892.8H949.6Z"/>
<path d="M953.7 877.2L946.1 892.3H961.2Z"/>
<path d="M965.7 879.1L960.1 890.4H971.4Z"/>
<path d="M977.8 877.4L970.4 892.1H985.1Z"/>
<path d="M989.9 875.7L980.8 893.8H998.9Z"/>
<path d="M1001.9 876.6L993.7 893.0H1010.1Z"/>
<path d="M1014.0 876.9L1006.1 892.7H1021.9Z"/>
<path d="M1026.1 878.3L1019.6 891.3H1032.5Z"/>
<path d="M1038.1 878.6L1031.9 891.0H1044.3Z"/>
<path d="M1050.2 877.4L1042.8 892.1H1057.5Z"/>
<path d="M1062.2 878.0L1055.5 891.6H1069.0Z"/>
<path d="M1074.3 876.9L1066.4 892.7H1082.2Z"/>
<path d="M1086.4 876.0L1077.6 893.5H1095.1Z"/>
<path d="M1098.4 875.2L1088.8 894.4H1108.0Z"/>
<path d="M1110.5 875.7L1101.5 893.8H1119.5Z"/>
<path d="M1122.6 874.6L1112.4 895.0H1132.7Z"/>
<path d="M1134.6 875.2L1125.0 894.4H1144.2Z"/>
<path d="M1146.7 877.4L1139.4 892.1H1154.0Z"/>
<path d="M1158.8 877.4L1151.4 892.1H1166.1Z"/>
<path d="M1170.8 876.3L1162.4 893.3H1179.3Z"/>
<path d="M1182.9 876.3L1174.4 893.3H1191.4Z"/>
<path d="M1195.0 876.9L1187.0 892.7H1202.9Z"/>
<path d="M1207.0 876.0L1198.3 893.5H1215.8Z"/>
<path d="M1219.1 876.3L1210.6 893.3H1227.6Z"/>
<path d="M1231.2 876.6L1223.0 893.0H1239.3Z"/>
<path d="M1243.2 875.2L1233.6 894.4H1252.8Z"/>
<path d="M1255.3 874.0L1244.5 895.5H1266.0Z"/>
<path d="M1267.3 875.5L1258.0 894.1H1276.7Z"/>
<path d="M1279.4 878.6L1273.2 891.0H1285.6Z"/>
<path d="M1291.5 876.9L1283.6 892.7H1299.4Z"/>
<path d="M157.4 922.9L156.8 924.1H158.0Z"/>
<path d="M302.2 922.5L301.2 924.5H303.2Z"/>
<path d="M579.7 920.8L576.9 926.3H582.4Z"/>
<path d="M591.7 920.8L589.0 926.3H594.5Z"/>
<path d="M603.8 918.3L598.6 928.7H609.0Z"/>
<path d="M615.8 918.8L611.2 928.2H620.5Z"/>
<path d="M627.9 917.8L622.2 929.2H633.6Z"/>
<path d="M640.0 918.3L634.8 928.7H645.2Z"/>
<path d="M652.0 917.3L645.8 929.8H658.3Z"/>
<path d="M664.1 917.3L657.9 929.8H670.3Z"/>
<path d="M676.2 916.5L669.2 930.5H683.2Z"/>
<path d="M688.2 916.1L680.9 930.9H695.6Z"/>
<path d="M700.3 916.0L692.8 931.0H707.8Z"/>
<path d="M712.4 915.8L704.7 931.2H720.1Z"/>
<path d="M724.4 915.5L716.4 931.6H732.5Z"/>
<path d="M736.5 915.2L728.2 931.8H744.8Z"/>
<path d="M748.6 914.8L739.8 932.3H757.3Z"/>
<path d="M760.6 914.1L751.2 932.9H770.0Z"/>
<path d="M772.7 913.9L763.0 933.2H782.3Z"/>
<path d="M784.8 912.5L773.8 934.5H795.7Z"/>
<path d="M796.8 912.8L786.1 934.3H807.6Z"/>
<path d="M808.9 913.3L798.6 933.8H819.1Z"/>
<path d="M820.9 912.9L810.3 934.2H831.6Z"/>
<path d="M833.0 913.0L822.5 934.1H843.6Z"/>
<path d="M845.1 912.4L834.0 934.6H856.2Z"/>
<path d="M857.1 912.6L846.2 934.5H868.1Z"/>
<path d="M869.2 912.8L858.5 934.2H879.9Z"/>
<path d="M881.3 912.9L870.7 934.1H891.9Z"/>
<path d="M893.3 913.2L883.0 933.8H903.7Z"/>
<path d="M905.4 913.4L895.3 933.6H915.5Z"/>
<path d="M917.5 914.1L908.0 932.9H926.9Z"/>
<path d="M929.5 914.8L920.9 932.2H938.2Z"/>
<path d="M941.6 915.8L933.8 931.3H949.4Z"/>
<path d="M953.7 916.2L946.4 930.8H960.9Z"/>
<path d="M965.7 917.9L960.1 929.2H971.4Z"/>
<path d="M977.8 916.2L970.4 930.9H985.1Z"/>
<path d="M989.9 915.0L981.4 932.0H998.3Z"/>
<path d="M1001.9 915.6L994.0 931.4H1009.8Z"/>
<path d="M1014.0 915.9L1006.4 931.1H1021.6Z"/>
<path d="M1026.1 917.3L1019.8 929.7H1032.3Z"/>
<path d="M1038.1 917.6L1032.2 929.4H1044.0Z"/>
<path d="M1050.2 916.5L1043.1 930.6H1057.2Z"/>
<path d="M1062.2 916.7L1055.5 930.3H1069.0Z"/>
<path d="M1074.3 915.9L1066.7 931.1H1081.9Z"/>
<path d="M1086.4 915.0L1077.9 932.0H1094.8Z"/>
<path d="M1098.4 914.2L1089.1 932.8H1107.8Z"/>
<path d="M1110.5 914.8L1101.7 932.3H1119.3Z"/>
<path d="M1122.6 913.6L1112.7 933.4H1132.5Z"/>
<path d="M1134.6 914.2L1125.3 932.8H1144.0Z"/>
<path d="M1146.7 916.2L1139.4 930.9H1154.0Z"/>
<path d="M1158.8 916.2L1151.4 930.9H1166.1Z"/>
<path d="M1170.8 915.3L1162.6 931.7H1179.0Z"/>
<path d="M1182.9 915.3L1174.7 931.7H1191.1Z"/>
<path d="M1195.0 915.6L1187.0 931.4H1202.9Z"/>
<path d="M1207.0 915.0L1198.5 932.0H1215.5Z"/>
<path d="M1219.1 915.3L1210.9 931.7H1227.3Z"/>
<path d="M1231.2 915.6L1223.2 931.4H1239.1Z"/>
<path d="M1243.2 914.5L1234.2 932.6H1252.3Z"/>
<path d="M1255.3 913.3L1245.1 933.7H1265.5Z"/>
<path d="M1267.3 914.5L1258.3 932.6H1276.4Z"/>
<path d="M1279.4 916.7L1272.6 930.3H1286.2Z"/>
<path d="M1291.5 915.6L1283.6 931.4H1299.4Z"/>
<path d="M157.4 961.5L156.6 963.0H158.1Z"/>
<path d="M302.2 960.2L300.2 964.2H304.2Z"/>
<path d="M398.7 960.2L396.7 964.2H400.7Z"/>
<path d="M579.7 957.7L575.2 966.7H584.2Z"/>
<path d="M591.7 957.7L587.2 966.7H596.2Z"/>
<path d="M603.8 955.2L596.8 969.3H610.8Z"/>
<path d="M615.8 955.7L609.3 968.8H622.4Z"/>
<path d="M627.9 954.8L620.4 969.7H635.4Z"/>
<path d="M640.0 955.0L632.7 969.5H647.2Z"/>
<path d="M652.0 954.2L644.0 970.3H660.1Z"/>
<path d="M664.1 954.5L656.4 970.0H671.8Z"/>
<path d="M676.2 953.5L667.4 971.0H684.9Z"/>
<path d="M688.2 953.2L679.2 971.3H697.3Z"/>
<path d="M700.3 953.1L691.2 971.4H709.4Z"/>
<path d="M712.4 953.0L703.2 971.4H721.6Z"/>
<path d="M724.4 952.7L714.9 971.8H734.0Z"/>
<path d="M736.5 952.6L726.8 971.9H746.2Z"/>
<path d="M748.6 952.0L738.3 972.5H758.9Z"/>
<path d="M760.6 951.5L749.9 973.0H771.4Z"/>
<path d="M772.7 951.5L761.9 973.0H783.4Z"/>
<path d="M784.8 950.7L773.3 973.7H796.3Z"/>
<path d="M796.8 950.9L785.5 973.6H808.1Z"/>
<path d="M808.9 951.4L798.1 973.1H819.7Z"/>
<path d="M820.9 950.7L809.4 973.7H832.4Z"/>
<path d="M833.0 950.7L821.5 973.7H844.5Z"/>
<path d="M845.1 949.9L832.8 974.6H857.4Z"/>
<path d="M857.1 949.9L844.8 974.6H869.4Z"/>
<path d="M869.2 950.2L857.2 974.3H881.2Z"/>
<path d="M881.3 950.2L869.3 974.3H893.3Z"/>
<path d="M893.3 950.2L881.3 974.3H905.4Z"/>
<path d="M905.4 950.4L893.6 974.1H917.2Z"/>
<path d="M917.5 951.0L906.2 973.5H928.7Z"/>
<path d="M929.5 951.5L918.8 973.0H940.3Z"/>
<path d="M941.6 952.0L931.3 972.5H951.9Z"/>
<path d="M953.7 952.2L943.7 972.3H963.7Z"/>
<path d="M965.7 954.1L957.6 970.4H973.8Z"/>
<path d="M977.8 953.0L968.6 971.4H987.0Z"/>
<path d="M989.9 951.5L979.1 973.0H1000.6Z"/>
<path d="M1001.9 952.1L991.8 972.4H1012.0Z"/>
<path d="M1014.0 952.7L1004.4 971.8H1023.5Z"/>
<path d="M1026.1 953.6L1017.4 970.9H1034.7Z"/>
<path d="M1038.1 954.2L1030.1 970.3H1046.2Z"/>
<path d="M1050.2 952.8L1040.7 971.7H1059.6Z"/>
<path d="M1062.2 953.6L1053.6 970.9H1070.9Z"/>
<path d="M1074.3 952.8L1064.9 971.7H1083.7Z"/>
<path d="M1086.4 952.1L1076.3 972.4H1096.5Z"/>
<path d="M1098.4 951.3L1087.5 973.2H1109.4Z"/>
<path d="M1110.5 951.6L1099.8 972.9H1121.2Z"/>
<path d="M1122.6 950.2L1110.5 974.3H1134.6Z"/>
<path d="M1134.6 951.0L1123.4 973.5H1145.9Z"/>
<path d="M1146.7 952.7L1137.2 971.8H1156.2Z"/>
<path d="M1158.8 952.7L1149.2 971.8H1168.3Z"/>
<path d="M1170.8 951.8L1160.4 972.7H1181.3Z"/>
<path d="M1182.9 951.8L1172.4 972.7H1193.4Z"/>
<path d="M1195.0 951.8L1184.5 972.7H1205.4Z"/>
<path d="M1207.0 951.8L1196.6 972.7H1217.5Z"/>
<path d="M1219.1 951.8L1208.6 972.7H1229.6Z"/>
<path d="M1231.2 951.8L1220.7 972.7H1241.6Z"/>
<path d="M1243.2 950.7L1231.7 973.7H1254.7Z"/>
<path d="M1255.3 949.6L1242.6 974.9H1267.9Z"/>
<path d="M1267.3 951.2L1256.3 973.3H1278.4Z"/>
<path d="M1279.4 953.6L1270.8 970.9H1288.0Z"/>
<path d="M1291.5 952.1L1281.4 972.4H1301.6Z"/>
<path d="M157.4 1000.4L156.8 1001.6H158.0Z"/>
<path d="M302.2 999.2L300.4 1002.7H303.9Z"/>
<path d="M386.6 1000.2L385.9 1001.7H387.4Z"/>
<path d="M398.7 999.0L396.7 1003.0H400.7Z"/>
<path d="M567.6 999.5L566.1 1002.5H569.1Z"/>
<path d="M579.7 996.5L575.2 1005.5H584.2Z"/>
<path d="M591.7 997.0L587.7 1005.0H595.7Z"/>
<path d="M603.8 994.4L597.2 1007.5H610.3Z"/>
<path d="M615.8 994.8L609.7 1007.1H622.0Z"/>
<path d="M627.9 994.0L620.9 1008.0H634.9Z"/>
<path d="M640.0 994.2L633.2 1007.7H646.8Z"/>
<path d="M652.0 993.5L644.5 1008.5H659.6Z"/>
<path d="M664.1 993.8L656.9 1008.2H671.3Z"/>
<path d="M676.2 992.8L668.0 1009.1H684.3Z"/>
<path d="M688.2 992.5L679.7 1009.5H696.7Z"/>
<path d="M700.3 992.4L691.8 1009.5H708.8Z"/>
<path d="M712.4 992.4L703.8 1009.6H721.0Z"/>
<path d="M724.4 992.1L715.5 1009.9H733.4Z"/>
<path d="M736.5 991.9L727.5 1010.0H745.5Z"/>
<path d="M748.6 991.4L738.9 1010.6H758.2Z"/>
<path d="M760.6 990.9L750.6 1011.0H770.7Z"/>
<path d="M772.7 990.9L762.6 1011.0H782.7Z"/>
<path d="M784.8 990.2L774.0 1011.7H795.5Z"/>
<path d="M796.8 990.4L786.2 1011.6H807.4Z"/>
<path d="M808.9 990.9L798.8 1011.1H819.0Z"/>
<path d="M820.9 990.2L810.2 1011.7H831.7Z"/>
<path d="M833.0 990.2L822.3 1011.7H843.8Z"/>
<path d="M845.1 989.5L833.6 1012.5H856.6Z"/>
<path d="M857.1 989.5L845.6 1012.5H868.6Z"/>
<path d="M869.2 989.7L858.0 1012.2H880.4Z"/>
<path d="M881.3 989.7L870.0 1012.2H892.5Z"/>
<path d="M893.3 989.7L882.1 1012.2H904.6Z"/>
<path d="M905.4 989.9L894.3 1012.0H916.5Z"/>
<path d="M917.5 990.4L906.9 1011.5H928.0Z"/>
<path d="M929.5 990.9L919.5 1011.0H939.6Z"/>
<path d="M941.6 991.4L932.0 1010.6H951.2Z"/>
<path d="M953.7 991.6L944.3 1010.3H963.0Z"/>
<path d="M965.7 993.4L958.1 1008.6H973.3Z"/>
<path d="M977.8 992.4L969.2 1009.6H986.4Z"/>
<path d="M989.9 990.9L979.8 1011.0H999.9Z"/>
<path d="M1001.9 991.5L992.5 1010.4H1011.4Z"/>
<path d="M1014.0 992.1L1005.1 1009.9H1022.9Z"/>
<path d="M1026.1 992.9L1018.0 1009.0H1034.1Z"/>
<path d="M1038.1 993.5L1030.6 1008.5H1045.6Z"/>
<path d="M1050.2 992.2L1041.4 1009.8H1059.0Z"/>
<path d="M1062.2 992.9L1054.2 1009.0H1070.3Z"/>
<path d="M1074.3 992.2L1065.5 1009.8H1083.1Z"/>
<path d="M1086.4 991.5L1076.9 1010.4H1095.8Z"/>
<path d="M1098.4 990.8L1088.2 1011.2H1108.7Z"/>
<path d="M1110.5 991.0L1100.5 1011.0H1120.5Z"/>
<path d="M1122.6 989.7L1111.3 1012.3H1133.9Z"/>
<path d="M1134.6 990.4L1124.1 1011.5H1145.2Z"/>
<path d="M1146.7 992.1L1137.8 1009.9H1155.6Z"/>
<path d="M1158.8 992.1L1149.8 1009.9H1167.7Z"/>
<path d="M1170.8 991.2L1161.0 1010.8H1180.6Z"/>
<path d="M1182.9 991.2L1173.1 1010.8H1192.7Z"/>
<path d="M1195.0 991.2L1185.2 1010.8H1204.7Z"/>
<path d="M1207.0 991.2L1197.2 1010.8H1216.8Z"/>
<path d="M1219.1 991.2L1209.3 1010.8H1228.9Z"/>
<path d="M1231.2 991.2L1221.4 1010.8H1240.9Z"/>
<path d="M1243.2 990.2L1232.5 1011.7H1254.0Z"/>
<path d="M1255.3 989.2L1243.5 1012.8H1267.1Z"/>
<path d="M1267.3 990.7L1257.0 1011.3H1277.7Z"/>
<path d="M1279.4 992.9L1271.3 1009.0H1287.5Z"/>
<path d="M1291.5 991.5L1282.0 1010.4H1300.9Z"/>
<path d="M157.4 1039.2L156.9 1040.2H157.9Z"/>
<path d="M302.2 1037.7L300.2 1041.7H304.2Z"/>
<path d="M326.3 1038.5L325.0 1041.0H327.5Z"/>
<path d="M386.6 1038.5L385.4 1041.0H387.9Z"/>
<path d="M398.7 1037.7L396.7 1041.7H400.7Z"/>
<path d="M567.6 1037.5L565.3 1042.0H569.8Z"/>
<path d="M579.7 1034.7L574.7 1044.7H584.7Z"/>
<path d="M591.7 1035.2L587.2 1044.2H596.2Z"/>
<path d="M603.8 1032.7L596.8 1046.7H610.8Z"/>
<path d="M615.8 1033.2L609.3 1046.3H622.4Z"/>
<path d="M627.9 1032.2L620.4 1047.2H635.4Z"/>
<path d="M640.0 1032.5L632.7 1047.0H647.2Z"/>
<path d="M652.0 1031.7L644.0 1047.8H660.1Z"/>
<path d="M664.1 1032.0L656.4 1047.4H671.8Z"/>
<path d="M676.2 1031.0L667.4 1048.4H684.9Z"/>
<path d="M688.2 1030.6L679.2 1048.8H697.3Z"/>
<path d="M700.3 1030.6L691.2 1048.9H709.4Z"/>
<path d="M712.4 1030.5L703.2 1048.9H721.6Z"/>
<path d="M724.4 1030.2L714.9 1049.3H734.0Z"/>
<path d="M736.5 1030.0L726.8 1049.4H746.2Z"/>
<path d="M748.6 1029.4L738.3 1050.0H758.9Z"/>
<path d="M760.6 1029.0L749.9 1050.5H771.4Z"/>
<path d="M772.7 1029.0L761.9 1050.5H783.4Z"/>
<path d="M784.8 1028.2L773.3 1051.2H796.3Z"/>
<path d="M796.8 1028.4L785.5 1051.0H808.1Z"/>
<path d="M808.9 1028.9L798.1 1050.5H819.7Z"/>
<path d="M820.9 1028.2L809.4 1051.2H832.4Z"/>
<path d="M833.0 1028.2L821.5 1051.2H844.5Z"/>
<path d="M845.1 1027.4L832.8 1052.0H857.4Z"/>
<path d="M857.1 1027.4L844.8 1052.0H869.4Z"/>
<path d="M869.2 1027.7L857.2 1051.7H881.2Z"/>
<path d="M881.3 1027.7L869.3 1051.7H893.3Z"/>
<path d="M893.3 1027.7L881.3 1051.7H905.4Z"/>
<path d="M905.4 1027.9L893.6 1051.6H917.2Z"/>
<path d="M917.5 1028.4L906.2 1051.0H928.7Z"/>
<path d="M929.5 1029.0L918.8 1050.5H940.3Z"/>
<path d="M941.6 1029.4L931.3 1050.0H951.9Z"/>
<path d="M953.7 1029.7L943.7 1049.7H963.7Z"/>
<path d="M965.7 1031.6L957.6 1047.8H973.8Z"/>
<path d="M977.8 1030.5L968.6 1048.9H987.0Z"/>
<path d="M989.9 1029.0L979.1 1050.5H1000.6Z"/>
<path d="M1001.9 1029.6L991.8 1049.8H1012.0Z"/>
<path d="M1014.0 1030.2L1004.4 1049.3H1023.5Z"/>
<path d="M1026.1 1031.1L1017.4 1048.3H1034.7Z"/>
<path d="M1038.1 1031.7L1030.1 1047.8H1046.2Z"/>
<path d="M1050.2 1030.3L1040.7 1049.1H1059.6Z"/>
<path d="M1062.2 1031.1L1053.6 1048.3H1070.9Z"/>
<path d="M1074.3 1030.3L1064.9 1049.1H1083.7Z"/>
<path d="M1086.4 1029.6L1076.3 1049.8H1096.5Z"/>
<path d="M1098.4 1028.8L1087.5 1050.6H1109.4Z"/>
<path d="M1110.5 1029.0L1099.8 1050.4H1121.2Z"/>
<path d="M1122.6 1027.6L1110.5 1051.8H1134.6Z"/>
<path d="M1134.6 1028.4L1123.4 1051.0H1145.9Z"/>
<path d="M1146.7 1030.2L1137.2 1049.3H1156.2Z"/>
<path d="M1158.8 1030.2L1149.2 1049.3H1168.3Z"/>
<path d="M1170.8 1029.2L1160.4 1050.2H1181.3Z"/>
<path d="M1182.9 1029.2L1172.4 1050.2H1193.4Z"/>
<path d="M1195.0 1029.2L1184.5 1050.2H1205.4Z"/>
<path d="M1207.0 1029.2L1196.6 1050.2H1217.5Z"/>
<path d="M1219.1 1029.2L1208.6 1050.2H1229.6Z"/>
<path d="M1231.2 1029.2L1220.7 1050.2H1241.6Z"/>
<path d="M1243.2 1028.2L1231.7 1051.2H1254.7Z"/>
<path d="M1255.3 1027.1L1242.6 1052.4H1267.9Z"/>
<path d="M1267.3 1028.7L1256.3 1050.7H1278.4Z"/>
<path d="M1279.4 1031.1L1270.8 1048.3H1288.0Z"/>
<path d="M1291.5 1029.6L1281.4 1049.8H1301.6Z"/>
<path d="M157.4 1077.9L156.9 1078.9H157.9Z"/>
<path d="M302.2 1076.9L300.7 1079.9H303.7Z"/>
<path d="M386.6 1077.2L385.4 1079.7H387.9Z"/>
<path d="M398.7 1076.9L397.2 1079.9H400.2Z"/>
<path d="M567.6 1076.4L565.6 1080.4H569.6Z"/>
<path d="M579.7 1074.4L575.7 1082.4H583.7Z"/>
<path d="M591.7 1074.4L587.7 1082.4H595.7Z"/>
<path d="M603.8 1072.3L597.7 1084.5H609.9Z"/>
<path d="M615.8 1072.7L610.1 1084.1H621.5Z"/>
<path d="M627.9 1071.9L621.4 1084.9H634.4Z"/>
<path d="M640.0 1072.1L633.7 1084.7H646.3Z"/>
<path d="M652.0 1071.4L645.0 1085.4H659.0Z"/>
<path d="M664.1 1071.7L657.4 1085.1H670.8Z"/>
<path d="M676.2 1070.8L668.6 1086.0H683.8Z"/>
<path d="M688.2 1070.5L680.3 1086.3H696.1Z"/>
<path d="M700.3 1070.5L692.4 1086.4H708.3Z"/>
<path d="M712.4 1070.4L704.4 1086.4H720.4Z"/>
<path d="M724.4 1070.1L716.1 1086.7H732.7Z"/>
<path d="M736.5 1070.0L728.1 1086.8H744.9Z"/>
<path d="M748.6 1069.5L739.6 1087.4H757.5Z"/>
<path d="M760.6 1069.1L751.3 1087.8H770.0Z"/>
<path d="M772.7 1069.1L763.3 1087.8H782.0Z"/>
<path d="M784.8 1068.4L774.8 1088.4H794.8Z"/>
<path d="M796.8 1068.6L787.0 1088.3H806.7Z"/>
<path d="M808.9 1069.0L799.5 1087.8H818.3Z"/>
<path d="M820.9 1068.4L810.9 1088.4H830.9Z"/>
<path d="M833.0 1068.4L823.0 1088.4H843.0Z"/>
<path d="M845.1 1067.7L834.4 1089.1H855.8Z"/>
<path d="M857.1 1067.7L846.4 1089.1H867.8Z"/>
<path d="M869.2 1068.0L858.8 1088.9H879.7Z"/>
<path d="M881.3 1068.0L870.8 1088.9H891.7Z"/>
<path d="M893.3 1068.0L882.9 1088.9H903.8Z"/>
<path d="M905.4 1068.1L895.1 1088.7H915.7Z"/>
<path d="M917.5 1068.6L907.7 1088.2H927.3Z"/>
<path d="M929.5 1069.1L920.2 1087.8H938.9Z"/>
<path d="M941.6 1069.5L932.6 1087.4H950.5Z"/>
<path d="M953.7 1069.7L945.0 1087.1H962.4Z"/>
<path d="M965.7 1071.4L958.7 1085.5H972.8Z"/>
<path d="M977.8 1070.4L969.8 1086.4H985.8Z"/>
<path d="M989.9 1069.1L980.5 1087.8H999.2Z"/>
<path d="M1001.9 1069.6L993.1 1087.2H1010.7Z"/>
<path d="M1014.0 1070.1L1005.7 1086.7H1022.3Z"/>
<path d="M1026.1 1070.9L1018.6 1085.9H1033.6Z"/>
<path d="M1038.1 1071.4L1031.1 1085.4H1045.1Z"/>
<path d="M1050.2 1070.2L1042.0 1086.6H1058.4Z"/>
<path d="M1062.2 1070.9L1054.7 1085.9H1069.7Z"/>
<path d="M1074.3 1070.2L1066.1 1086.6H1082.5Z"/>
<path d="M1086.4 1069.6L1077.6 1087.2H1095.2Z"/>
<path d="M1098.4 1068.9L1088.9 1087.9H1107.9Z"/>
<path d="M1110.5 1069.1L1101.2 1087.7H1119.8Z"/>
<path d="M1122.6 1067.9L1112.1 1088.9H1133.1Z"/>
<path d="M1134.6 1068.6L1124.8 1088.2H1144.4Z"/>
<path d="M1146.7 1070.1L1138.4 1086.7H1155.0Z"/>
<path d="M1158.8 1070.1L1150.5 1086.7H1167.1Z"/>
<path d="M1170.8 1069.3L1161.7 1087.5H1179.9Z"/>
<path d="M1182.9 1069.3L1173.8 1087.5H1192.0Z"/>
<path d="M1195.0 1069.3L1185.9 1087.5H1204.1Z"/>
<path d="M1207.0 1069.3L1197.9 1087.5H1216.1Z"/>
<path d="M1219.1 1069.3L1210.0 1087.5H1228.2Z"/>
<path d="M1231.2 1069.3L1222.1 1087.5H1240.3Z"/>
<path d="M1243.2 1068.4L1233.2 1088.4H1253.2Z"/>
<path d="M1255.3 1067.4L1244.3 1089.4H1266.3Z"/>
<path d="M1267.3 1068.8L1257.7 1088.0H1276.9Z"/>
<path d="M1279.4 1070.9L1271.9 1085.9H1286.9Z"/>
<path d="M1291.5 1069.6L1282.7 1087.2H1300.3Z"/>
<path d="M157.4 1115.2L155.4 1119.2H159.4Z"/>
<path d="M302.2 1115.2L300.2 1119.2H304.2Z"/>
<path d="M374.6 1116.4L373.8 1117.9H375.3Z"/>
<path d="M386.6 1114.9L384.4 1119.4H388.9Z"/>
<path d="M398.7 1114.7L396.2 1119.7H401.2Z"/>
<path d="M567.6 1113.9L564.3 1120.4H570.8Z"/>
<path d="M579.7 1111.4L573.9 1122.9H585.4Z"/>
<path d="M591.7 1111.4L586.0 1122.9H597.5Z"/>
<path d="M603.8 1108.9L595.5 1125.4H612.0Z"/>
<path d="M615.8 1109.5L608.2 1124.9H623.5Z"/>
<path d="M627.9 1108.4L619.1 1125.9H636.7Z"/>
<path d="M640.0 1108.7L631.5 1125.7H648.5Z"/>
<path d="M652.0 1107.7L642.6 1126.6H661.5Z"/>
<path d="M664.1 1108.1L655.1 1126.2H673.2Z"/>
<path d="M676.2 1106.9L665.9 1127.4H686.4Z"/>
<path d="M688.2 1106.5L677.6 1127.8H698.9Z"/>
<path d="M700.3 1106.4L689.6 1127.9H711.0Z"/>
<path d="M712.4 1106.4L701.6 1128.0H723.2Z"/>
<path d="M724.4 1106.0L713.2 1128.4H735.6Z"/>
<path d="M736.5 1105.8L725.2 1128.5H747.8Z"/>
<path d="M748.6 1105.1L736.5 1129.3H760.6Z"/>
<path d="M760.6 1104.5L748.0 1129.8H773.2Z"/>
<path d="M772.7 1104.5L760.1 1129.8H785.3Z"/>
<path d="M784.8 1103.7L771.3 1130.7H798.3Z"/>
<path d="M796.8 1103.9L783.5 1130.5H810.1Z"/>
<path d="M808.9 1104.5L796.2 1129.9H821.6Z"/>
<path d="M820.9 1103.7L807.4 1130.7H834.4Z"/>
<path d="M833.0 1103.7L819.5 1130.7H846.5Z"/>
<path d="M845.1 1102.7L830.6 1131.6H859.5Z"/>
<path d="M857.1 1102.7L842.7 1131.6H871.6Z"/>
<path d="M869.2 1103.1L855.1 1131.3H883.3Z"/>
<path d="M881.3 1103.1L867.2 1131.3H895.4Z"/>
<path d="M893.3 1103.1L879.2 1131.3H907.4Z"/>
<path d="M905.4 1103.3L891.5 1131.1H919.3Z"/>
<path d="M917.5 1103.9L904.2 1130.4H930.7Z"/>
<path d="M929.5 1104.5L916.9 1129.8H942.2Z"/>
<path d="M941.6 1105.1L929.5 1129.3H953.7Z"/>
<path d="M953.7 1105.4L941.9 1128.9H965.4Z"/>
<path d="M965.7 1107.7L956.2 1126.7H975.2Z"/>
<path d="M977.8 1106.4L967.0 1128.0H988.6Z"/>
<path d="M989.9 1104.5L977.2 1129.8H1002.5Z"/>
<path d="M1001.9 1105.3L990.0 1129.0H1013.8Z"/>
<path d="M1014.0 1106.0L1002.8 1128.4H1025.2Z"/>
<path d="M1026.1 1107.0L1015.9 1127.3H1036.2Z"/>
<path d="M1038.1 1107.7L1028.7 1126.6H1047.6Z"/>
<path d="M1050.2 1106.1L1039.1 1128.2H1061.2Z"/>
<path d="M1062.2 1107.0L1052.1 1127.3H1072.4Z"/>
<path d="M1074.3 1106.1L1063.2 1128.2H1085.4Z"/>
<path d="M1086.4 1105.3L1074.5 1129.0H1098.3Z"/>
<path d="M1098.4 1104.3L1085.6 1130.0H1111.3Z"/>
<path d="M1110.5 1104.6L1097.9 1129.7H1123.1Z"/>
<path d="M1122.6 1103.0L1108.4 1131.3H1136.7Z"/>
<path d="M1134.6 1103.9L1121.4 1130.4H1147.9Z"/>
<path d="M1146.7 1106.0L1135.5 1128.4H1157.9Z"/>
<path d="M1158.8 1106.0L1147.6 1128.4H1170.0Z"/>
<path d="M1170.8 1104.9L1158.5 1129.5H1183.1Z"/>
<path d="M1182.9 1104.9L1170.6 1129.5H1195.2Z"/>
<path d="M1195.0 1104.9L1182.7 1129.5H1207.2Z"/>
<path d="M1207.0 1104.9L1194.7 1129.5H1219.3Z"/>
<path d="M1219.1 1104.9L1206.8 1129.5H1231.4Z"/>
<path d="M1231.2 1104.9L1218.9 1129.5H1243.4Z"/>
<path d="M1243.2 1103.7L1229.7 1130.7H1256.7Z"/>
<path d="M1255.3 1102.3L1240.4 1132.0H1270.1Z"/>
<path d="M1267.3 1103.9L1254.1 1130.4H1280.6Z"/>
<path d="M1279.4 1105.7L1267.9 1128.7H1290.9Z"/>
<path d="M1291.5 1103.4L1277.7 1130.9H1305.2Z"/>
</g>
<path d="M143.50 1156.0V652.5M203.50 1156.0V652.5M263.50 1156.0V652.5M324.50 1156.0V652.5M384.50 1156.0V652.5M444.50 1156.0V652.5M505.50 1156.0V652.5M565.50 1156.0V652.5M625.50 1156.0V652.5M686.50 1156.0V652.5M746.50 1156.0V652.5M806.50 1156.0V652.5M867.50 1156.0V652.5M927.50 1156.0V652.5M987.50 1156.0V652.5M1048.50 1156.0V652.5M1108.50 1156.0V652.5M1168.50 1156.0V652.5M1229.50 1156.0V652.5M1289.50 1156.0V652.5M1349.50 1156.0V652.5M1410.50 1156.0V652.5M1470.50 1156.0V652.5M1530.50 1156.0V652.5M1591.50 1156.0V652.5M1651.50 1156.0V652.5M1711.50 1156.0V652.5M1772.50 1156.0V652.5M1832.50 1156.0V652.5M1892.50 1156.0V652.5M1953.50 1156.0V652.5M2013.50 1156.0V652.5M2073.50 1156.0V652.5M2134.50 1156.0V652.5M2194.50 1156.0V652.5M2254.50 1156.0V652.5M2314.50 1156.0V652.5M2375.50 1156.0V652.5M2435.50 1156.0V652.5" stroke="#b0b0b0" stroke-opacity=".68" stroke-width="1.25" stroke-dasharray="4.7 2.05" fill="none"/>
<path d="M82.5 1117.50H2495.45M82.5 1078.50H2495.45M82.5 1040.50H2495.45M82.5 1001.50H2495.45M82.5 962.50H2495.45M82.5 924.50H2495.45M82.5 885.50H2495.45M82.5 846.50H2495.45M82.5 807.50H2495.45M82.5 769.50H2495.45M82.5 730.50H2495.45M82.5 691.50H2495.45" stroke="#b0b0b0" stroke-opacity=".5" stroke-width="1.25" stroke-dasharray="1.27 2.1" fill="none"/>
<polyline points="398.7,607.0 410.7,686.3 422.8,765.0 434.9,831.0 446.9,859.6 459.0,969.3 471.1,949.6 483.1,951.5 495.2,965.0 507.3,944.8 519.3,952.4 531.4,996.0 543.5,969.3 555.5,920.0 567.6,878.0 579.7,842.7 591.7,843.4 603.8,798.9 615.8,821.6 627.9,798.9 640.0,820.8 652.0,798.1 664.1,797.8 676.2,765.3 688.2,777.8 700.3,768.4 712.4,765.6 724.4,752.8 736.5,762.2 748.6,750.5 760.6,746.6 772.7,733.3 784.8,689.5 796.8,711.4 808.9,731.7 820.9,722.3 833.0,718.4 845.1,683.0 857.1,696.9 869.2,694.2 881.3,716.1 893.3,718.4 905.4,733.9 917.5,790.6 929.5,801.0 941.6,801.8 953.7,833.0 965.7,870.5 977.8,856.8 989.9,815.5 1001.9,845.6 1014.0,868.0 1026.1,891.0 1038.1,906.4 1050.2,900.5 1062.2,894.5 1074.3,889.0 1086.4,872.0 1098.4,856.8 1110.5,860.2 1122.6,844.8 1134.6,859.4 1146.7,912.5 1158.8,902.0 1170.8,891.5 1182.9,895.0 1195.0,905.5 1207.0,888.8 1219.1,891.5 1231.2,897.5 1243.2,880.5 1255.3,846.8 1267.3,879.0 1279.4,931.7 1291.5,918.6" fill="none" stroke="#00f" stroke-width="2.5" stroke-dasharray="9.25 4" stroke-linejoin="round"/>
<circle cx="845.3" cy="682.8" r="10.7" fill="#008000" stroke="#000" stroke-width="1.0"/>
<circle cx="1038.1" cy="906.4" r="10.75" fill="#f00" stroke="#000" stroke-width="1.0"/>
<circle cx="1147.0" cy="912.5" r="10.75" fill="#f00" stroke="#000" stroke-width="1.0"/>
<circle cx="1279.4" cy="931.7" r="10.75" fill="#f00" stroke="#000" stroke-width="1.0"/>
<path d="M1279.50 921.00L1281.95 928.53L1289.87 928.53L1283.46 933.19L1285.91 940.72L1279.50 936.06L1273.09 940.72L1275.54 933.19L1269.13 928.53L1277.05 928.53Z" fill="#00f" stroke="#000" stroke-width=".8" stroke-linejoin="miter"/>
</g>
<rect x="82.5" y="652.5" width="2412.95" height="503.50" fill="none" stroke="#1c1c1c" stroke-width="1.15"/>
<path d="M82.50 1156.0v4.6M143.50 1156.0v4.6M203.50 1156.0v4.6M263.50 1156.0v4.6M324.50 1156.0v4.6M384.50 1156.0v4.6M444.50 1156.0v4.6M505.50 1156.0v4.6M565.50 1156.0v4.6M625.50 1156.0v4.6M686.50 1156.0v4.6M746.50 1156.0v4.6M806.50 1156.0v4.6M867.50 1156.0v4.6M927.50 1156.0v4.6M987.50 1156.0v4.6M1048.50 1156.0v4.6M1108.50 1156.0v4.6M1168.50 1156.0v4.6M1229.50 1156.0v4.6M1289.50 1156.0v4.6M1349.50 1156.0v4.6M1410.50 1156.0v4.6M1470.50 1156.0v4.6M1530.50 1156.0v4.6M1591.50 1156.0v4.6M1651.50 1156.0v4.6M1711.50 1156.0v4.6M1772.50 1156.0v4.6M1832.50 1156.0v4.6M1892.50 1156.0v4.6M1953.50 1156.0v4.6M2013.50 1156.0v4.6M2073.50 1156.0v4.6M2134.50 1156.0v4.6M2194.50 1156.0v4.6M2254.50 1156.0v4.6M2314.50 1156.0v4.6M2375.50 1156.0v4.6M2435.50 1156.0v4.6M2495.45 1156.0v4.6M95.50 1156.0v2.9M107.50 1156.0v2.9M119.50 1156.0v2.9M131.50 1156.0v2.9M155.50 1156.0v2.9M167.50 1156.0v2.9M179.50 1156.0v2.9M191.50 1156.0v2.9M215.50 1156.0v2.9M227.50 1156.0v2.9M239.50 1156.0v2.9M251.50 1156.0v2.9M276.50 1156.0v2.9M288.50 1156.0v2.9M300.50 1156.0v2.9M312.50 1156.0v2.9M336.50 1156.0v2.9M348.50 1156.0v2.9M360.50 1156.0v2.9M372.50 1156.0v2.9M396.50 1156.0v2.9M408.50 1156.0v2.9M420.50 1156.0v2.9M432.50 1156.0v2.9M457.50 1156.0v2.9M469.50 1156.0v2.9M481.50 1156.0v2.9M493.50 1156.0v2.9M517.50 1156.0v2.9M529.50 1156.0v2.9M541.50 1156.0v2.9M553.50 1156.0v2.9M577.50 1156.0v2.9M589.50 1156.0v2.9M601.50 1156.0v2.9M613.50 1156.0v2.9M637.50 1156.0v2.9M650.50 1156.0v2.9M662.50 1156.0v2.9M674.50 1156.0v2.9M698.50 1156.0v2.9M710.50 1156.0v2.9M722.50 1156.0v2.9M734.50 1156.0v2.9M758.50 1156.0v2.9M770.50 1156.0v2.9M782.50 1156.0v2.9M794.50 1156.0v2.9M818.50 1156.0v2.9M831.50 1156.0v2.9M843.50 1156.0v2.9M855.50 1156.0v2.9M879.50 1156.0v2.9M891.50 1156.0v2.9M903.50 1156.0v2.9M915.50 1156.0v2.9M939.50 1156.0v2.9M951.50 1156.0v2.9M963.50 1156.0v2.9M975.50 1156.0v2.9M999.50 1156.0v2.9M1011.50 1156.0v2.9M1024.50 1156.0v2.9M1036.50 1156.0v2.9M1060.50 1156.0v2.9M1072.50 1156.0v2.9M1084.50 1156.0v2.9M1096.50 1156.0v2.9M1120.50 1156.0v2.9M1132.50 1156.0v2.9M1144.50 1156.0v2.9M1156.50 1156.0v2.9M1180.50 1156.0v2.9M1192.50 1156.0v2.9M1205.50 1156.0v2.9M1217.50 1156.0v2.9M1241.50 1156.0v2.9M1253.50 1156.0v2.9M1265.50 1156.0v2.9M1277.50 1156.0v2.9M1301.50 1156.0v2.9M1313.50 1156.0v2.9M1325.50 1156.0v2.9M1337.50 1156.0v2.9M1361.50 1156.0v2.9M1373.50 1156.0v2.9M1385.50 1156.0v2.9M1398.50 1156.0v2.9M1422.50 1156.0v2.9M1434.50 1156.0v2.9M1446.50 1156.0v2.9M1458.50 1156.0v2.9M1482.50 1156.0v2.9M1494.50 1156.0v2.9M1506.50 1156.0v2.9M1518.50 1156.0v2.9M1542.50 1156.0v2.9M1554.50 1156.0v2.9M1566.50 1156.0v2.9M1579.50 1156.0v2.9M1603.50 1156.0v2.9M1615.50 1156.0v2.9M1627.50 1156.0v2.9M1639.50 1156.0v2.9M1663.50 1156.0v2.9M1675.50 1156.0v2.9M1687.50 1156.0v2.9M1699.50 1156.0v2.9M1723.50 1156.0v2.9M1735.50 1156.0v2.9M1747.50 1156.0v2.9M1760.50 1156.0v2.9M1784.50 1156.0v2.9M1796.50 1156.0v2.9M1808.50 1156.0v2.9M1820.50 1156.0v2.9M1844.50 1156.0v2.9M1856.50 1156.0v2.9M1868.50 1156.0v2.9M1880.50 1156.0v2.9M1904.50 1156.0v2.9M1916.50 1156.0v2.9M1928.50 1156.0v2.9M1940.50 1156.0v2.9M1965.50 1156.0v2.9M1977.50 1156.0v2.9M1989.50 1156.0v2.9M2001.50 1156.0v2.9M2025.50 1156.0v2.9M2037.50 1156.0v2.9M2049.50 1156.0v2.9M2061.50 1156.0v2.9M2085.50 1156.0v2.9M2097.50 1156.0v2.9M2109.50 1156.0v2.9M2121.50 1156.0v2.9M2146.50 1156.0v2.9M2158.50 1156.0v2.9M2170.50 1156.0v2.9M2182.50 1156.0v2.9M2206.50 1156.0v2.9M2218.50 1156.0v2.9M2230.50 1156.0v2.9M2242.50 1156.0v2.9M2266.50 1156.0v2.9M2278.50 1156.0v2.9M2290.50 1156.0v2.9M2302.50 1156.0v2.9M2327.50 1156.0v2.9M2339.50 1156.0v2.9M2351.50 1156.0v2.9M2363.50 1156.0v2.9M2387.50 1156.0v2.9M2399.50 1156.0v2.9M2411.50 1156.0v2.9M2423.50 1156.0v2.9M2447.50 1156.0v2.9M2459.50 1156.0v2.9M2471.50 1156.0v2.9M2483.50 1156.0v2.9M82.5 1156.00h-4.7M82.5 1117.50h-4.7M82.5 1078.50h-4.7M82.5 1040.50h-4.7M82.5 1001.50h-4.7M82.5 962.50h-4.7M82.5 924.50h-4.7M82.5 885.50h-4.7M82.5 846.50h-4.7M82.5 807.50h-4.7M82.5 769.50h-4.7M82.5 730.50h-4.7M82.5 691.50h-4.7M82.5 652.50h-4.7" stroke="#1c1c1c" stroke-width="1.15" fill="none"/>
<text x="73.60" y="1161.90" font-size="16.6" font-weight="bold" text-anchor="end" textLength="41.2" lengthAdjust="spacingAndGlyphs" >6845</text>
<text x="2504.50" y="1161.90" font-size="16.6" font-weight="bold" text-anchor="start" textLength="41.2" lengthAdjust="spacingAndGlyphs" >6845</text>
<text x="73.60" y="1123.17" font-size="16.6" font-weight="bold" text-anchor="end" textLength="41.2" lengthAdjust="spacingAndGlyphs" >6850</text>
<text x="2504.50" y="1123.17" font-size="16.6" font-weight="bold" text-anchor="start" textLength="41.2" lengthAdjust="spacingAndGlyphs" >6850</text>
<text x="73.60" y="1084.44" font-size="16.6" font-weight="bold" text-anchor="end" textLength="41.2" lengthAdjust="spacingAndGlyphs" >6855</text>
<text x="2504.50" y="1084.44" font-size="16.6" font-weight="bold" text-anchor="start" textLength="41.2" lengthAdjust="spacingAndGlyphs" >6855</text>
<text x="73.60" y="1045.71" font-size="16.6" font-weight="bold" text-anchor="end" textLength="41.2" lengthAdjust="spacingAndGlyphs" >6860</text>
<text x="2504.50" y="1045.71" font-size="16.6" font-weight="bold" text-anchor="start" textLength="41.2" lengthAdjust="spacingAndGlyphs" >6860</text>
<text x="73.60" y="1006.98" font-size="16.6" font-weight="bold" text-anchor="end" textLength="41.2" lengthAdjust="spacingAndGlyphs" >6865</text>
<text x="2504.50" y="1006.98" font-size="16.6" font-weight="bold" text-anchor="start" textLength="41.2" lengthAdjust="spacingAndGlyphs" >6865</text>
<text x="73.60" y="968.25" font-size="16.6" font-weight="bold" text-anchor="end" textLength="41.2" lengthAdjust="spacingAndGlyphs" >6870</text>
<text x="2504.50" y="968.25" font-size="16.6" font-weight="bold" text-anchor="start" textLength="41.2" lengthAdjust="spacingAndGlyphs" >6870</text>
<text x="73.60" y="929.52" font-size="16.6" font-weight="bold" text-anchor="end" textLength="41.2" lengthAdjust="spacingAndGlyphs" >6875</text>
<text x="2504.50" y="929.52" font-size="16.6" font-weight="bold" text-anchor="start" textLength="41.2" lengthAdjust="spacingAndGlyphs" >6875</text>
<text x="73.60" y="890.78" font-size="16.6" font-weight="bold" text-anchor="end" textLength="41.2" lengthAdjust="spacingAndGlyphs" >6880</text>
<text x="2504.50" y="890.78" font-size="16.6" font-weight="bold" text-anchor="start" textLength="41.2" lengthAdjust="spacingAndGlyphs" >6880</text>
<text x="73.60" y="852.05" font-size="16.6" font-weight="bold" text-anchor="end" textLength="41.2" lengthAdjust="spacingAndGlyphs" >6885</text>
<text x="2504.50" y="852.05" font-size="16.6" font-weight="bold" text-anchor="start" textLength="41.2" lengthAdjust="spacingAndGlyphs" >6885</text>
<text x="73.60" y="813.32" font-size="16.6" font-weight="bold" text-anchor="end" textLength="41.2" lengthAdjust="spacingAndGlyphs" >6890</text>
<text x="2504.50" y="813.32" font-size="16.6" font-weight="bold" text-anchor="start" textLength="41.2" lengthAdjust="spacingAndGlyphs" >6890</text>
<text x="73.60" y="774.59" font-size="16.6" font-weight="bold" text-anchor="end" textLength="41.2" lengthAdjust="spacingAndGlyphs" >6895</text>
<text x="2504.50" y="774.59" font-size="16.6" font-weight="bold" text-anchor="start" textLength="41.2" lengthAdjust="spacingAndGlyphs" >6895</text>
<text x="73.60" y="735.86" font-size="16.6" font-weight="bold" text-anchor="end" textLength="41.2" lengthAdjust="spacingAndGlyphs" >6900</text>
<text x="2504.50" y="735.86" font-size="16.6" font-weight="bold" text-anchor="start" textLength="41.2" lengthAdjust="spacingAndGlyphs" >6900</text>
<text x="73.60" y="697.13" font-size="16.6" font-weight="bold" text-anchor="end" textLength="41.2" lengthAdjust="spacingAndGlyphs" >6905</text>
<text x="2504.50" y="697.13" font-size="16.6" font-weight="bold" text-anchor="start" textLength="41.2" lengthAdjust="spacingAndGlyphs" >6905</text>
<text x="73.60" y="658.40" font-size="16.6" font-weight="bold" text-anchor="end" textLength="41.2" lengthAdjust="spacingAndGlyphs" >6910</text>
<text x="2504.50" y="658.40" font-size="16.6" font-weight="bold" text-anchor="start" textLength="41.2" lengthAdjust="spacingAndGlyphs" >6910</text>
<text x="83.60" y="643.60" font-size="20.3" font-weight="bold" text-anchor="start" textLength="37.8" lengthAdjust="spacingAndGlyphs" >Put</text>
<text transform="translate(22.5 904.2) rotate(-90)" font-size="12.5" font-weight="bold" text-anchor="middle" textLength="83" lengthAdjust="spacingAndGlyphs">Strike Price</text>
<text transform="translate(81.10 1190.30) rotate(-60)" x="0" y="5.9" font-size="17.0" font-weight="bold" text-anchor="middle" textLength="47.5" lengthAdjust="spacingAndGlyphs">09:20</text>
<text transform="translate(141.42 1190.30) rotate(-60)" x="0" y="5.9" font-size="17.0" font-weight="bold" text-anchor="middle" textLength="47.5" lengthAdjust="spacingAndGlyphs">09:30</text>
<text transform="translate(201.75 1190.30) rotate(-60)" x="0" y="5.9" font-size="17.0" font-weight="bold" text-anchor="middle" textLength="47.5" lengthAdjust="spacingAndGlyphs">09:40</text>
<text transform="translate(262.07 1190.30) rotate(-60)" x="0" y="5.9" font-size="17.0" font-weight="bold" text-anchor="middle" textLength="47.5" lengthAdjust="spacingAndGlyphs">09:50</text>
<text transform="translate(322.39 1190.30) rotate(-60)" x="0" y="5.9" font-size="17.0" font-weight="bold" text-anchor="middle" textLength="47.5" lengthAdjust="spacingAndGlyphs">10:00</text>
<text transform="translate(382.72 1190.30) rotate(-60)" x="0" y="5.9" font-size="17.0" font-weight="bold" text-anchor="middle" textLength="47.5" lengthAdjust="spacingAndGlyphs">10:10</text>
<text transform="translate(443.04 1190.30) rotate(-60)" x="0" y="5.9" font-size="17.0" font-weight="bold" text-anchor="middle" textLength="47.5" lengthAdjust="spacingAndGlyphs">10:20</text>
<text transform="translate(503.37 1190.30) rotate(-60)" x="0" y="5.9" font-size="17.0" font-weight="bold" text-anchor="middle" textLength="47.5" lengthAdjust="spacingAndGlyphs">10:30</text>
<text transform="translate(563.69 1190.30) rotate(-60)" x="0" y="5.9" font-size="17.0" font-weight="bold" text-anchor="middle" textLength="47.5" lengthAdjust="spacingAndGlyphs">10:40</text>
<text transform="translate(624.01 1190.30) rotate(-60)" x="0" y="5.9" font-size="17.0" font-weight="bold" text-anchor="middle" textLength="47.5" lengthAdjust="spacingAndGlyphs">10:50</text>
<text transform="translate(684.34 1190.30) rotate(-60)" x="0" y="5.9" font-size="17.0" font-weight="bold" text-anchor="middle" textLength="47.5" lengthAdjust="spacingAndGlyphs">11:00</text>
<text transform="translate(744.66 1190.30) rotate(-60)" x="0" y="5.9" font-size="17.0" font-weight="bold" text-anchor="middle" textLength="47.5" lengthAdjust="spacingAndGlyphs">11:10</text>
<text transform="translate(804.98 1190.30) rotate(-60)" x="0" y="5.9" font-size="17.0" font-weight="bold" text-anchor="middle" textLength="47.5" lengthAdjust="spacingAndGlyphs">11:20</text>
<text transform="translate(865.31 1190.30) rotate(-60)" x="0" y="5.9" font-size="17.0" font-weight="bold" text-anchor="middle" textLength="47.5" lengthAdjust="spacingAndGlyphs">11:30</text>
<text transform="translate(925.63 1190.30) rotate(-60)" x="0" y="5.9" font-size="17.0" font-weight="bold" text-anchor="middle" textLength="47.5" lengthAdjust="spacingAndGlyphs">11:40</text>
<text transform="translate(985.96 1190.30) rotate(-60)" x="0" y="5.9" font-size="17.0" font-weight="bold" text-anchor="middle" textLength="47.5" lengthAdjust="spacingAndGlyphs">11:50</text>
<text transform="translate(1046.28 1190.30) rotate(-60)" x="0" y="5.9" font-size="17.0" font-weight="bold" text-anchor="middle" textLength="47.5" lengthAdjust="spacingAndGlyphs">12:00</text>
<text transform="translate(1106.60 1190.30) rotate(-60)" x="0" y="5.9" font-size="17.0" font-weight="bold" text-anchor="middle" textLength="47.5" lengthAdjust="spacingAndGlyphs">12:10</text>
<text transform="translate(1166.93 1190.30) rotate(-60)" x="0" y="5.9" font-size="17.0" font-weight="bold" text-anchor="middle" textLength="47.5" lengthAdjust="spacingAndGlyphs">12:20</text>
<text transform="translate(1227.25 1190.30) rotate(-60)" x="0" y="5.9" font-size="17.0" font-weight="bold" text-anchor="middle" textLength="47.5" lengthAdjust="spacingAndGlyphs">12:30</text>
<text transform="translate(1287.57 1190.30) rotate(-60)" x="0" y="5.9" font-size="17.0" font-weight="bold" text-anchor="middle" textLength="47.5" lengthAdjust="spacingAndGlyphs">12:40</text>
<text transform="translate(1347.90 1190.30) rotate(-60)" x="0" y="5.9" font-size="17.0" font-weight="bold" text-anchor="middle" textLength="47.5" lengthAdjust="spacingAndGlyphs">12:50</text>
<text transform="translate(1408.22 1190.30) rotate(-60)" x="0" y="5.9" font-size="17.0" font-weight="bold" text-anchor="middle" textLength="47.5" lengthAdjust="spacingAndGlyphs">13:00</text>
<text transform="translate(1468.55 1190.30) rotate(-60)" x="0" y="5.9" font-size="17.0" font-weight="bold" text-anchor="middle" textLength="47.5" lengthAdjust="spacingAndGlyphs">13:10</text>
<text transform="translate(1528.87 1190.30) rotate(-60)" x="0" y="5.9" font-size="17.0" font-weight="bold" text-anchor="middle" textLength="47.5" lengthAdjust="spacingAndGlyphs">13:20</text>
<text transform="translate(1589.19 1190.30) rotate(-60)" x="0" y="5.9" font-size="17.0" font-weight="bold" text-anchor="middle" textLength="47.5" lengthAdjust="spacingAndGlyphs">13:30</text>
<text transform="translate(1649.52 1190.30) rotate(-60)" x="0" y="5.9" font-size="17.0" font-weight="bold" text-anchor="middle" textLength="47.5" lengthAdjust="spacingAndGlyphs">13:40</text>
<text transform="translate(1709.84 1190.30) rotate(-60)" x="0" y="5.9" font-size="17.0" font-weight="bold" text-anchor="middle" textLength="47.5" lengthAdjust="spacingAndGlyphs">13:50</text>
<text transform="translate(1770.16 1190.30) rotate(-60)" x="0" y="5.9" font-size="17.0" font-weight="bold" text-anchor="middle" textLength="47.5" lengthAdjust="spacingAndGlyphs">14:00</text>
<text transform="translate(1830.49 1190.30) rotate(-60)" x="0" y="5.9" font-size="17.0" font-weight="bold" text-anchor="middle" textLength="47.5" lengthAdjust="spacingAndGlyphs">14:10</text>
<text transform="translate(1890.81 1190.30) rotate(-60)" x="0" y="5.9" font-size="17.0" font-weight="bold" text-anchor="middle" textLength="47.5" lengthAdjust="spacingAndGlyphs">14:20</text>
<text transform="translate(1951.14 1190.30) rotate(-60)" x="0" y="5.9" font-size="17.0" font-weight="bold" text-anchor="middle" textLength="47.5" lengthAdjust="spacingAndGlyphs">14:30</text>
<text transform="translate(2011.46 1190.30) rotate(-60)" x="0" y="5.9" font-size="17.0" font-weight="bold" text-anchor="middle" textLength="47.5" lengthAdjust="spacingAndGlyphs">14:40</text>
<text transform="translate(2071.78 1190.30) rotate(-60)" x="0" y="5.9" font-size="17.0" font-weight="bold" text-anchor="middle" textLength="47.5" lengthAdjust="spacingAndGlyphs">14:50</text>
<text transform="translate(2132.11 1190.30) rotate(-60)" x="0" y="5.9" font-size="17.0" font-weight="bold" text-anchor="middle" textLength="47.5" lengthAdjust="spacingAndGlyphs">15:00</text>
<text transform="translate(2192.43 1190.30) rotate(-60)" x="0" y="5.9" font-size="17.0" font-weight="bold" text-anchor="middle" textLength="47.5" lengthAdjust="spacingAndGlyphs">15:10</text>
<text transform="translate(2252.75 1190.30) rotate(-60)" x="0" y="5.9" font-size="17.0" font-weight="bold" text-anchor="middle" textLength="47.5" lengthAdjust="spacingAndGlyphs">15:20</text>
<text transform="translate(2313.08 1190.30) rotate(-60)" x="0" y="5.9" font-size="17.0" font-weight="bold" text-anchor="middle" textLength="47.5" lengthAdjust="spacingAndGlyphs">15:30</text>
<text transform="translate(2373.40 1190.30) rotate(-60)" x="0" y="5.9" font-size="17.0" font-weight="bold" text-anchor="middle" textLength="47.5" lengthAdjust="spacingAndGlyphs">15:40</text>
<text transform="translate(2433.73 1190.30) rotate(-60)" x="0" y="5.9" font-size="17.0" font-weight="bold" text-anchor="middle" textLength="47.5" lengthAdjust="spacingAndGlyphs">15:50</text>
<text transform="translate(2494.05 1190.30) rotate(-60)" x="0" y="5.9" font-size="17.0" font-weight="bold" text-anchor="middle" textLength="47.5" lengthAdjust="spacingAndGlyphs">16:00</text>
<text x="960.80" y="52.80" font-size="20.8" font-weight="bold" text-anchor="start" textLength="90.4" lengthAdjust="spacingAndGlyphs" >HYDATA</text>
<text x="1057.70" y="52.80" font-size="20.8" font-weight="bold" text-anchor="start" textLength="89.5" lengthAdjust="spacingAndGlyphs" >Call/Put</text>
<text x="1154.30" y="52.80" font-size="20.8" font-weight="bold" text-anchor="start" textLength="40.3" lengthAdjust="spacingAndGlyphs" >Net</text>
<text x="1202.10" y="52.80" font-size="20.8" font-weight="bold" text-anchor="start" textLength="103.6" lengthAdjust="spacingAndGlyphs" >Heatmap</text>
<text x="1312.70" y="52.80" font-size="20.8" font-weight="bold" text-anchor="start" textLength="49.6" lengthAdjust="spacingAndGlyphs" >with</text>
<text x="1369.80" y="52.80" font-size="20.8" font-weight="bold" text-anchor="start" textLength="96.3" lengthAdjust="spacingAndGlyphs" >Squeeze</text>
<text x="1473.00" y="52.80" font-size="20.8" font-weight="bold" text-anchor="start" textLength="56.9" lengthAdjust="spacingAndGlyphs" >Alert</text>
<text x="1538.70" y="52.80" font-size="20.8" font-weight="bold" text-anchor="start" textLength="60.3" lengthAdjust="spacingAndGlyphs" >(CP5)</text>
<text x="1002.00" y="74.10" font-size="20.8" font-weight="bold" text-anchor="start" textLength="52.5" lengthAdjust="spacingAndGlyphs" >Data</text>
<text x="1062.00" y="74.10" font-size="20.8" font-weight="bold" text-anchor="start" textLength="25.7" lengthAdjust="spacingAndGlyphs" >as</text>
<text x="1094.90" y="74.10" font-size="20.8" font-weight="bold" text-anchor="start" textLength="23.6" lengthAdjust="spacingAndGlyphs" >of</text>
<text x="1125.50" y="74.10" font-size="20.8" font-weight="bold" text-anchor="start" textLength="129.6" lengthAdjust="spacingAndGlyphs" >2026-02-26</text>
<text x="1263.20" y="74.10" font-size="20.8" font-weight="bold" text-anchor="start" textLength="63.5" lengthAdjust="spacingAndGlyphs" >12:40</text>
<text x="1334.40" y="74.10" font-size="20.8" font-weight="bold" text-anchor="start" textLength="42.8" lengthAdjust="spacingAndGlyphs" >EST</text>
<rect x="1385.6" y="64.7" width="3.9" height="3.9"/>
<text x="1398.60" y="74.10" font-size="20.8" font-weight="bold" text-anchor="start" textLength="60.2" lengthAdjust="spacingAndGlyphs" >Spot:</text>
<text x="1466.30" y="74.10" font-size="20.8" font-weight="bold" text-anchor="start" textLength="92.2" lengthAdjust="spacingAndGlyphs" >6875.54</text>
<rect x="2193.4" y="22.6" width="164.8" height="63.6" rx="3.5" fill="#fff" stroke="#555" stroke-width="1.2"/>
<text x="2196.80" y="38.70" font-size="18.3" font-weight="bold" text-anchor="start" textLength="158.0" lengthAdjust="spacingAndGlyphs" >1: 6870 Sell Put</text>
<text x="2196.80" y="58.90" font-size="18.3" font-weight="bold" text-anchor="start" textLength="158.0" lengthAdjust="spacingAndGlyphs" >2: 6860 Sell Put</text>
<text x="2196.80" y="79.10" font-size="18.3" font-weight="bold" text-anchor="start" textLength="158.0" lengthAdjust="spacingAndGlyphs" >3: 6850 Sell Put</text>
<text x="128.00" y="1247.00" font-size="12.1" font-weight="normal" font-style="italic" text-anchor="start" textLength="242.5" lengthAdjust="spacingAndGlyphs" >Copyright, Intellectual Property of HYDATA</text>
<text x="135.60" y="1260.50" font-size="12.1" font-weight="normal" font-style="italic" text-anchor="start" textLength="193.5" lengthAdjust="spacingAndGlyphs" >(This is not an investment advice)</text>
<rect x="937.5" y="1232.4" width="686" height="41.5" rx="3" fill="#fff" stroke="#ccc" stroke-width="1.2"/>
<path d="M955.2 1236.1L948.3 1249.9H962.1Z" fill="#008000"/>
<path d="M955.2 1268.2L948.3 1254.4H962.1Z" fill="#f00"/>
<path d="M1072.7 1236.1L1065.8 1249.9H1079.6Z" fill="#008000"/>
<path d="M1072.7 1268.2L1065.8 1254.4H1079.6Z" fill="#f00"/>
<path d="M1186.60 1235.00L1188.53 1240.94L1194.78 1240.94L1189.72 1244.62L1191.65 1250.56L1186.60 1246.88L1181.55 1250.56L1183.48 1244.62L1178.42 1240.94L1184.67 1240.94Z" fill="#ffd700"/>
<circle cx="1186.6" cy="1261.3" r="8.2" fill="#008000"/>
<path d="M1339.60 1235.00L1341.53 1240.94L1347.78 1240.94L1342.72 1244.62L1344.65 1250.56L1339.60 1246.88L1334.55 1250.56L1336.48 1244.62L1331.42 1240.94L1337.67 1240.94Z" fill="#00f"/>
<circle cx="1339.6" cy="1261.3" r="8.2" fill="#f00"/>
<path d="M1518.4 1243.0H1541.6" stroke="#00f" stroke-width="2.3" stroke-dasharray="9 4.6" fill="none"/>
<text x="977.60" y="1247.30" font-size="13.2" font-weight="normal" text-anchor="start" textLength="55.4" lengthAdjust="spacingAndGlyphs" stroke="#000" stroke-width=".15">Call: Buy</text>
<text x="977.60" y="1265.60" font-size="13.2" font-weight="normal" text-anchor="start" textLength="54.7" lengthAdjust="spacingAndGlyphs" stroke="#000" stroke-width=".15">Call: Sell</text>
<text x="1095.20" y="1247.30" font-size="13.2" font-weight="normal" text-anchor="start" textLength="51.2" lengthAdjust="spacingAndGlyphs" stroke="#000" stroke-width=".15">Put: Sell</text>
<text x="1095.20" y="1265.60" font-size="13.2" font-weight="normal" text-anchor="start" textLength="52.6" lengthAdjust="spacingAndGlyphs" stroke="#000" stroke-width=".15">Put: Buy</text>
<text x="1209.60" y="1247.30" font-size="13.2" font-weight="normal" text-anchor="start" textLength="91.8" lengthAdjust="spacingAndGlyphs" stroke="#000" stroke-width=".15">Short Squeeze</text>
<text x="1209.60" y="1265.60" font-size="13.2" font-weight="normal" text-anchor="start" textLength="87.3" lengthAdjust="spacingAndGlyphs" stroke="#000" stroke-width=".15">Slow Squeeze</text>
<text x="1362.30" y="1247.30" font-size="13.2" font-weight="normal" text-anchor="start" textLength="126.6" lengthAdjust="spacingAndGlyphs" stroke="#000" stroke-width=".15">Fast Downside Slide</text>
<text x="1362.30" y="1265.60" font-size="13.2" font-weight="normal" text-anchor="start" textLength="130.2" lengthAdjust="spacingAndGlyphs" stroke="#000" stroke-width=".15">Slow Downside Slide</text>
<text x="1554.10" y="1247.30" font-size="13.2" font-weight="normal" text-anchor="start" textLength="63.4" lengthAdjust="spacingAndGlyphs" stroke="#000" stroke-width=".15">Spot Price</text>
</g>
</svg>
</body></html>
